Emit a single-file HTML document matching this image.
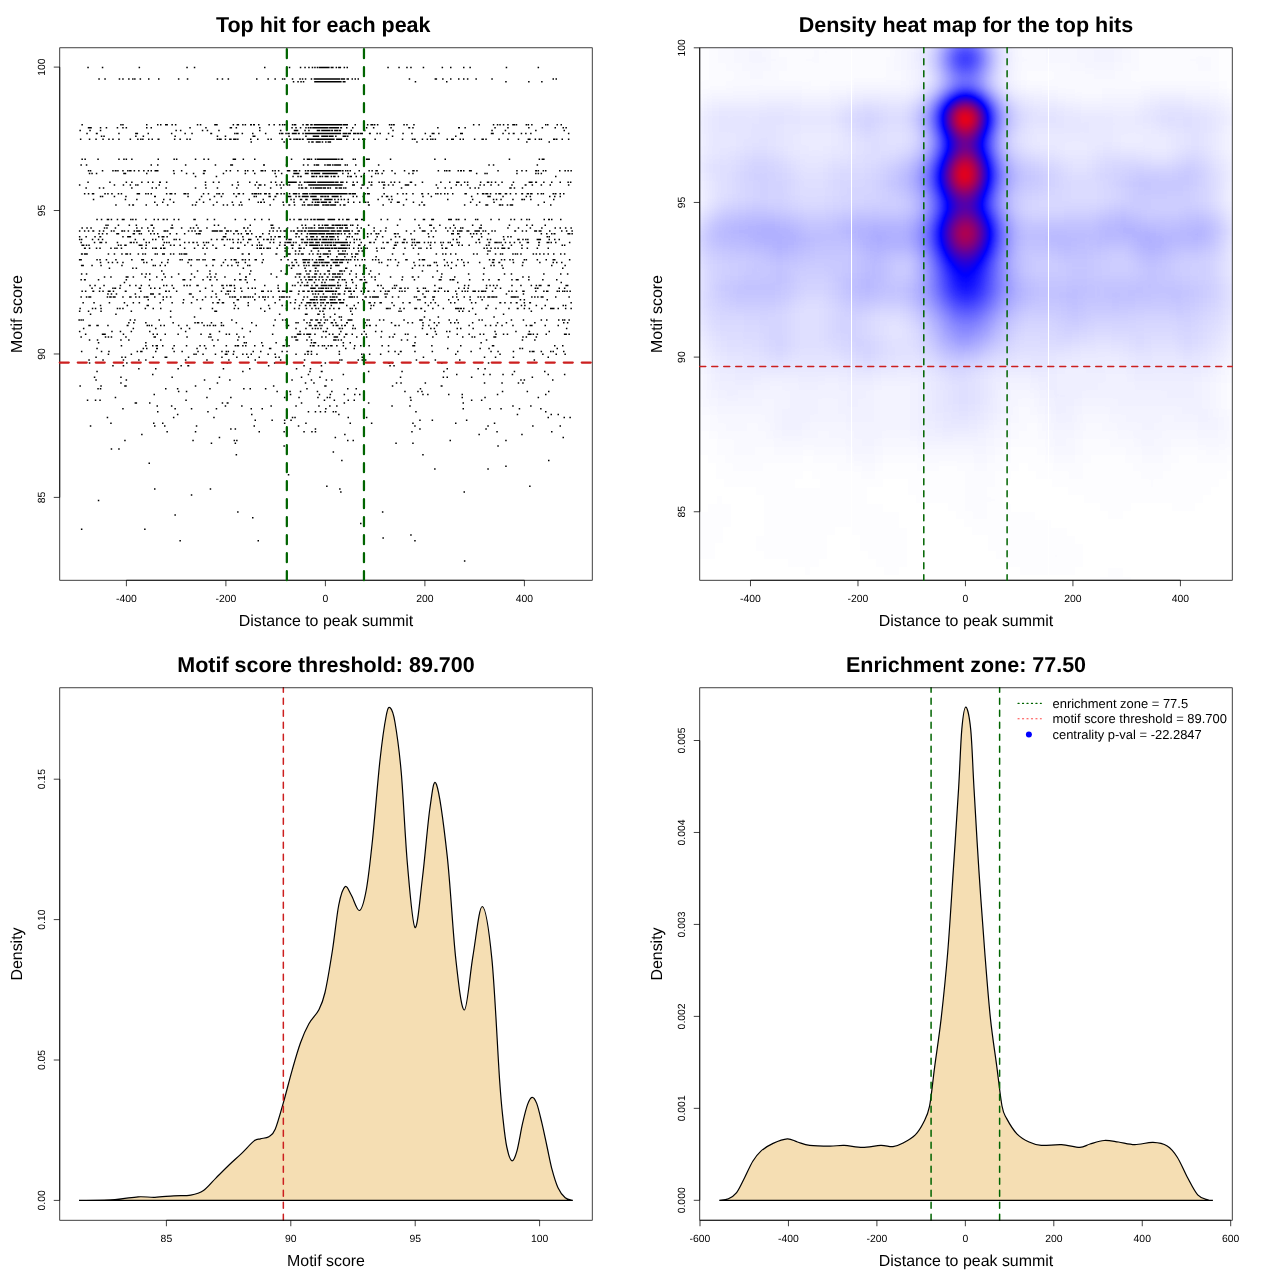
<!DOCTYPE html>
<html><head><meta charset="utf-8"><title>plot</title><style>html,body{margin:0;padding:0;background:#fff;}svg{display:block;will-change:transform;}text{font-family:"Liberation Sans",sans-serif;fill:#000;text-rendering:geometricPrecision;-webkit-font-smoothing:antialiased;}</style>
</head><body>
<svg width="1280" height="1280" viewBox="0 0 1280 1280">
<rect width="1280" height="1280" fill="#fff"/>
<rect x="59.76" y="47.8" width="532.48" height="532.44" fill="none" stroke="#000" stroke-width="0.75"/>
<path d="M126.4 580.24H524.4M126.4 580.24v6M225.9 580.24v6M325.4 580.24v6M424.9 580.24v6M524.4 580.24v6" stroke="#000" stroke-width="0.75" fill="none"/>
<text x="126.4" y="601.94" text-anchor="middle" font-size="10.4">-400</text>
<text x="225.9" y="601.94" text-anchor="middle" font-size="10.4">-200</text>
<text x="325.4" y="601.94" text-anchor="middle" font-size="10.4">0</text>
<text x="424.9" y="601.94" text-anchor="middle" font-size="10.4">200</text>
<text x="524.4" y="601.94" text-anchor="middle" font-size="10.4">400</text>
<path d="M59.76 497.4V67.1M59.76 497.4h-6M59.76 353.97h-6M59.76 210.53h-6M59.76 67.1h-6" stroke="#000" stroke-width="0.75" fill="none"/>
<text transform="translate(45.36 497.4) rotate(-90)" text-anchor="middle" font-size="10.4">85</text>
<text transform="translate(45.36 353.97) rotate(-90)" text-anchor="middle" font-size="10.4">90</text>
<text transform="translate(45.36 210.53) rotate(-90)" text-anchor="middle" font-size="10.4">95</text>
<text transform="translate(45.36 67.1) rotate(-90)" text-anchor="middle" font-size="10.4">100</text>
<text x="323.2" y="31.7" text-anchor="middle" font-size="21.5" font-weight="bold">Top hit for each peak</text>
<text x="326" y="625.9" text-anchor="middle" font-size="15.94">Distance to peak summit</text>
<text transform="translate(21.9 314.02) rotate(-90)" text-anchor="middle" font-size="15.94">Motif score</text>
<path d="M462.5 403.1h1.5M221.7 403.1h1.5M227.1 403.1h1.5M134.6 403.1h1.5M300.8 403.1h1.5M367.9 403.1h1.5M149.0 403.1h1.5M226.6 403.1h1.5M135.6 403.1h1.5M343.6 403.1h1.5M323.7 400.2h1.5M410.2 400.2h1.5M99.3 400.2h1.5M94.8 400.2h1.5M347.5 400.2h1.5M86.8 400.2h1.5M185.3 400.2h1.5M480.9 400.2h1.5M470.9 400.2h1.5M333.6 400.2h1.5M353.5 400.2h1.5M537.6 397.4h1.5M283.9 397.4h1.5M230.1 397.4h1.5M409.7 397.4h1.5M317.2 397.4h1.5M298.3 397.4h1.5M484.3 397.4h1.5M461.5 397.4h1.5M206.2 397.4h1.5M114.7 397.4h1.5M326.6 397.4h1.5M329.1 397.4h1.5M448.0 394.5h1.5M153.5 394.5h1.5M289.8 394.5h1.5M461.5 394.5h1.5M354.0 394.5h1.5M427.1 394.5h1.5M496.8 394.5h1.5M343.6 394.5h1.5M545.0 394.5h1.5M422.2 394.5h1.5M359.0 394.5h1.5M329.6 394.5h1.5M318.7 394.5h1.5M421.2 391.6h1.5M526.6 391.6h1.5M501.8 391.6h1.5M548.0 391.6h1.5M404.2 391.6h1.5M177.9 391.6h1.5M185.8 391.6h1.5M331.1 391.6h1.5M289.3 391.6h1.5M299.8 391.6h1.5M417.2 391.6h1.5M316.7 391.6h1.5M276.4 391.6h1.5M264.9 388.7h1.5M419.7 388.7h1.5M97.3 388.7h1.5M165.0 388.7h1.5M209.2 388.7h1.5M355.5 388.7h1.5M176.9 388.7h1.5M243.1 388.7h1.5M99.8 388.7h1.5M249.5 388.7h1.5M306.2 388.7h1.5M347.0 388.7h1.5M441.1 385.9h1.5M79.4 385.9h1.5M194.8 385.9h1.5M125.2 385.9h1.5M124.2 385.9h1.5M100.3 385.9h1.5M391.8 385.9h1.5M440.6 385.9h1.5M272.9 385.9h1.5M325.1 385.9h1.5M324.2 385.9h1.5M120.2 383.0h1.5M424.6 383.0h1.5M395.8 383.0h1.5M483.8 383.0h1.5M517.7 383.0h1.5M522.2 383.0h1.5M501.3 383.0h1.5M216.7 383.0h1.5M400.3 383.0h1.5M304.8 383.0h1.5M313.2 383.0h1.5M520.2 380.1h1.5M552.0 380.1h1.5M95.3 380.1h1.5M291.3 380.1h1.5M331.1 380.1h1.5M229.1 380.1h1.5M125.6 380.1h1.5M523.6 380.1h1.5M203.8 380.1h1.5M310.7 380.1h1.5M325.6 380.1h1.5M446.5 377.3h1.5M93.8 377.3h1.5M171.4 377.3h1.5M120.2 377.3h1.5M442.6 377.3h1.5M218.7 377.3h1.5M470.9 377.3h1.5M531.6 377.3h1.5M399.8 377.3h1.5M300.8 377.3h1.5M319.2 377.3h1.5M547.5 374.4h1.5M152.0 374.4h1.5M563.9 374.4h1.5M456.0 374.4h1.5M511.7 374.4h1.5M502.3 374.4h1.5M489.3 374.4h1.5M482.9 374.4h1.5M307.7 374.4h1.5M342.6 374.4h1.5M544.0 371.5h1.5M242.1 371.5h1.5M320.7 371.5h1.5M513.7 371.5h1.5M96.3 371.5h1.5M401.3 371.5h1.5M443.1 371.5h1.5M367.9 371.5h1.5M309.2 371.5h1.5M321.2 371.5h1.5M177.4 368.7h1.5M138.1 368.7h1.5M295.8 368.7h1.5M155.0 368.7h1.5M477.4 368.7h1.5M446.5 368.7h1.5M249.0 368.7h1.5M222.7 368.7h1.5M484.3 368.7h1.5M309.7 368.7h1.5M180.4 365.8h1.5M389.3 365.8h1.5M393.3 365.8h1.5M187.8 365.8h1.5M303.3 365.8h1.5M112.2 365.8h1.5M267.9 365.8h1.5M187.3 365.8h1.5M122.7 365.8h1.5M320.7 365.8h1.5M441.1 362.9h1.5M273.9 362.9h1.5M391.8 362.9h1.5M388.8 362.9h1.5M226.6 362.9h1.5M487.8 362.9h1.5M324.6 362.9h1.5M387.8 362.9h1.5M126.1 362.9h1.5M88.8 362.9h1.5M337.1 362.9h1.5M339.1 360.1h1.5M434.6 360.1h1.5M145.1 360.1h1.5M122.7 360.1h1.5M254.5 360.1h1.5M303.8 360.1h1.5M533.6 360.1h1.5M138.1 360.1h1.5M279.9 360.1h1.5M228.1 360.1h1.5M184.9 360.1h1.5M357.5 360.1h1.5M102.3 360.1h1.5M361.5 360.1h1.5M364.9 360.1h1.5M459.0 360.1h1.5M206.2 360.1h1.5M415.7 360.1h1.5M88.3 360.1h1.5M341.1 360.1h1.5M247.5 357.2h1.5M494.8 357.2h1.5M165.4 357.2h1.5M164.5 357.2h1.5M187.8 357.2h1.5M258.5 357.2h1.5M361.5 357.2h1.5M512.7 357.2h1.5M95.3 357.2h1.5M274.9 357.2h1.5M152.5 357.2h1.5M221.2 357.2h1.5M121.2 357.2h1.5M422.7 357.2h1.5M124.7 357.2h1.5M483.8 357.2h1.5M236.1 357.2h1.5M165.9 357.2h1.5M547.5 357.2h1.5M278.4 357.2h1.5M193.3 354.3h1.5M368.9 354.3h1.5M361.0 354.3h1.5M499.3 354.3h1.5M202.3 354.3h1.5M295.3 354.3h1.5M316.2 354.3h1.5M250.5 354.3h1.5M379.9 354.3h1.5M555.5 354.3h1.5M224.7 354.3h1.5M274.4 354.3h1.5M242.1 354.3h1.5M310.7 354.3h1.5M564.4 354.3h1.5M455.0 354.3h1.5M232.6 354.3h1.5M542.1 354.3h1.5M214.7 354.3h1.5M195.3 354.3h1.5M397.8 354.3h1.5M267.4 354.3h1.5M107.7 354.3h1.5M246.0 354.3h1.5M130.6 354.3h1.5M304.3 354.3h1.5M338.6 354.3h1.5M307.2 354.3h1.5M226.1 354.3h1.5M363.0 354.3h1.5M252.5 351.5h1.5M531.6 351.5h1.5M80.9 351.5h1.5M414.2 351.5h1.5M181.4 351.5h1.5M490.3 351.5h1.5M338.6 351.5h1.5M563.0 351.5h1.5M260.0 351.5h1.5M394.3 351.5h1.5M233.1 351.5h1.5M310.7 351.5h1.5M108.2 351.5h1.5M387.8 351.5h1.5M497.3 351.5h1.5M533.1 351.5h1.5M470.4 351.5h1.5M281.4 351.5h1.5M400.3 351.5h1.5M140.1 351.5h1.5M221.2 351.5h1.5M197.3 351.5h1.5M141.1 351.5h1.5M173.4 351.5h1.5M540.6 351.5h1.5M399.8 351.5h1.5M550.0 351.5h1.5M225.6 351.5h1.5M306.7 351.5h1.5M136.6 351.5h1.5M431.6 351.5h1.5M155.0 351.5h1.5M100.8 351.5h1.5M512.7 351.5h1.5M286.3 351.5h1.5M552.5 351.5h1.5M457.0 351.5h1.5M227.6 351.5h1.5M307.7 351.5h1.5M529.1 351.5h1.5M156.5 348.6h1.5M325.6 348.6h1.5M519.2 348.6h1.5M556.5 348.6h1.5M521.7 348.6h1.5M156.0 348.6h1.5M96.3 348.6h1.5M268.9 348.6h1.5M196.3 348.6h1.5M205.2 348.6h1.5M146.0 348.6h1.5M447.0 348.6h1.5M269.9 348.6h1.5M479.4 348.6h1.5M488.3 348.6h1.5M171.9 348.6h1.5M142.6 348.6h1.5M345.0 348.6h1.5M353.5 348.6h1.5M236.6 345.7h1.5M460.0 345.7h1.5M381.4 345.7h1.5M321.7 345.7h1.5M412.2 345.7h1.5M155.5 345.7h1.5M199.3 345.7h1.5M554.0 345.7h1.5M288.3 345.7h1.5M237.6 345.7h1.5M234.6 345.7h1.5M254.0 345.7h1.5M387.8 345.7h1.5M225.6 345.7h1.5M368.4 345.7h1.5M185.8 345.7h1.5M491.8 345.7h1.5M152.0 345.7h1.5M360.0 345.7h1.5M156.5 345.7h1.5M120.7 345.7h1.5M145.1 345.7h1.5M413.7 345.7h1.5M242.1 345.7h1.5M245.0 345.7h1.5M203.8 345.7h1.5M262.0 345.7h1.5M313.2 345.7h1.5M413.2 345.7h1.5M492.8 345.7h1.5M330.6 345.7h1.5M317.7 345.7h1.5M213.2 345.7h1.5M173.4 345.7h1.5M283.4 345.7h1.5M562.0 345.7h1.5M336.1 345.7h1.5M331.1 345.7h1.5M330.1 345.7h1.5M309.7 345.7h1.5M431.1 345.7h1.5M162.0 345.7h1.5M354.0 345.7h1.5M323.7 345.7h1.5M282.4 345.7h1.5M327.6 345.7h1.5M312.2 345.7h1.5M342.6 345.7h1.5M261.0 342.8h1.5M349.5 342.8h1.5M314.7 342.8h1.5M97.8 342.8h1.5M245.5 342.8h1.5M342.6 342.8h1.5M480.4 342.8h1.5M414.2 342.8h1.5M145.1 342.8h1.5M243.6 342.8h1.5M310.7 342.8h1.5M313.2 342.8h1.5M275.4 342.8h1.5M160.0 340.0h1.5M295.3 340.0h1.5M406.7 340.0h1.5M96.8 340.0h1.5M128.1 340.0h1.5M400.8 340.0h1.5M485.8 340.0h1.5M211.7 340.0h1.5M217.2 340.0h1.5M334.6 340.0h1.5M120.2 340.0h1.5M521.7 340.0h1.5M285.3 340.0h1.5M534.1 340.0h1.5M88.8 340.0h1.5M237.1 340.0h1.5M310.7 340.0h1.5M337.6 340.0h1.5M335.1 340.0h1.5M333.1 340.0h1.5M340.6 340.0h1.5M306.2 340.0h1.5M296.8 340.0h1.5M471.4 337.1h1.5M447.5 337.1h1.5M522.2 337.1h1.5M462.0 337.1h1.5M291.3 337.1h1.5M535.6 337.1h1.5M473.9 337.1h1.5M80.4 337.1h1.5M238.1 337.1h1.5M153.5 337.1h1.5M321.2 337.1h1.5M125.2 337.1h1.5M293.8 337.1h1.5M186.3 337.1h1.5M243.1 337.1h1.5M154.5 337.1h1.5M494.8 337.1h1.5M308.7 337.1h1.5M388.8 337.1h1.5M325.1 337.1h1.5M210.2 337.1h1.5M525.6 337.1h1.5M208.2 337.1h1.5M432.1 337.1h1.5M104.8 337.1h1.5M107.7 337.1h1.5M493.3 337.1h1.5M356.0 337.1h1.5M414.7 337.1h1.5M392.3 337.1h1.5M110.7 337.1h1.5M380.4 337.1h1.5M333.6 337.1h1.5M335.1 337.1h1.5M365.9 337.1h1.5M336.6 337.1h1.5M343.6 337.1h1.5M295.3 337.1h1.5M565.4 334.2h1.5M298.3 334.2h1.5M296.8 334.2h1.5M407.2 334.2h1.5M306.2 334.2h1.5M122.7 334.2h1.5M568.4 334.2h1.5M456.5 334.2h1.5M479.4 334.2h1.5M530.1 334.2h1.5M426.1 334.2h1.5M502.8 334.2h1.5M536.6 334.2h1.5M200.3 334.2h1.5M435.6 334.2h1.5M495.3 334.2h1.5M563.9 334.2h1.5M527.6 334.2h1.5M346.0 334.2h1.5M426.6 334.2h1.5M306.7 334.2h1.5M532.6 334.2h1.5M361.0 334.2h1.5M271.9 334.2h1.5M482.9 334.2h1.5M152.5 334.2h1.5M101.8 334.2h1.5M164.5 334.2h1.5M84.9 334.2h1.5M468.4 334.2h1.5M209.7 334.2h1.5M228.6 334.2h1.5M225.6 334.2h1.5M177.4 334.2h1.5M529.1 334.2h1.5M104.3 334.2h1.5M308.7 334.2h1.5M393.8 334.2h1.5M332.1 334.2h1.5M236.1 334.2h1.5M209.2 334.2h1.5M545.5 334.2h1.5M103.3 334.2h1.5M506.7 334.2h1.5M156.5 334.2h1.5M404.7 334.2h1.5M365.4 334.2h1.5M299.8 334.2h1.5M338.6 334.2h1.5M328.6 334.2h1.5M314.2 334.2h1.5M351.5 334.2h1.5M345.0 334.2h1.5M307.7 334.2h1.5M303.3 334.2h1.5M309.7 334.2h1.5M218.7 331.4h1.5M515.2 331.4h1.5M363.5 331.4h1.5M111.2 331.4h1.5M249.5 331.4h1.5M446.0 331.4h1.5M299.3 331.4h1.5M149.0 331.4h1.5M548.5 331.4h1.5M528.6 331.4h1.5M434.6 331.4h1.5M119.7 331.4h1.5M184.9 331.4h1.5M380.9 331.4h1.5M130.6 331.4h1.5M374.9 331.4h1.5M78.9 331.4h1.5M325.6 331.4h1.5M449.0 331.4h1.5M494.3 331.4h1.5M322.7 331.4h1.5M340.1 331.4h1.5M325.1 331.4h1.5M430.1 328.5h1.5M155.0 328.5h1.5M421.7 328.5h1.5M433.6 328.5h1.5M241.6 328.5h1.5M317.2 328.5h1.5M82.9 328.5h1.5M311.7 328.5h1.5M339.1 328.5h1.5M565.9 328.5h1.5M180.4 328.5h1.5M338.6 328.5h1.5M295.3 328.5h1.5M460.0 328.5h1.5M352.0 328.5h1.5M456.5 328.5h1.5M472.4 328.5h1.5M132.6 328.5h1.5M188.8 328.5h1.5M314.7 328.5h1.5M341.6 328.5h1.5M326.6 328.5h1.5M320.2 328.5h1.5M305.2 328.5h1.5M354.5 328.5h1.5M375.4 325.6h1.5M368.9 325.6h1.5M89.3 325.6h1.5M525.6 325.6h1.5M335.6 325.6h1.5M394.3 325.6h1.5M186.3 325.6h1.5M332.6 325.6h1.5M88.3 325.6h1.5M344.1 325.6h1.5M529.6 325.6h1.5M394.8 325.6h1.5M365.9 325.6h1.5M344.5 325.6h1.5M222.7 325.6h1.5M484.8 325.6h1.5M220.7 325.6h1.5M531.1 325.6h1.5M501.3 325.6h1.5M436.1 325.6h1.5M127.1 325.6h1.5M272.9 325.6h1.5M398.3 325.6h1.5M255.5 325.6h1.5M177.9 325.6h1.5M287.8 325.6h1.5M151.0 325.6h1.5M203.3 325.6h1.5M126.6 325.6h1.5M468.4 325.6h1.5M97.3 325.6h1.5M209.2 325.6h1.5M337.1 325.6h1.5M163.5 325.6h1.5M557.5 325.6h1.5M489.8 325.6h1.5M422.2 325.6h1.5M369.4 325.6h1.5M107.2 325.6h1.5M214.7 325.6h1.5M495.3 325.6h1.5M146.5 325.6h1.5M544.5 325.6h1.5M206.7 325.6h1.5M512.2 325.6h1.5M212.7 325.6h1.5M148.5 325.6h1.5M160.0 325.6h1.5M428.1 325.6h1.5M96.3 325.6h1.5M352.5 325.6h1.5M315.7 325.6h1.5M310.2 325.6h1.5M308.7 325.6h1.5M341.1 325.6h1.5M314.2 325.6h1.5M285.8 325.6h1.5M321.2 325.6h1.5M319.2 325.6h1.5M346.5 322.8h1.5M235.6 322.8h1.5M197.8 322.8h1.5M196.8 322.8h1.5M450.0 322.8h1.5M335.1 322.8h1.5M201.3 322.8h1.5M496.8 322.8h1.5M133.1 322.8h1.5M172.4 322.8h1.5M438.1 322.8h1.5M563.0 322.8h1.5M566.9 322.8h1.5M285.8 322.8h1.5M128.1 322.8h1.5M194.3 322.8h1.5M251.0 322.8h1.5M145.1 322.8h1.5M319.2 322.8h1.5M317.7 322.8h1.5M457.5 322.8h1.5M454.0 322.8h1.5M210.7 322.8h1.5M346.0 322.8h1.5M534.1 322.8h1.5M422.2 322.8h1.5M295.3 322.8h1.5M411.7 322.8h1.5M433.6 322.8h1.5M390.8 322.8h1.5M407.2 322.8h1.5M471.9 322.8h1.5M505.7 322.8h1.5M364.4 322.8h1.5M363.5 322.8h1.5M220.7 322.8h1.5M306.2 322.8h1.5M323.7 322.8h1.5M330.6 322.8h1.5M297.3 322.8h1.5M331.6 322.8h1.5M309.2 322.8h1.5M318.7 322.8h1.5M351.0 319.9h1.5M563.9 319.9h1.5M368.4 319.9h1.5M540.6 319.9h1.5M382.9 319.9h1.5M348.5 319.9h1.5M481.4 319.9h1.5M558.0 319.9h1.5M403.3 319.9h1.5M456.0 319.9h1.5M510.7 319.9h1.5M378.9 319.9h1.5M158.5 319.9h1.5M82.4 319.9h1.5M421.2 319.9h1.5M129.6 319.9h1.5M429.1 319.9h1.5M134.1 319.9h1.5M320.2 319.9h1.5M281.9 319.9h1.5M80.4 319.9h1.5M78.4 319.9h1.5M231.1 319.9h1.5M522.7 319.9h1.5M326.6 319.9h1.5M420.7 319.9h1.5M478.4 319.9h1.5M419.2 319.9h1.5M366.4 319.9h1.5M568.4 319.9h1.5M310.2 319.9h1.5M562.0 319.9h1.5M274.4 319.9h1.5M448.5 319.9h1.5M284.8 319.9h1.5M546.0 319.9h1.5M340.6 319.9h1.5M349.5 319.9h1.5M303.3 319.9h1.5M324.6 319.9h1.5M347.5 319.9h1.5M316.7 319.9h1.5M315.2 319.9h1.5M311.2 319.9h1.5M316.2 319.9h1.5M333.6 319.9h1.5M169.9 317.0h1.5M193.8 317.0h1.5M423.7 317.0h1.5M493.3 317.0h1.5M437.6 317.0h1.5M323.2 317.0h1.5M340.6 317.0h1.5M338.6 317.0h1.5M329.6 317.0h1.5M474.9 314.2h1.5M306.2 314.2h1.5M89.8 314.2h1.5M115.2 314.2h1.5M502.8 314.2h1.5M278.9 314.2h1.5M304.8 314.2h1.5M351.5 314.2h1.5M323.2 314.2h1.5M317.2 314.2h1.5M318.2 314.2h1.5M334.1 314.2h1.5M87.8 311.3h1.5M530.6 311.3h1.5M264.0 311.3h1.5M100.3 311.3h1.5M215.7 311.3h1.5M458.5 311.3h1.5M468.4 311.3h1.5M398.3 311.3h1.5M462.0 311.3h1.5M350.0 311.3h1.5M130.6 311.3h1.5M400.3 311.3h1.5M424.1 311.3h1.5M214.2 311.3h1.5M78.9 311.3h1.5M169.9 311.3h1.5M322.2 311.3h1.5M319.2 311.3h1.5M517.2 308.4h1.5M94.8 308.4h1.5M160.0 308.4h1.5M387.3 308.4h1.5M355.0 308.4h1.5M459.5 308.4h1.5M460.5 308.4h1.5M399.3 308.4h1.5M528.6 308.4h1.5M553.0 308.4h1.5M91.8 308.4h1.5M116.7 308.4h1.5M457.5 308.4h1.5M349.5 308.4h1.5M298.3 308.4h1.5M485.3 308.4h1.5M516.7 308.4h1.5M550.0 308.4h1.5M557.5 308.4h1.5M285.8 308.4h1.5M455.0 308.4h1.5M456.0 308.4h1.5M432.1 308.4h1.5M463.0 308.4h1.5M199.8 308.4h1.5M152.5 308.4h1.5M237.6 308.4h1.5M315.2 308.4h1.5M144.6 308.4h1.5M79.4 308.4h1.5M122.2 308.4h1.5M442.6 308.4h1.5M119.2 308.4h1.5M420.2 308.4h1.5M541.1 308.4h1.5M233.6 308.4h1.5M100.3 308.4h1.5M305.7 308.4h1.5M385.8 308.4h1.5M495.3 308.4h1.5M323.2 308.4h1.5M415.7 308.4h1.5M523.6 308.4h1.5M403.3 308.4h1.5M420.7 308.4h1.5M471.9 308.4h1.5M389.3 308.4h1.5M268.9 308.4h1.5M551.5 308.4h1.5M570.4 308.4h1.5M351.5 308.4h1.5M564.9 308.4h1.5M414.2 308.4h1.5M508.2 308.4h1.5M260.0 308.4h1.5M369.9 308.4h1.5M485.8 308.4h1.5M293.8 308.4h1.5M211.7 308.4h1.5M338.6 308.4h1.5M329.1 308.4h1.5M338.1 308.4h1.5M324.2 308.4h1.5M333.1 308.4h1.5M322.7 308.4h1.5M317.7 308.4h1.5M311.2 308.4h1.5M437.6 305.6h1.5M99.8 305.6h1.5M393.3 305.6h1.5M370.4 305.6h1.5M520.7 305.6h1.5M281.4 305.6h1.5M487.3 305.6h1.5M147.5 305.6h1.5M535.6 305.6h1.5M234.6 305.6h1.5M564.9 305.6h1.5M146.5 305.6h1.5M247.5 305.6h1.5M562.5 305.6h1.5M324.6 305.6h1.5M372.9 305.6h1.5M267.9 305.6h1.5M544.5 305.6h1.5M524.1 305.6h1.5M285.8 305.6h1.5M126.6 305.6h1.5M427.6 305.6h1.5M304.8 305.6h1.5M353.5 305.6h1.5M320.2 305.6h1.5M305.2 305.6h1.5M346.0 305.6h1.5M314.7 305.6h1.5M313.7 305.6h1.5M330.6 305.6h1.5M298.8 305.6h1.5M309.2 305.6h1.5M380.4 302.7h1.5M368.4 302.7h1.5M212.2 302.7h1.5M82.4 302.7h1.5M93.3 302.7h1.5M123.7 302.7h1.5M499.8 302.7h1.5M132.6 302.7h1.5M108.7 302.7h1.5M499.3 302.7h1.5M138.6 302.7h1.5M529.6 302.7h1.5M327.6 302.7h1.5M373.9 302.7h1.5M190.8 302.7h1.5M474.9 302.7h1.5M504.2 302.7h1.5M159.5 302.7h1.5M515.7 302.7h1.5M570.4 302.7h1.5M289.8 302.7h1.5M409.2 302.7h1.5M379.4 302.7h1.5M221.7 302.7h1.5M430.1 302.7h1.5M274.4 302.7h1.5M402.3 302.7h1.5M247.5 302.7h1.5M217.7 302.7h1.5M182.4 302.7h1.5M523.6 302.7h1.5M335.1 302.7h1.5M470.9 302.7h1.5M357.5 302.7h1.5M434.6 302.7h1.5M454.0 302.7h1.5M424.6 302.7h1.5M516.2 302.7h1.5M408.7 302.7h1.5M391.3 302.7h1.5M171.4 302.7h1.5M342.6 302.7h1.5M216.7 302.7h1.5M222.7 302.7h1.5M529.1 302.7h1.5M233.1 302.7h1.5M450.0 302.7h1.5M510.2 302.7h1.5M314.2 302.7h1.5M330.6 302.7h1.5M339.1 302.7h1.5M312.7 302.7h1.5M322.2 302.7h1.5M336.1 302.7h1.5M334.1 302.7h1.5M332.1 302.7h1.5M326.1 302.7h1.5M306.2 302.7h1.5M307.7 302.7h1.5M316.7 302.7h1.5M310.2 302.7h1.5M322.7 302.7h1.5M333.1 302.7h1.5M339.6 302.7h1.5M369.4 302.7h1.5M341.6 302.7h1.5M309.2 302.7h1.5M308.7 302.7h1.5M330.1 302.7h1.5M300.8 302.7h1.5M340.6 302.7h1.5M320.2 302.7h1.5M294.3 302.7h1.5M254.0 299.8h1.5M519.7 299.8h1.5M523.6 299.8h1.5M343.1 299.8h1.5M196.3 299.8h1.5M278.9 299.8h1.5M311.2 299.8h1.5M294.8 299.8h1.5M162.5 299.8h1.5M316.2 299.8h1.5M457.5 299.8h1.5M546.5 299.8h1.5M302.3 299.8h1.5M201.8 299.8h1.5M469.4 299.8h1.5M237.6 299.8h1.5M432.6 299.8h1.5M147.5 299.8h1.5M448.0 299.8h1.5M182.9 299.8h1.5M218.7 299.8h1.5M481.4 299.8h1.5M419.2 299.8h1.5M334.1 299.8h1.5M417.2 299.8h1.5M323.7 299.8h1.5M236.6 299.8h1.5M331.1 299.8h1.5M332.1 299.8h1.5M309.7 299.8h1.5M324.2 299.8h1.5M319.7 299.8h1.5M312.7 299.8h1.5M362.0 299.8h1.5M339.6 299.8h1.5M338.1 299.8h1.5M320.2 299.8h1.5M321.2 299.8h1.5M313.7 299.8h1.5M329.6 299.8h1.5M315.7 299.8h1.5M338.6 299.8h1.5M323.2 299.8h1.5M310.2 299.8h1.5M264.0 299.8h1.5M413.7 296.9h1.5M215.7 296.9h1.5M375.9 296.9h1.5M210.7 296.9h1.5M377.4 296.9h1.5M288.8 296.9h1.5M262.0 296.9h1.5M452.0 296.9h1.5M281.9 296.9h1.5M258.5 296.9h1.5M169.9 296.9h1.5M234.6 296.9h1.5M88.3 296.9h1.5M333.6 296.9h1.5M531.1 296.9h1.5M122.2 296.9h1.5M491.3 296.9h1.5M348.5 296.9h1.5M272.4 296.9h1.5M365.4 296.9h1.5M456.0 296.9h1.5M463.5 296.9h1.5M165.9 296.9h1.5M433.6 296.9h1.5M364.4 296.9h1.5M192.3 296.9h1.5M432.1 296.9h1.5M252.0 296.9h1.5M369.4 296.9h1.5M147.0 296.9h1.5M356.5 296.9h1.5M555.0 296.9h1.5M233.6 296.9h1.5M154.0 296.9h1.5M280.9 296.9h1.5M278.9 296.9h1.5M283.4 296.9h1.5M229.1 296.9h1.5M135.1 296.9h1.5M542.1 296.9h1.5M204.8 296.9h1.5M517.2 296.9h1.5M534.1 296.9h1.5M85.8 296.9h1.5M106.7 296.9h1.5M143.6 296.9h1.5M138.6 296.9h1.5M231.6 296.9h1.5M110.2 296.9h1.5M264.5 296.9h1.5M114.2 296.9h1.5M374.9 296.9h1.5M109.2 296.9h1.5M162.5 296.9h1.5M495.3 296.9h1.5M479.9 296.9h1.5M80.4 296.9h1.5M423.7 296.9h1.5M89.8 296.9h1.5M376.9 296.9h1.5M349.0 296.9h1.5M397.8 296.9h1.5M487.3 296.9h1.5M243.1 296.9h1.5M249.5 296.9h1.5M244.6 296.9h1.5M129.1 296.9h1.5M510.7 296.9h1.5M349.5 296.9h1.5M391.8 296.9h1.5M371.9 296.9h1.5M495.8 296.9h1.5M493.3 296.9h1.5M415.7 296.9h1.5M512.2 296.9h1.5M351.5 296.9h1.5M568.4 296.9h1.5M385.3 296.9h1.5M286.3 296.9h1.5M469.4 296.9h1.5M145.5 296.9h1.5M515.2 296.9h1.5M488.8 296.9h1.5M262.5 296.9h1.5M424.6 296.9h1.5M483.4 296.9h1.5M247.5 296.9h1.5M513.7 296.9h1.5M303.3 296.9h1.5M540.6 296.9h1.5M477.4 296.9h1.5M130.1 296.9h1.5M245.0 296.9h1.5M240.1 296.9h1.5M537.1 296.9h1.5M384.8 296.9h1.5M112.7 296.9h1.5M491.8 296.9h1.5M350.5 296.9h1.5M267.4 296.9h1.5M316.2 296.9h1.5M325.6 296.9h1.5M321.7 296.9h1.5M373.4 296.9h1.5M325.1 296.9h1.5M326.1 296.9h1.5M315.7 296.9h1.5M335.6 296.9h1.5M319.7 296.9h1.5M332.1 296.9h1.5M306.7 296.9h1.5M285.8 296.9h1.5M323.7 296.9h1.5M313.7 296.9h1.5M364.9 296.9h1.5M336.1 296.9h1.5M331.6 296.9h1.5M329.6 296.9h1.5M353.5 296.9h1.5M343.6 294.1h1.5M386.3 294.1h1.5M362.5 294.1h1.5M151.0 294.1h1.5M297.8 294.1h1.5M158.5 294.1h1.5M456.0 294.1h1.5M115.7 294.1h1.5M422.2 294.1h1.5M152.5 294.1h1.5M150.0 294.1h1.5M254.5 294.1h1.5M110.7 294.1h1.5M215.2 294.1h1.5M107.2 294.1h1.5M312.2 294.1h1.5M505.7 294.1h1.5M159.0 294.1h1.5M384.3 294.1h1.5M350.5 294.1h1.5M225.1 294.1h1.5M188.8 294.1h1.5M134.6 294.1h1.5M190.3 294.1h1.5M227.6 294.1h1.5M522.7 294.1h1.5M339.1 294.1h1.5M337.6 294.1h1.5M314.7 294.1h1.5M334.6 294.1h1.5M322.7 294.1h1.5M332.1 294.1h1.5M317.7 294.1h1.5M311.7 291.2h1.5M109.2 291.2h1.5M270.4 291.2h1.5M353.5 291.2h1.5M546.0 291.2h1.5M556.5 291.2h1.5M434.6 291.2h1.5M298.3 291.2h1.5M425.6 291.2h1.5M124.7 291.2h1.5M387.3 291.2h1.5M102.3 291.2h1.5M199.3 291.2h1.5M241.1 291.2h1.5M569.4 291.2h1.5M543.1 291.2h1.5M175.9 291.2h1.5M484.8 291.2h1.5M562.0 291.2h1.5M229.6 291.2h1.5M84.9 291.2h1.5M98.8 291.2h1.5M311.2 291.2h1.5M477.9 291.2h1.5M535.1 291.2h1.5M401.3 291.2h1.5M491.8 291.2h1.5M472.4 291.2h1.5M417.2 291.2h1.5M350.0 291.2h1.5M285.3 291.2h1.5M302.3 291.2h1.5M165.4 291.2h1.5M388.3 291.2h1.5M466.9 291.2h1.5M508.2 291.2h1.5M360.5 291.2h1.5M327.6 291.2h1.5M523.2 291.2h1.5M444.0 291.2h1.5M344.1 291.2h1.5M455.0 291.2h1.5M515.7 291.2h1.5M353.0 291.2h1.5M211.7 291.2h1.5M165.0 291.2h1.5M261.0 291.2h1.5M92.3 291.2h1.5M373.4 291.2h1.5M417.7 291.2h1.5M107.7 291.2h1.5M480.9 291.2h1.5M484.3 291.2h1.5M461.5 291.2h1.5M398.8 291.2h1.5M437.6 291.2h1.5M281.9 291.2h1.5M320.2 291.2h1.5M283.4 291.2h1.5M321.2 291.2h1.5M289.8 291.2h1.5M112.7 291.2h1.5M379.9 291.2h1.5M447.5 291.2h1.5M277.9 291.2h1.5M81.4 291.2h1.5M168.4 291.2h1.5M278.4 291.2h1.5M125.2 291.2h1.5M473.9 291.2h1.5M92.8 291.2h1.5M367.9 291.2h1.5M547.0 291.2h1.5M447.0 291.2h1.5M522.2 291.2h1.5M316.2 291.2h1.5M289.3 291.2h1.5M332.1 291.2h1.5M563.9 291.2h1.5M433.6 291.2h1.5M308.2 291.2h1.5M566.4 291.2h1.5M267.4 291.2h1.5M349.0 291.2h1.5M233.6 291.2h1.5M227.6 291.2h1.5M404.2 291.2h1.5M226.6 291.2h1.5M290.8 291.2h1.5M348.0 291.2h1.5M262.0 291.2h1.5M464.4 291.2h1.5M140.1 291.2h1.5M482.4 291.2h1.5M474.4 291.2h1.5M558.5 291.2h1.5M262.5 291.2h1.5M427.6 291.2h1.5M418.2 291.2h1.5M220.7 291.2h1.5M511.2 291.2h1.5M384.8 291.2h1.5M321.7 291.2h1.5M303.3 291.2h1.5M314.7 291.2h1.5M335.6 291.2h1.5M328.6 291.2h1.5M319.7 291.2h1.5M325.1 291.2h1.5M318.2 291.2h1.5M330.1 291.2h1.5M331.1 291.2h1.5M367.4 291.2h1.5M334.6 291.2h1.5M307.2 291.2h1.5M326.1 291.2h1.5M329.1 291.2h1.5M332.6 291.2h1.5M328.1 291.2h1.5M154.0 288.3h1.5M534.6 288.3h1.5M277.4 288.3h1.5M438.6 288.3h1.5M240.1 288.3h1.5M119.2 288.3h1.5M400.3 288.3h1.5M391.8 288.3h1.5M485.8 288.3h1.5M114.7 288.3h1.5M536.6 288.3h1.5M558.5 288.3h1.5M325.1 288.3h1.5M159.0 288.3h1.5M254.5 288.3h1.5M416.7 288.3h1.5M463.5 288.3h1.5M204.8 288.3h1.5M382.4 288.3h1.5M440.6 288.3h1.5M138.6 288.3h1.5M499.8 288.3h1.5M407.2 288.3h1.5M150.0 288.3h1.5M247.5 288.3h1.5M139.6 288.3h1.5M494.8 288.3h1.5M251.5 288.3h1.5M467.4 288.3h1.5M99.3 288.3h1.5M399.3 288.3h1.5M424.6 288.3h1.5M114.2 288.3h1.5M234.1 288.3h1.5M345.0 288.3h1.5M563.9 288.3h1.5M112.2 288.3h1.5M458.0 288.3h1.5M91.3 288.3h1.5M394.3 288.3h1.5M422.7 288.3h1.5M537.1 288.3h1.5M222.7 288.3h1.5M346.0 288.3h1.5M404.2 288.3h1.5M172.9 288.3h1.5M355.5 288.3h1.5M321.2 288.3h1.5M322.7 288.3h1.5M310.2 288.3h1.5M362.5 288.3h1.5M349.5 288.3h1.5M338.1 288.3h1.5M347.0 288.3h1.5M364.4 288.3h1.5M320.2 288.3h1.5M327.6 288.3h1.5M314.2 288.3h1.5M330.6 288.3h1.5M318.2 288.3h1.5M312.7 288.3h1.5M335.6 288.3h1.5M321.7 288.3h1.5M336.1 288.3h1.5M311.7 288.3h1.5M325.6 288.3h1.5M119.7 285.5h1.5M189.3 285.5h1.5M264.0 285.5h1.5M303.8 285.5h1.5M226.1 285.5h1.5M323.2 285.5h1.5M380.4 285.5h1.5M222.2 285.5h1.5M315.2 285.5h1.5M315.7 285.5h1.5M339.6 285.5h1.5M103.3 285.5h1.5M277.4 285.5h1.5M171.4 285.5h1.5M229.1 285.5h1.5M186.3 285.5h1.5M434.1 285.5h1.5M291.8 285.5h1.5M530.6 285.5h1.5M535.6 285.5h1.5M294.3 285.5h1.5M197.3 285.5h1.5M566.9 285.5h1.5M467.9 285.5h1.5M511.2 285.5h1.5M211.2 285.5h1.5M463.9 285.5h1.5M395.8 285.5h1.5M221.2 285.5h1.5M230.6 285.5h1.5M492.8 285.5h1.5M183.4 285.5h1.5M393.8 285.5h1.5M548.5 285.5h1.5M538.6 285.5h1.5M547.5 285.5h1.5M165.9 285.5h1.5M489.3 285.5h1.5M148.5 285.5h1.5M163.0 285.5h1.5M94.3 285.5h1.5M496.3 285.5h1.5M485.8 285.5h1.5M196.3 285.5h1.5M135.1 285.5h1.5M520.2 285.5h1.5M89.3 285.5h1.5M565.4 285.5h1.5M355.5 285.5h1.5M377.4 285.5h1.5M233.6 285.5h1.5M540.1 285.5h1.5M140.6 285.5h1.5M548.0 285.5h1.5M129.1 285.5h1.5M322.7 285.5h1.5M322.2 285.5h1.5M320.7 285.5h1.5M337.6 285.5h1.5M337.1 285.5h1.5M299.8 285.5h1.5M334.1 285.5h1.5M376.9 285.5h1.5M324.6 285.5h1.5M345.5 285.5h1.5M331.1 285.5h1.5M316.7 285.5h1.5M329.6 285.5h1.5M307.2 285.5h1.5M333.1 285.5h1.5M311.2 285.5h1.5M326.1 285.5h1.5M305.7 285.5h1.5M332.1 285.5h1.5M323.7 285.5h1.5M328.1 285.5h1.5M337.1 282.6h1.5M365.9 282.6h1.5M123.7 282.6h1.5M345.5 282.6h1.5M560.5 282.6h1.5M457.0 282.6h1.5M297.3 282.6h1.5M246.5 282.6h1.5M306.7 282.6h1.5M364.4 282.6h1.5M301.3 282.6h1.5M324.2 282.6h1.5M321.2 282.6h1.5M352.0 282.6h1.5M313.7 282.6h1.5M239.1 279.7h1.5M498.3 279.7h1.5M516.2 279.7h1.5M453.0 279.7h1.5M556.0 279.7h1.5M202.3 279.7h1.5M189.8 279.7h1.5M83.9 279.7h1.5M244.6 279.7h1.5M80.4 279.7h1.5M84.4 279.7h1.5M438.6 279.7h1.5M449.5 279.7h1.5M331.1 279.7h1.5M361.0 279.7h1.5M149.0 279.7h1.5M234.1 279.7h1.5M374.4 279.7h1.5M440.1 279.7h1.5M401.3 279.7h1.5M482.4 279.7h1.5M254.0 279.7h1.5M216.2 279.7h1.5M97.8 279.7h1.5M183.9 279.7h1.5M209.2 279.7h1.5M322.2 279.7h1.5M341.6 279.7h1.5M413.7 279.7h1.5M161.5 279.7h1.5M497.8 279.7h1.5M542.1 279.7h1.5M488.3 279.7h1.5M517.2 279.7h1.5M351.0 279.7h1.5M511.2 279.7h1.5M468.9 279.7h1.5M209.7 279.7h1.5M245.0 279.7h1.5M451.5 279.7h1.5M182.4 279.7h1.5M300.3 279.7h1.5M528.1 279.7h1.5M515.7 279.7h1.5M125.6 279.7h1.5M240.1 279.7h1.5M309.2 279.7h1.5M351.5 279.7h1.5M364.0 279.7h1.5M333.1 279.7h1.5M318.2 279.7h1.5M359.5 279.7h1.5M338.1 279.7h1.5M311.2 279.7h1.5M325.6 279.7h1.5M331.6 279.7h1.5M310.2 279.7h1.5M343.6 279.7h1.5M305.2 279.7h1.5M308.2 279.7h1.5M332.6 279.7h1.5M329.1 279.7h1.5M344.1 279.7h1.5M315.2 279.7h1.5M245.0 276.9h1.5M214.2 276.9h1.5M412.2 276.9h1.5M374.4 276.9h1.5M193.8 276.9h1.5M454.0 276.9h1.5M224.2 276.9h1.5M156.0 276.9h1.5M363.5 276.9h1.5M164.5 276.9h1.5M432.1 276.9h1.5M210.2 276.9h1.5M125.6 276.9h1.5M370.9 276.9h1.5M440.6 276.9h1.5M522.2 276.9h1.5M206.7 276.9h1.5M528.1 276.9h1.5M170.9 276.9h1.5M132.6 276.9h1.5M411.7 276.9h1.5M144.6 276.9h1.5M389.8 276.9h1.5M127.1 276.9h1.5M245.5 276.9h1.5M401.8 276.9h1.5M303.8 276.9h1.5M103.8 276.9h1.5M417.7 276.9h1.5M275.9 276.9h1.5M110.2 276.9h1.5M321.7 276.9h1.5M294.8 276.9h1.5M326.6 276.9h1.5M336.6 276.9h1.5M332.1 276.9h1.5M307.7 276.9h1.5M336.1 276.9h1.5M327.1 276.9h1.5M314.2 276.9h1.5M314.7 276.9h1.5M318.7 276.9h1.5M311.7 276.9h1.5M298.8 276.9h1.5M313.7 276.9h1.5M338.6 276.9h1.5M339.6 276.9h1.5M308.7 276.9h1.5M355.5 276.9h1.5M321.2 276.9h1.5M334.6 276.9h1.5M441.1 274.0h1.5M249.0 274.0h1.5M355.5 274.0h1.5M149.0 274.0h1.5M337.6 274.0h1.5M299.8 274.0h1.5M503.8 274.0h1.5M543.1 274.0h1.5M85.8 274.0h1.5M332.1 274.0h1.5M141.1 274.0h1.5M368.4 274.0h1.5M190.8 274.0h1.5M209.2 274.0h1.5M362.0 274.0h1.5M80.9 274.0h1.5M560.0 274.0h1.5M566.9 274.0h1.5M215.2 274.0h1.5M270.4 274.0h1.5M319.7 274.0h1.5M163.0 274.0h1.5M378.4 274.0h1.5M177.9 274.0h1.5M482.9 274.0h1.5M510.7 274.0h1.5M239.1 274.0h1.5M145.5 274.0h1.5M467.9 274.0h1.5M334.6 274.0h1.5M314.2 274.0h1.5M339.1 274.0h1.5M284.8 274.0h1.5M306.2 274.0h1.5M298.3 274.0h1.5M333.1 274.0h1.5M298.8 274.0h1.5M328.6 274.0h1.5M308.2 274.0h1.5M337.1 274.0h1.5M296.3 274.0h1.5M349.0 274.0h1.5M341.6 274.0h1.5M323.7 274.0h1.5M315.7 274.0h1.5M324.2 274.0h1.5M209.2 271.1h1.5M421.7 271.1h1.5M196.8 271.1h1.5M161.0 271.1h1.5M250.0 271.1h1.5M369.9 271.1h1.5M280.4 271.1h1.5M436.6 271.1h1.5M309.2 271.1h1.5M314.7 271.1h1.5M339.1 271.1h1.5M305.2 271.1h1.5M350.5 271.1h1.5M327.1 271.1h1.5M317.2 271.1h1.5M328.6 271.1h1.5M309.7 271.1h1.5M341.1 271.1h1.5M340.6 271.1h1.5M343.6 271.1h1.5M132.1 268.3h1.5M411.7 268.3h1.5M562.0 268.3h1.5M450.5 268.3h1.5M483.4 268.3h1.5M242.6 268.3h1.5M135.6 268.3h1.5M108.7 268.3h1.5M502.3 268.3h1.5M314.7 268.3h1.5M345.0 268.3h1.5M290.8 268.3h1.5M365.4 268.3h1.5M304.3 268.3h1.5M346.0 268.3h1.5M315.2 268.3h1.5M330.1 268.3h1.5M205.7 265.4h1.5M249.0 265.4h1.5M564.4 265.4h1.5M490.3 265.4h1.5M414.2 265.4h1.5M190.3 265.4h1.5M100.3 265.4h1.5M154.5 265.4h1.5M493.3 265.4h1.5M308.2 265.4h1.5M291.8 265.4h1.5M323.2 265.4h1.5M220.7 265.4h1.5M121.2 265.4h1.5M418.7 265.4h1.5M396.8 265.4h1.5M247.0 265.4h1.5M288.3 265.4h1.5M455.5 265.4h1.5M386.8 265.4h1.5M227.1 265.4h1.5M429.1 265.4h1.5M501.3 265.4h1.5M80.9 265.4h1.5M444.0 265.4h1.5M82.4 265.4h1.5M297.8 265.4h1.5M314.2 265.4h1.5M359.0 265.4h1.5M91.3 265.4h1.5M447.5 265.4h1.5M427.1 265.4h1.5M364.0 265.4h1.5M335.1 265.4h1.5M237.1 265.4h1.5M551.0 265.4h1.5M317.7 265.4h1.5M436.6 265.4h1.5M429.6 265.4h1.5M463.5 265.4h1.5M422.7 265.4h1.5M231.1 265.4h1.5M212.2 265.4h1.5M521.7 265.4h1.5M159.5 265.4h1.5M152.5 265.4h1.5M164.5 265.4h1.5M355.0 265.4h1.5M330.6 265.4h1.5M318.2 265.4h1.5M322.2 265.4h1.5M336.6 265.4h1.5M312.2 265.4h1.5M303.3 265.4h1.5M321.7 265.4h1.5M337.6 265.4h1.5M338.1 265.4h1.5M316.2 265.4h1.5M326.1 265.4h1.5M330.1 265.4h1.5M293.3 265.4h1.5M326.6 265.4h1.5M313.7 265.4h1.5M305.7 265.4h1.5M313.2 265.4h1.5M378.4 262.5h1.5M380.9 262.5h1.5M261.5 262.5h1.5M413.2 262.5h1.5M314.7 262.5h1.5M498.8 262.5h1.5M446.5 262.5h1.5M341.6 262.5h1.5M235.6 262.5h1.5M492.3 262.5h1.5M492.8 262.5h1.5M435.6 262.5h1.5M498.3 262.5h1.5M451.0 262.5h1.5M187.3 262.5h1.5M556.0 262.5h1.5M122.2 262.5h1.5M467.4 262.5h1.5M326.6 262.5h1.5M561.0 262.5h1.5M146.0 262.5h1.5M99.8 262.5h1.5M116.7 262.5h1.5M166.9 262.5h1.5M244.6 262.5h1.5M143.1 262.5h1.5M397.8 262.5h1.5M512.7 262.5h1.5M161.0 262.5h1.5M222.7 262.5h1.5M433.6 262.5h1.5M522.2 262.5h1.5M237.6 262.5h1.5M539.1 262.5h1.5M111.7 262.5h1.5M491.8 262.5h1.5M552.5 262.5h1.5M478.9 262.5h1.5M107.7 262.5h1.5M463.0 262.5h1.5M308.2 262.5h1.5M302.8 262.5h1.5M315.7 262.5h1.5M325.1 262.5h1.5M334.1 262.5h1.5M295.8 262.5h1.5M336.6 262.5h1.5M324.2 262.5h1.5M304.3 262.5h1.5M339.1 262.5h1.5M341.1 262.5h1.5M335.6 262.5h1.5M313.7 262.5h1.5M307.2 262.5h1.5M340.1 262.5h1.5M318.7 262.5h1.5M347.0 262.5h1.5M320.7 262.5h1.5M332.6 262.5h1.5M328.1 262.5h1.5M316.2 262.5h1.5M326.1 262.5h1.5M322.2 262.5h1.5M291.3 262.5h1.5M327.6 262.5h1.5M280.4 259.7h1.5M364.0 259.7h1.5M461.0 259.7h1.5M188.3 259.7h1.5M190.8 259.7h1.5M198.3 259.7h1.5M377.9 259.7h1.5M348.0 259.7h1.5M142.6 259.7h1.5M418.7 259.7h1.5M318.2 259.7h1.5M167.4 259.7h1.5M105.7 259.7h1.5M525.6 259.7h1.5M422.2 259.7h1.5M248.5 259.7h1.5M255.5 259.7h1.5M306.2 259.7h1.5M224.7 259.7h1.5M545.5 259.7h1.5M406.2 259.7h1.5M488.8 259.7h1.5M568.9 259.7h1.5M115.2 259.7h1.5M196.3 259.7h1.5M443.6 259.7h1.5M233.6 259.7h1.5M213.7 259.7h1.5M131.1 259.7h1.5M503.8 259.7h1.5M181.4 259.7h1.5M179.4 259.7h1.5M357.0 259.7h1.5M394.8 259.7h1.5M244.6 259.7h1.5M493.3 259.7h1.5M423.7 259.7h1.5M188.8 259.7h1.5M78.9 259.7h1.5M99.3 259.7h1.5M345.5 259.7h1.5M500.8 259.7h1.5M361.5 259.7h1.5M536.6 259.7h1.5M457.0 259.7h1.5M303.8 259.7h1.5M230.6 259.7h1.5M212.2 259.7h1.5M262.5 259.7h1.5M509.2 259.7h1.5M241.6 259.7h1.5M512.2 259.7h1.5M523.6 259.7h1.5M354.0 259.7h1.5M405.2 259.7h1.5M204.3 259.7h1.5M492.3 259.7h1.5M80.4 259.7h1.5M389.8 259.7h1.5M202.3 259.7h1.5M96.3 259.7h1.5M151.0 259.7h1.5M242.1 259.7h1.5M552.5 259.7h1.5M554.0 259.7h1.5M141.1 259.7h1.5M340.1 259.7h1.5M387.3 259.7h1.5M254.5 259.7h1.5M235.1 259.7h1.5M311.7 259.7h1.5M287.3 259.7h1.5M334.6 259.7h1.5M305.2 259.7h1.5M338.1 259.7h1.5M421.7 259.7h1.5M302.3 259.7h1.5M374.9 259.7h1.5M319.7 259.7h1.5M332.1 259.7h1.5M336.1 259.7h1.5M336.6 259.7h1.5M304.8 259.7h1.5M318.7 259.7h1.5M322.7 259.7h1.5M295.3 259.7h1.5M341.6 259.7h1.5M330.6 259.7h1.5M331.6 259.7h1.5M347.5 259.7h1.5M315.7 259.7h1.5M371.9 259.7h1.5M350.0 259.7h1.5M321.2 259.7h1.5M343.1 259.7h1.5M320.7 259.7h1.5M294.3 259.7h1.5M302.8 259.7h1.5M308.2 259.7h1.5M308.7 259.7h1.5M319.2 259.7h1.5M354.5 256.8h1.5M375.4 256.8h1.5M283.9 256.8h1.5M351.5 256.8h1.5M327.1 256.8h1.5M318.7 256.8h1.5M319.7 256.8h1.5M336.1 256.8h1.5M319.2 256.8h1.5M344.1 256.8h1.5M327.6 256.8h1.5M476.4 253.9h1.5M261.0 253.9h1.5M163.5 253.9h1.5M417.7 253.9h1.5M472.9 253.9h1.5M80.9 253.9h1.5M275.9 253.9h1.5M520.2 253.9h1.5M241.6 253.9h1.5M172.9 253.9h1.5M81.4 253.9h1.5M501.8 253.9h1.5M85.4 253.9h1.5M319.7 253.9h1.5M156.5 253.9h1.5M178.9 253.9h1.5M137.6 253.9h1.5M516.7 253.9h1.5M512.2 253.9h1.5M248.0 253.9h1.5M242.1 253.9h1.5M560.0 253.9h1.5M121.2 253.9h1.5M514.7 253.9h1.5M539.1 253.9h1.5M86.3 253.9h1.5M204.3 253.9h1.5M183.4 253.9h1.5M435.6 253.9h1.5M442.1 253.9h1.5M154.5 253.9h1.5M180.9 253.9h1.5M142.1 253.9h1.5M126.6 253.9h1.5M107.7 253.9h1.5M553.0 253.9h1.5M300.8 253.9h1.5M129.6 253.9h1.5M391.8 253.9h1.5M455.0 253.9h1.5M532.6 253.9h1.5M287.8 253.9h1.5M162.0 253.9h1.5M185.8 253.9h1.5M547.5 253.9h1.5M83.9 253.9h1.5M248.5 253.9h1.5M535.6 253.9h1.5M543.1 253.9h1.5M144.6 253.9h1.5M402.8 253.9h1.5M445.0 253.9h1.5M289.3 253.9h1.5M113.7 253.9h1.5M125.2 253.9h1.5M275.4 253.9h1.5M326.1 253.9h1.5M85.8 253.9h1.5M450.0 253.9h1.5M288.3 253.9h1.5M169.9 253.9h1.5M494.8 253.9h1.5M316.7 253.9h1.5M184.4 253.9h1.5M499.8 253.9h1.5M563.9 253.9h1.5M486.8 253.9h1.5M329.6 253.9h1.5M346.5 253.9h1.5M338.1 253.9h1.5M324.6 253.9h1.5M339.6 253.9h1.5M341.6 253.9h1.5M322.7 253.9h1.5M355.0 253.9h1.5M327.1 253.9h1.5M317.2 253.9h1.5M312.2 253.9h1.5M351.0 253.9h1.5M297.8 253.9h1.5M343.6 253.9h1.5M344.1 253.9h1.5M324.2 253.9h1.5M356.0 253.9h1.5M342.6 253.9h1.5M302.3 253.9h1.5M294.8 253.9h1.5M308.7 253.9h1.5M340.1 253.9h1.5M357.0 253.9h1.5M284.4 251.0h1.5M487.3 251.0h1.5M489.3 251.0h1.5M344.5 251.0h1.5M310.7 251.0h1.5M376.4 251.0h1.5M328.1 251.0h1.5M358.0 251.0h1.5M329.1 251.0h1.5M298.8 251.0h1.5M361.5 251.0h1.5M337.6 251.0h1.5M342.1 251.0h1.5M317.7 251.0h1.5M294.8 251.0h1.5M383.4 248.2h1.5M99.3 248.2h1.5M269.4 248.2h1.5M286.8 248.2h1.5M206.2 248.2h1.5M215.2 248.2h1.5M116.2 248.2h1.5M486.3 248.2h1.5M363.0 248.2h1.5M202.3 248.2h1.5M276.4 248.2h1.5M141.1 248.2h1.5M536.6 248.2h1.5M193.8 248.2h1.5M145.1 248.2h1.5M232.1 248.2h1.5M238.1 248.2h1.5M412.7 248.2h1.5M95.8 248.2h1.5M160.5 248.2h1.5M230.1 248.2h1.5M547.5 248.2h1.5M160.0 248.2h1.5M83.9 248.2h1.5M490.3 248.2h1.5M237.1 248.2h1.5M441.6 248.2h1.5M507.7 248.2h1.5M508.2 248.2h1.5M299.3 248.2h1.5M263.0 248.2h1.5M326.6 248.2h1.5M312.7 248.2h1.5M256.5 248.2h1.5M120.7 248.2h1.5M483.4 248.2h1.5M321.7 248.2h1.5M155.0 248.2h1.5M267.4 248.2h1.5M266.4 248.2h1.5M420.2 248.2h1.5M426.1 248.2h1.5M344.5 248.2h1.5M154.5 248.2h1.5M155.5 248.2h1.5M404.2 248.2h1.5M521.2 248.2h1.5M346.0 248.2h1.5M260.5 248.2h1.5M215.7 248.2h1.5M313.2 248.2h1.5M445.0 248.2h1.5M375.9 248.2h1.5M392.8 248.2h1.5M502.8 248.2h1.5M324.6 248.2h1.5M526.6 248.2h1.5M316.7 248.2h1.5M110.2 248.2h1.5M380.9 248.2h1.5M163.0 248.2h1.5M418.2 248.2h1.5M393.3 248.2h1.5M366.4 248.2h1.5M446.0 248.2h1.5M152.0 248.2h1.5M259.0 248.2h1.5M284.4 248.2h1.5M183.9 248.2h1.5M501.3 248.2h1.5M497.3 248.2h1.5M330.6 248.2h1.5M114.2 248.2h1.5M84.4 248.2h1.5M164.0 248.2h1.5M430.1 248.2h1.5M503.8 248.2h1.5M494.3 248.2h1.5M291.8 248.2h1.5M88.8 248.2h1.5M319.7 248.2h1.5M331.6 248.2h1.5M357.5 248.2h1.5M300.3 248.2h1.5M317.2 248.2h1.5M337.6 248.2h1.5M339.6 248.2h1.5M342.6 248.2h1.5M340.6 248.2h1.5M341.1 248.2h1.5M338.6 248.2h1.5M333.6 248.2h1.5M322.7 248.2h1.5M340.1 248.2h1.5M327.6 248.2h1.5M315.7 248.2h1.5M364.4 248.2h1.5M343.1 248.2h1.5M328.6 248.2h1.5M348.5 248.2h1.5M321.2 248.2h1.5M325.1 248.2h1.5M314.2 248.2h1.5M303.3 248.2h1.5M335.6 248.2h1.5M360.5 248.2h1.5M325.6 248.2h1.5M353.0 248.2h1.5M334.1 248.2h1.5M320.7 248.2h1.5M298.3 248.2h1.5M338.1 248.2h1.5M145.5 245.3h1.5M411.2 245.3h1.5M321.2 245.3h1.5M441.1 245.3h1.5M138.6 245.3h1.5M395.3 245.3h1.5M538.1 245.3h1.5M393.8 245.3h1.5M244.1 245.3h1.5M451.5 245.3h1.5M313.2 245.3h1.5M429.6 245.3h1.5M501.8 245.3h1.5M458.0 245.3h1.5M125.2 245.3h1.5M256.5 245.3h1.5M290.8 245.3h1.5M364.0 245.3h1.5M85.8 245.3h1.5M561.5 245.3h1.5M88.3 245.3h1.5M223.7 245.3h1.5M169.9 245.3h1.5M212.2 245.3h1.5M563.9 245.3h1.5M120.2 245.3h1.5M179.4 245.3h1.5M346.5 245.3h1.5M173.4 245.3h1.5M521.2 245.3h1.5M461.5 245.3h1.5M259.0 245.3h1.5M485.8 245.3h1.5M197.3 245.3h1.5M82.9 245.3h1.5M324.6 245.3h1.5M162.5 245.3h1.5M298.8 245.3h1.5M414.7 245.3h1.5M139.6 245.3h1.5M348.5 245.3h1.5M451.0 245.3h1.5M203.8 245.3h1.5M333.6 245.3h1.5M468.4 245.3h1.5M510.7 245.3h1.5M251.5 245.3h1.5M81.4 245.3h1.5M117.7 245.3h1.5M488.3 245.3h1.5M284.4 245.3h1.5M141.1 245.3h1.5M359.0 245.3h1.5M124.2 245.3h1.5M261.0 245.3h1.5M314.7 245.3h1.5M330.6 245.3h1.5M334.6 245.3h1.5M344.1 245.3h1.5M309.2 245.3h1.5M292.3 245.3h1.5M334.1 245.3h1.5M340.6 245.3h1.5M315.2 245.3h1.5M326.6 245.3h1.5M310.7 245.3h1.5M343.6 245.3h1.5M327.1 245.3h1.5M333.1 245.3h1.5M318.7 245.3h1.5M278.9 245.3h1.5M312.2 245.3h1.5M329.6 245.3h1.5M341.1 245.3h1.5M342.1 245.3h1.5M283.9 245.3h1.5M358.0 245.3h1.5M305.7 245.3h1.5M316.7 245.3h1.5M416.2 242.4h1.5M498.3 242.4h1.5M401.8 242.4h1.5M430.1 242.4h1.5M488.3 242.4h1.5M247.0 242.4h1.5M196.3 242.4h1.5M456.5 242.4h1.5M403.3 242.4h1.5M382.4 242.4h1.5M550.5 242.4h1.5M332.6 242.4h1.5M495.3 242.4h1.5M423.7 242.4h1.5M411.7 242.4h1.5M386.3 242.4h1.5M526.6 242.4h1.5M434.1 242.4h1.5M418.7 242.4h1.5M232.6 242.4h1.5M494.3 242.4h1.5M337.1 242.4h1.5M272.9 242.4h1.5M148.5 242.4h1.5M339.1 242.4h1.5M321.7 242.4h1.5M304.8 242.4h1.5M538.1 242.4h1.5M546.5 242.4h1.5M145.5 242.4h1.5M336.1 242.4h1.5M440.1 242.4h1.5M323.2 242.4h1.5M129.6 242.4h1.5M447.5 242.4h1.5M286.3 242.4h1.5M555.0 242.4h1.5M130.6 242.4h1.5M458.5 242.4h1.5M105.3 242.4h1.5M133.1 242.4h1.5M163.5 242.4h1.5M269.4 242.4h1.5M413.7 242.4h1.5M345.0 242.4h1.5M192.8 242.4h1.5M328.1 242.4h1.5M353.5 242.4h1.5M369.9 242.4h1.5M548.0 242.4h1.5M478.9 242.4h1.5M449.5 242.4h1.5M202.8 242.4h1.5M527.1 242.4h1.5M402.3 242.4h1.5M326.1 242.4h1.5M339.6 242.4h1.5M427.6 242.4h1.5M519.2 242.4h1.5M136.1 242.4h1.5M183.9 242.4h1.5M324.6 242.4h1.5M488.8 242.4h1.5M475.4 242.4h1.5M368.9 242.4h1.5M116.7 242.4h1.5M192.3 242.4h1.5M538.6 242.4h1.5M295.3 242.4h1.5M93.8 242.4h1.5M340.1 242.4h1.5M289.8 242.4h1.5M568.9 242.4h1.5M99.3 242.4h1.5M240.1 242.4h1.5M500.3 242.4h1.5M513.7 242.4h1.5M394.8 242.4h1.5M547.0 242.4h1.5M80.4 242.4h1.5M284.4 242.4h1.5M237.1 242.4h1.5M258.5 242.4h1.5M406.2 242.4h1.5M100.8 242.4h1.5M165.9 242.4h1.5M205.7 242.4h1.5M504.7 242.4h1.5M330.6 242.4h1.5M396.8 242.4h1.5M306.7 242.4h1.5M417.7 242.4h1.5M509.2 242.4h1.5M207.7 242.4h1.5M387.3 242.4h1.5M188.3 242.4h1.5M442.6 242.4h1.5M496.3 242.4h1.5M168.4 242.4h1.5M310.7 242.4h1.5M527.6 242.4h1.5M287.8 242.4h1.5M346.5 242.4h1.5M311.7 242.4h1.5M360.5 242.4h1.5M310.2 242.4h1.5M342.6 242.4h1.5M336.6 242.4h1.5M306.2 242.4h1.5M304.3 242.4h1.5M334.6 242.4h1.5M317.2 242.4h1.5M329.1 242.4h1.5M341.1 242.4h1.5M327.6 242.4h1.5M279.4 242.4h1.5M344.5 242.4h1.5M327.1 242.4h1.5M303.8 242.4h1.5M289.3 242.4h1.5M317.7 242.4h1.5M346.0 242.4h1.5M316.2 242.4h1.5M318.2 242.4h1.5M292.8 242.4h1.5M325.1 242.4h1.5M330.1 242.4h1.5M321.2 242.4h1.5M373.4 242.4h1.5M338.6 242.4h1.5M322.2 242.4h1.5M322.7 242.4h1.5M323.7 242.4h1.5M349.5 242.4h1.5M315.2 242.4h1.5M338.1 242.4h1.5M312.2 242.4h1.5M343.6 242.4h1.5M326.6 242.4h1.5M309.2 242.4h1.5M309.7 242.4h1.5M301.3 242.4h1.5M548.5 239.6h1.5M456.0 239.6h1.5M237.6 239.6h1.5M143.1 239.6h1.5M538.1 239.6h1.5M486.8 239.6h1.5M285.8 239.6h1.5M272.9 239.6h1.5M178.9 239.6h1.5M152.0 239.6h1.5M101.8 239.6h1.5M91.8 239.6h1.5M288.3 239.6h1.5M390.3 239.6h1.5M539.6 239.6h1.5M210.7 239.6h1.5M78.9 239.6h1.5M242.6 239.6h1.5M536.6 239.6h1.5M229.1 239.6h1.5M97.8 239.6h1.5M404.2 239.6h1.5M518.2 239.6h1.5M173.4 239.6h1.5M477.9 239.6h1.5M503.3 239.6h1.5M525.1 239.6h1.5M517.2 239.6h1.5M558.5 239.6h1.5M522.2 239.6h1.5M478.4 239.6h1.5M403.3 239.6h1.5M288.8 239.6h1.5M250.0 239.6h1.5M263.0 239.6h1.5M452.5 239.6h1.5M221.2 239.6h1.5M411.2 239.6h1.5M232.1 239.6h1.5M527.1 239.6h1.5M325.6 239.6h1.5M155.0 239.6h1.5M80.9 239.6h1.5M226.6 239.6h1.5M257.0 239.6h1.5M554.0 239.6h1.5M489.8 239.6h1.5M537.6 239.6h1.5M249.5 239.6h1.5M266.4 239.6h1.5M248.0 239.6h1.5M175.4 239.6h1.5M403.8 239.6h1.5M222.2 239.6h1.5M216.2 239.6h1.5M162.0 239.6h1.5M413.7 239.6h1.5M134.6 239.6h1.5M267.4 239.6h1.5M322.2 239.6h1.5M315.2 239.6h1.5M318.7 239.6h1.5M302.3 239.6h1.5M311.7 239.6h1.5M322.7 239.6h1.5M325.1 239.6h1.5M374.9 239.6h1.5M323.7 239.6h1.5M331.1 239.6h1.5M324.2 239.6h1.5M290.3 239.6h1.5M319.7 239.6h1.5M334.6 239.6h1.5M327.6 239.6h1.5M306.7 239.6h1.5M337.6 239.6h1.5M270.4 239.6h1.5M313.7 239.6h1.5M314.2 239.6h1.5M316.2 239.6h1.5M329.6 239.6h1.5M300.8 239.6h1.5M345.5 239.6h1.5M332.1 239.6h1.5M359.0 239.6h1.5M308.7 239.6h1.5M356.0 239.6h1.5M353.5 239.6h1.5M310.7 239.6h1.5M222.7 236.7h1.5M242.1 236.7h1.5M260.0 236.7h1.5M471.4 236.7h1.5M161.5 236.7h1.5M398.8 236.7h1.5M381.9 236.7h1.5M85.4 236.7h1.5M548.5 236.7h1.5M255.5 236.7h1.5M321.7 236.7h1.5M507.2 236.7h1.5M99.3 236.7h1.5M223.2 236.7h1.5M224.7 236.7h1.5M78.9 236.7h1.5M259.0 236.7h1.5M128.6 236.7h1.5M428.1 236.7h1.5M166.4 236.7h1.5M502.8 236.7h1.5M330.1 236.7h1.5M366.9 236.7h1.5M163.0 236.7h1.5M546.5 236.7h1.5M129.6 236.7h1.5M376.4 236.7h1.5M329.1 236.7h1.5M127.1 236.7h1.5M277.9 236.7h1.5M322.7 236.7h1.5M480.9 236.7h1.5M279.4 236.7h1.5M510.2 236.7h1.5M459.0 236.7h1.5M158.0 236.7h1.5M432.6 236.7h1.5M99.8 236.7h1.5M394.8 236.7h1.5M332.1 236.7h1.5M94.3 236.7h1.5M348.5 236.7h1.5M122.2 236.7h1.5M270.4 236.7h1.5M311.7 236.7h1.5M329.6 236.7h1.5M321.2 236.7h1.5M310.7 236.7h1.5M333.1 236.7h1.5M351.5 236.7h1.5M298.3 236.7h1.5M326.1 236.7h1.5M312.7 236.7h1.5M326.6 236.7h1.5M295.3 236.7h1.5M274.4 236.7h1.5M306.2 236.7h1.5M305.7 236.7h1.5M337.1 236.7h1.5M310.2 236.7h1.5M286.3 236.7h1.5M325.6 236.7h1.5M316.2 236.7h1.5M346.5 236.7h1.5M322.2 236.7h1.5M330.6 236.7h1.5M283.9 236.7h1.5M268.4 233.8h1.5M323.2 233.8h1.5M195.8 233.8h1.5M554.0 233.8h1.5M475.9 233.8h1.5M375.9 233.8h1.5M237.6 233.8h1.5M551.0 233.8h1.5M472.9 233.8h1.5M553.5 233.8h1.5M377.9 233.8h1.5M116.2 233.8h1.5M370.4 233.8h1.5M333.1 233.8h1.5M344.1 233.8h1.5M487.8 233.8h1.5M540.6 233.8h1.5M132.6 233.8h1.5M568.9 233.8h1.5M247.5 233.8h1.5M571.4 233.8h1.5M225.1 233.8h1.5M567.4 233.8h1.5M98.3 233.8h1.5M393.8 233.8h1.5M546.0 233.8h1.5M240.6 233.8h1.5M117.7 233.8h1.5M480.4 233.8h1.5M469.9 233.8h1.5M106.2 233.8h1.5M169.4 233.8h1.5M457.0 233.8h1.5M183.9 233.8h1.5M262.0 233.8h1.5M150.0 233.8h1.5M101.8 233.8h1.5M312.2 233.8h1.5M157.0 233.8h1.5M246.0 233.8h1.5M394.8 233.8h1.5M251.0 233.8h1.5M452.5 233.8h1.5M427.6 233.8h1.5M458.0 233.8h1.5M140.6 233.8h1.5M197.8 233.8h1.5M312.7 233.8h1.5M375.4 233.8h1.5M410.2 233.8h1.5M199.3 233.8h1.5M138.6 233.8h1.5M133.6 233.8h1.5M355.0 233.8h1.5M354.5 233.8h1.5M153.5 233.8h1.5M300.8 233.8h1.5M175.9 233.8h1.5M451.0 233.8h1.5M397.3 233.8h1.5M233.1 233.8h1.5M340.6 233.8h1.5M331.6 233.8h1.5M315.7 233.8h1.5M327.1 233.8h1.5M310.7 233.8h1.5M323.7 233.8h1.5M338.1 233.8h1.5M322.2 233.8h1.5M328.1 233.8h1.5M330.6 233.8h1.5M349.0 233.8h1.5M318.7 233.8h1.5M309.2 233.8h1.5M337.1 233.8h1.5M337.6 233.8h1.5M309.7 233.8h1.5M316.2 233.8h1.5M320.2 233.8h1.5M313.7 233.8h1.5M322.7 233.8h1.5M335.1 233.8h1.5M319.2 233.8h1.5M332.1 233.8h1.5M366.9 233.8h1.5M295.3 233.8h1.5M348.5 233.8h1.5M315.2 233.8h1.5M314.7 233.8h1.5M296.3 233.8h1.5M313.2 233.8h1.5M306.7 233.8h1.5M326.1 233.8h1.5M329.1 233.8h1.5M357.0 233.8h1.5M318.2 233.8h1.5M320.7 233.8h1.5M474.9 231.0h1.5M474.4 231.0h1.5M163.5 231.0h1.5M477.4 231.0h1.5M200.3 231.0h1.5M166.9 231.0h1.5M87.8 231.0h1.5M534.1 231.0h1.5M460.5 231.0h1.5M379.9 231.0h1.5M78.9 231.0h1.5M538.6 231.0h1.5M227.6 231.0h1.5M514.7 231.0h1.5M133.6 231.0h1.5M565.9 231.0h1.5M230.1 231.0h1.5M384.8 231.0h1.5M213.7 231.0h1.5M358.5 231.0h1.5M235.6 231.0h1.5M121.2 231.0h1.5M447.0 231.0h1.5M346.5 231.0h1.5M461.0 231.0h1.5M102.8 231.0h1.5M307.7 231.0h1.5M482.4 231.0h1.5M214.2 231.0h1.5M357.5 231.0h1.5M491.3 231.0h1.5M324.2 231.0h1.5M249.5 231.0h1.5M466.9 231.0h1.5M525.6 231.0h1.5M92.8 231.0h1.5M220.2 231.0h1.5M476.4 231.0h1.5M494.3 231.0h1.5M333.6 231.0h1.5M293.3 231.0h1.5M478.4 231.0h1.5M268.9 231.0h1.5M138.1 231.0h1.5M561.0 231.0h1.5M344.5 231.0h1.5M303.8 231.0h1.5M413.7 231.0h1.5M194.3 231.0h1.5M211.7 231.0h1.5M213.2 231.0h1.5M539.6 231.0h1.5M405.7 231.0h1.5M98.8 231.0h1.5M452.5 231.0h1.5M191.3 231.0h1.5M127.6 231.0h1.5M466.4 231.0h1.5M276.4 231.0h1.5M152.0 231.0h1.5M424.1 231.0h1.5M457.0 231.0h1.5M92.3 231.0h1.5M198.8 231.0h1.5M467.9 231.0h1.5M535.6 231.0h1.5M423.2 231.0h1.5M123.7 231.0h1.5M139.1 231.0h1.5M421.7 231.0h1.5M219.2 231.0h1.5M136.1 231.0h1.5M215.7 231.0h1.5M137.6 231.0h1.5M187.8 231.0h1.5M279.9 231.0h1.5M540.1 231.0h1.5M272.4 231.0h1.5M549.0 231.0h1.5M290.3 231.0h1.5M308.2 231.0h1.5M121.7 231.0h1.5M514.2 231.0h1.5M430.6 231.0h1.5M221.2 231.0h1.5M484.8 231.0h1.5M435.1 231.0h1.5M245.0 231.0h1.5M321.2 231.0h1.5M148.0 231.0h1.5M236.6 231.0h1.5M571.4 231.0h1.5M284.8 231.0h1.5M235.1 231.0h1.5M521.7 231.0h1.5M110.7 231.0h1.5M83.9 231.0h1.5M165.0 231.0h1.5M459.0 231.0h1.5M283.4 231.0h1.5M226.1 231.0h1.5M113.2 231.0h1.5M216.7 231.0h1.5M348.5 231.0h1.5M344.1 231.0h1.5M326.6 231.0h1.5M318.7 231.0h1.5M319.2 231.0h1.5M319.7 231.0h1.5M339.6 231.0h1.5M340.1 231.0h1.5M315.7 231.0h1.5M345.5 231.0h1.5M327.6 231.0h1.5M331.1 231.0h1.5M325.1 231.0h1.5M351.5 231.0h1.5M312.7 231.0h1.5M330.6 231.0h1.5M322.2 231.0h1.5M373.4 231.0h1.5M320.7 231.0h1.5M347.0 231.0h1.5M292.8 231.0h1.5M348.0 231.0h1.5M337.1 231.0h1.5M300.3 231.0h1.5M298.3 231.0h1.5M285.8 231.0h1.5M336.6 231.0h1.5M312.2 231.0h1.5M314.2 231.0h1.5M311.2 231.0h1.5M309.7 231.0h1.5M323.7 231.0h1.5M324.6 231.0h1.5M304.8 231.0h1.5M337.6 231.0h1.5M334.1 231.0h1.5M318.2 231.0h1.5M343.1 231.0h1.5M338.1 231.0h1.5M328.1 231.0h1.5M301.3 231.0h1.5M297.3 231.0h1.5M338.6 231.0h1.5M317.2 231.0h1.5M332.1 231.0h1.5M270.9 228.1h1.5M360.5 228.1h1.5M243.6 228.1h1.5M106.2 228.1h1.5M373.4 228.1h1.5M341.6 228.1h1.5M86.3 228.1h1.5M296.8 228.1h1.5M90.3 228.1h1.5M170.4 228.1h1.5M141.1 228.1h1.5M433.1 228.1h1.5M180.9 228.1h1.5M197.3 228.1h1.5M529.6 228.1h1.5M454.5 228.1h1.5M445.0 228.1h1.5M272.9 228.1h1.5M356.5 228.1h1.5M507.2 228.1h1.5M311.2 228.1h1.5M243.1 228.1h1.5M479.4 228.1h1.5M419.2 228.1h1.5M564.9 228.1h1.5M462.0 228.1h1.5M541.1 228.1h1.5M570.4 228.1h1.5M385.3 228.1h1.5M449.5 228.1h1.5M206.2 228.1h1.5M305.7 228.1h1.5M517.7 228.1h1.5M278.4 228.1h1.5M147.0 228.1h1.5M192.8 228.1h1.5M554.5 228.1h1.5M345.5 228.1h1.5M247.0 228.1h1.5M103.8 228.1h1.5M153.0 228.1h1.5M559.5 228.1h1.5M224.2 228.1h1.5M81.4 228.1h1.5M460.0 228.1h1.5M318.7 228.1h1.5M478.9 228.1h1.5M305.2 228.1h1.5M114.7 228.1h1.5M189.8 228.1h1.5M480.4 228.1h1.5M136.1 228.1h1.5M171.9 228.1h1.5M325.1 228.1h1.5M322.7 228.1h1.5M329.6 228.1h1.5M302.3 228.1h1.5M345.0 228.1h1.5M320.2 228.1h1.5M310.2 228.1h1.5M322.2 228.1h1.5M321.2 228.1h1.5M318.2 228.1h1.5M332.6 228.1h1.5M328.1 228.1h1.5M336.6 228.1h1.5M286.8 228.1h1.5M308.2 228.1h1.5M333.1 228.1h1.5M328.6 228.1h1.5M339.1 228.1h1.5M346.5 228.1h1.5M331.1 228.1h1.5M327.1 228.1h1.5M313.7 228.1h1.5M340.1 228.1h1.5M430.6 225.2h1.5M526.1 225.2h1.5M135.6 225.2h1.5M117.7 225.2h1.5M128.6 225.2h1.5M418.2 225.2h1.5M301.3 225.2h1.5M107.2 225.2h1.5M429.1 225.2h1.5M367.9 225.2h1.5M151.5 225.2h1.5M439.1 225.2h1.5M213.7 225.2h1.5M337.1 225.2h1.5M105.3 225.2h1.5M471.9 225.2h1.5M217.7 225.2h1.5M171.4 225.2h1.5M453.0 225.2h1.5M335.1 225.2h1.5M150.5 225.2h1.5M480.4 225.2h1.5M271.9 225.2h1.5M531.6 225.2h1.5M508.7 225.2h1.5M195.8 225.2h1.5M544.5 225.2h1.5M396.8 225.2h1.5M249.5 225.2h1.5M270.4 225.2h1.5M341.6 225.2h1.5M333.1 225.2h1.5M350.0 225.2h1.5M325.6 225.2h1.5M321.7 225.2h1.5M345.0 225.2h1.5M346.0 225.2h1.5M338.6 225.2h1.5M343.6 225.2h1.5M352.0 225.2h1.5M339.6 225.2h1.5M327.1 225.2h1.5M326.1 225.2h1.5M357.0 225.2h1.5M324.6 225.2h1.5M335.6 225.2h1.5M331.6 225.2h1.5M324.2 225.2h1.5M318.2 225.2h1.5M304.8 225.2h1.5M313.7 225.2h1.5M153.5 219.5h1.5M361.0 219.5h1.5M157.5 219.5h1.5M323.2 219.5h1.5M121.7 219.5h1.5M449.0 219.5h1.5M431.1 219.5h1.5M107.7 219.5h1.5M548.0 219.5h1.5M543.5 219.5h1.5M206.7 219.5h1.5M331.6 219.5h1.5M423.7 219.5h1.5M100.8 219.5h1.5M450.5 219.5h1.5M456.0 219.5h1.5M346.5 219.5h1.5M455.5 219.5h1.5M510.2 219.5h1.5M498.3 219.5h1.5M116.7 219.5h1.5M464.4 219.5h1.5M520.7 219.5h1.5M448.0 219.5h1.5M327.6 219.5h1.5M414.2 219.5h1.5M132.1 219.5h1.5M399.3 219.5h1.5M526.1 219.5h1.5M310.7 219.5h1.5M123.2 219.5h1.5M298.3 219.5h1.5M474.9 219.5h1.5M162.5 219.5h1.5M234.6 219.5h1.5M380.4 219.5h1.5M254.0 219.5h1.5M193.3 219.5h1.5M106.7 219.5h1.5M476.9 219.5h1.5M193.8 219.5h1.5M96.3 219.5h1.5M145.1 219.5h1.5M130.1 219.5h1.5M310.2 219.5h1.5M213.7 219.5h1.5M194.3 219.5h1.5M560.0 219.5h1.5M166.4 219.5h1.5M432.6 219.5h1.5M289.3 219.5h1.5M135.1 219.5h1.5M110.7 219.5h1.5M173.4 219.5h1.5M386.8 219.5h1.5M355.0 219.5h1.5M322.2 219.5h1.5M513.7 219.5h1.5M244.6 219.5h1.5M163.0 219.5h1.5M458.0 219.5h1.5M551.0 219.5h1.5M261.0 219.5h1.5M122.7 219.5h1.5M422.7 219.5h1.5M548.5 219.5h1.5M490.3 219.5h1.5M528.6 219.5h1.5M293.3 219.5h1.5M177.9 219.5h1.5M348.0 219.5h1.5M314.2 219.5h1.5M320.2 219.5h1.5M299.3 219.5h1.5M330.1 219.5h1.5M300.3 219.5h1.5M332.1 219.5h1.5M362.0 219.5h1.5M338.1 219.5h1.5M356.0 219.5h1.5M321.7 219.5h1.5M316.7 219.5h1.5M319.2 219.5h1.5M346.0 219.5h1.5M356.5 219.5h1.5M342.1 219.5h1.5M338.6 219.5h1.5M317.7 219.5h1.5M304.3 219.5h1.5M268.4 219.5h1.5M306.7 219.5h1.5M328.6 219.5h1.5M333.6 219.5h1.5M313.2 219.5h1.5M330.6 219.5h1.5M238.6 205.1h1.5M339.6 205.1h1.5M463.9 205.1h1.5M241.1 205.1h1.5M475.9 205.1h1.5M288.8 205.1h1.5M486.8 205.1h1.5M550.0 205.1h1.5M511.7 205.1h1.5M537.6 205.1h1.5M212.7 205.1h1.5M402.8 205.1h1.5M501.8 205.1h1.5M132.6 205.1h1.5M382.4 205.1h1.5M423.2 205.1h1.5M288.3 205.1h1.5M313.7 205.1h1.5M194.8 205.1h1.5M485.3 205.1h1.5M418.7 205.1h1.5M226.6 205.1h1.5M282.9 205.1h1.5M506.7 205.1h1.5M498.8 205.1h1.5M423.7 205.1h1.5M115.2 205.1h1.5M132.1 205.1h1.5M156.5 205.1h1.5M222.7 205.1h1.5M368.4 205.1h1.5M191.8 205.1h1.5M128.6 205.1h1.5M332.1 205.1h1.5M510.2 205.1h1.5M166.9 205.1h1.5M509.7 205.1h1.5M499.8 205.1h1.5M145.5 205.1h1.5M232.6 205.1h1.5M322.2 205.1h1.5M328.1 205.1h1.5M325.1 205.1h1.5M333.1 205.1h1.5M307.2 205.1h1.5M333.6 205.1h1.5M293.8 205.1h1.5M343.1 205.1h1.5M316.7 205.1h1.5M315.2 205.1h1.5M315.7 205.1h1.5M322.7 205.1h1.5M308.2 205.1h1.5M269.4 205.1h1.5M311.2 205.1h1.5M308.7 205.1h1.5M344.1 205.1h1.5M317.7 205.1h1.5M367.9 205.1h1.5M326.6 205.1h1.5M334.6 205.1h1.5M301.8 205.1h1.5M303.8 205.1h1.5M309.2 205.1h1.5M330.1 205.1h1.5M323.2 205.1h1.5M331.6 205.1h1.5M330.6 205.1h1.5M316.2 205.1h1.5M202.8 202.3h1.5M172.9 202.3h1.5M412.7 202.3h1.5M263.5 202.3h1.5M216.2 202.3h1.5M154.0 202.3h1.5M260.5 202.3h1.5M231.6 202.3h1.5M195.8 202.3h1.5M543.5 202.3h1.5M359.0 202.3h1.5M282.4 202.3h1.5M257.5 202.3h1.5M398.3 202.3h1.5M421.2 202.3h1.5M390.3 202.3h1.5M240.1 202.3h1.5M367.4 202.3h1.5M162.0 202.3h1.5M260.0 202.3h1.5M303.3 202.3h1.5M469.9 202.3h1.5M493.3 202.3h1.5M396.8 202.3h1.5M478.9 202.3h1.5M364.9 202.3h1.5M329.6 202.3h1.5M337.1 202.3h1.5M328.6 202.3h1.5M320.7 202.3h1.5M318.2 202.3h1.5M347.5 202.3h1.5M334.6 202.3h1.5M335.1 202.3h1.5M314.7 202.3h1.5M321.7 202.3h1.5M311.7 202.3h1.5M322.2 202.3h1.5M353.0 202.3h1.5M325.6 202.3h1.5M324.6 202.3h1.5M316.7 202.3h1.5M293.3 202.3h1.5M323.2 202.3h1.5M553.0 199.4h1.5M209.2 199.4h1.5M447.0 199.4h1.5M163.0 199.4h1.5M124.7 199.4h1.5M530.1 199.4h1.5M290.3 199.4h1.5M512.2 199.4h1.5M492.8 199.4h1.5M391.3 199.4h1.5M500.3 199.4h1.5M248.5 199.4h1.5M198.8 199.4h1.5M262.5 199.4h1.5M92.8 199.4h1.5M523.6 199.4h1.5M405.7 199.4h1.5M136.1 199.4h1.5M377.4 199.4h1.5M299.8 199.4h1.5M471.9 199.4h1.5M521.2 199.4h1.5M495.8 199.4h1.5M334.1 199.4h1.5M521.7 199.4h1.5M169.4 199.4h1.5M388.3 199.4h1.5M272.9 199.4h1.5M347.5 199.4h1.5M317.2 199.4h1.5M324.2 199.4h1.5M317.7 199.4h1.5M331.1 199.4h1.5M337.6 199.4h1.5M328.6 199.4h1.5M324.6 199.4h1.5M306.2 199.4h1.5M316.2 199.4h1.5M316.7 199.4h1.5M313.7 199.4h1.5M326.1 199.4h1.5M343.6 199.4h1.5M330.1 199.4h1.5M293.3 199.4h1.5M327.1 199.4h1.5M312.2 199.4h1.5M305.2 199.4h1.5M315.2 199.4h1.5M340.6 199.4h1.5M300.8 199.4h1.5M320.2 199.4h1.5M213.7 196.5h1.5M312.2 196.5h1.5M113.7 196.5h1.5M298.3 196.5h1.5M125.2 196.5h1.5M362.5 196.5h1.5M154.5 196.5h1.5M502.3 196.5h1.5M386.8 196.5h1.5M381.4 196.5h1.5M390.8 196.5h1.5M200.8 196.5h1.5M274.4 196.5h1.5M311.7 196.5h1.5M274.9 196.5h1.5M220.7 196.5h1.5M298.8 196.5h1.5M303.8 196.5h1.5M422.2 196.5h1.5M549.0 196.5h1.5M253.5 196.5h1.5M255.5 196.5h1.5M385.8 196.5h1.5M235.6 196.5h1.5M289.8 196.5h1.5M470.9 196.5h1.5M305.7 196.5h1.5M327.6 196.5h1.5M187.3 196.5h1.5M304.3 196.5h1.5M487.3 196.5h1.5M99.8 196.5h1.5M430.6 196.5h1.5M269.4 196.5h1.5M301.8 196.5h1.5M101.8 196.5h1.5M288.8 196.5h1.5M529.6 196.5h1.5M487.8 196.5h1.5M268.4 196.5h1.5M559.5 196.5h1.5M525.6 196.5h1.5M303.3 196.5h1.5M554.0 196.5h1.5M287.8 196.5h1.5M154.0 196.5h1.5M489.3 196.5h1.5M337.1 196.5h1.5M321.2 196.5h1.5M313.7 196.5h1.5M320.2 196.5h1.5M315.2 196.5h1.5M324.2 196.5h1.5M307.2 196.5h1.5M356.0 196.5h1.5M336.1 196.5h1.5M352.5 196.5h1.5M324.6 196.5h1.5M336.6 196.5h1.5M340.1 196.5h1.5M327.1 196.5h1.5M334.6 196.5h1.5M295.3 196.5h1.5M321.7 196.5h1.5M335.6 196.5h1.5M333.1 196.5h1.5M322.2 196.5h1.5M325.1 196.5h1.5M331.6 196.5h1.5M310.2 196.5h1.5M311.2 196.5h1.5M314.2 196.5h1.5M147.5 193.7h1.5M276.9 193.7h1.5M187.3 193.7h1.5M402.3 193.7h1.5M542.6 193.7h1.5M526.6 193.7h1.5M559.5 193.7h1.5M396.8 193.7h1.5M92.8 193.7h1.5M499.8 193.7h1.5M465.4 193.7h1.5M485.8 193.7h1.5M202.8 193.7h1.5M527.6 193.7h1.5M104.3 193.7h1.5M314.7 193.7h1.5M440.1 193.7h1.5M183.4 193.7h1.5M435.1 193.7h1.5M184.9 193.7h1.5M489.8 193.7h1.5M216.2 193.7h1.5M521.2 193.7h1.5M352.0 193.7h1.5M136.6 193.7h1.5M218.7 193.7h1.5M481.9 193.7h1.5M222.2 193.7h1.5M555.0 193.7h1.5M253.5 193.7h1.5M183.9 193.7h1.5M280.4 193.7h1.5M348.5 193.7h1.5M405.7 193.7h1.5M368.4 193.7h1.5M383.4 193.7h1.5M265.4 193.7h1.5M421.2 193.7h1.5M268.4 193.7h1.5M255.0 193.7h1.5M87.8 193.7h1.5M120.7 193.7h1.5M233.1 193.7h1.5M530.1 193.7h1.5M165.9 193.7h1.5M476.9 193.7h1.5M169.4 193.7h1.5M283.4 193.7h1.5M238.6 193.7h1.5M412.2 193.7h1.5M145.1 193.7h1.5M332.1 193.7h1.5M251.5 193.7h1.5M111.2 193.7h1.5M341.6 193.7h1.5M170.9 193.7h1.5M509.7 193.7h1.5M366.9 193.7h1.5M498.3 193.7h1.5M452.0 193.7h1.5M421.7 193.7h1.5M437.1 193.7h1.5M207.7 193.7h1.5M174.4 193.7h1.5M275.9 193.7h1.5M553.0 193.7h1.5M256.0 193.7h1.5M482.9 193.7h1.5M537.1 193.7h1.5M552.5 193.7h1.5M83.9 193.7h1.5M515.2 193.7h1.5M364.4 193.7h1.5M91.8 193.7h1.5M540.6 193.7h1.5M464.4 193.7h1.5M117.7 193.7h1.5M258.0 193.7h1.5M317.7 193.7h1.5M138.1 193.7h1.5M531.1 193.7h1.5M495.3 193.7h1.5M242.6 193.7h1.5M504.7 193.7h1.5M521.7 193.7h1.5M305.2 193.7h1.5M292.8 193.7h1.5M427.6 193.7h1.5M485.3 193.7h1.5M563.0 193.7h1.5M322.7 193.7h1.5M218.2 193.7h1.5M447.0 193.7h1.5M138.6 193.7h1.5M288.8 193.7h1.5M107.2 193.7h1.5M302.3 193.7h1.5M237.6 193.7h1.5M505.7 193.7h1.5M264.0 193.7h1.5M294.3 193.7h1.5M486.8 193.7h1.5M268.9 193.7h1.5M444.0 193.7h1.5M312.2 193.7h1.5M150.5 193.7h1.5M342.6 193.7h1.5M336.1 193.7h1.5M337.1 193.7h1.5M322.2 193.7h1.5M336.6 193.7h1.5M318.7 193.7h1.5M338.1 193.7h1.5M320.2 193.7h1.5M330.6 193.7h1.5M324.2 193.7h1.5M350.0 193.7h1.5M320.7 193.7h1.5M324.6 193.7h1.5M346.0 193.7h1.5M331.6 193.7h1.5M343.6 193.7h1.5M329.1 193.7h1.5M344.1 193.7h1.5M353.0 193.7h1.5M295.8 193.7h1.5M327.1 193.7h1.5M316.2 193.7h1.5M325.1 193.7h1.5M311.2 193.7h1.5M315.7 193.7h1.5M338.6 193.7h1.5M340.1 193.7h1.5M313.7 193.7h1.5M334.1 193.7h1.5M319.7 193.7h1.5M311.7 193.7h1.5M327.6 193.7h1.5M345.5 193.7h1.5M321.2 193.7h1.5M329.6 193.7h1.5M306.7 193.7h1.5M337.6 193.7h1.5M309.2 193.7h1.5M335.1 193.7h1.5M333.6 193.7h1.5M328.6 193.7h1.5M312.7 193.7h1.5M330.1 193.7h1.5M332.6 193.7h1.5M298.3 193.7h1.5M326.1 193.7h1.5M260.0 193.7h1.5M318.2 193.7h1.5M306.2 193.7h1.5M341.1 193.7h1.5M303.8 193.7h1.5M294.8 193.7h1.5M321.7 193.7h1.5M354.5 193.7h1.5M334.6 193.7h1.5M165.4 187.9h1.5M510.2 187.9h1.5M155.5 187.9h1.5M450.5 187.9h1.5M205.2 187.9h1.5M300.8 187.9h1.5M437.1 187.9h1.5M343.1 187.9h1.5M131.1 187.9h1.5M236.1 187.9h1.5M98.8 187.9h1.5M194.8 187.9h1.5M366.9 187.9h1.5M360.5 187.9h1.5M513.7 187.9h1.5M382.9 187.9h1.5M305.7 187.9h1.5M474.4 187.9h1.5M102.8 187.9h1.5M477.9 187.9h1.5M216.7 187.9h1.5M85.4 187.9h1.5M298.3 187.9h1.5M444.5 187.9h1.5M521.7 187.9h1.5M400.8 187.9h1.5M469.4 187.9h1.5M509.2 187.9h1.5M151.5 187.9h1.5M324.6 187.9h1.5M315.2 187.9h1.5M320.2 187.9h1.5M336.1 187.9h1.5M345.0 187.9h1.5M327.6 187.9h1.5M339.6 187.9h1.5M324.2 187.9h1.5M315.7 187.9h1.5M312.7 187.9h1.5M310.2 187.9h1.5M322.7 187.9h1.5M329.6 187.9h1.5M269.9 187.9h1.5M319.2 187.9h1.5M318.2 187.9h1.5M340.6 187.9h1.5M327.1 187.9h1.5M314.7 187.9h1.5M335.1 187.9h1.5M304.8 187.9h1.5M320.7 187.9h1.5M301.8 187.9h1.5M257.5 187.9h1.5M317.2 187.9h1.5M338.6 187.9h1.5M280.4 187.9h1.5M316.2 187.9h1.5M318.7 187.9h1.5M460.5 185.1h1.5M78.9 185.1h1.5M407.2 185.1h1.5M497.8 185.1h1.5M279.4 185.1h1.5M286.8 185.1h1.5M466.9 185.1h1.5M325.1 185.1h1.5M525.1 185.1h1.5M511.2 185.1h1.5M122.7 185.1h1.5M490.3 185.1h1.5M137.1 185.1h1.5M352.0 185.1h1.5M254.5 185.1h1.5M531.6 185.1h1.5M407.7 185.1h1.5M353.5 185.1h1.5M129.6 185.1h1.5M158.5 185.1h1.5M383.9 185.1h1.5M370.4 185.1h1.5M231.6 185.1h1.5M135.1 185.1h1.5M258.5 185.1h1.5M321.2 185.1h1.5M282.9 185.1h1.5M308.2 185.1h1.5M540.6 185.1h1.5M524.6 185.1h1.5M113.7 185.1h1.5M370.9 185.1h1.5M298.3 185.1h1.5M382.9 185.1h1.5M312.7 185.1h1.5M387.8 185.1h1.5M406.2 185.1h1.5M275.9 185.1h1.5M479.4 185.1h1.5M455.5 185.1h1.5M264.0 185.1h1.5M414.7 185.1h1.5M549.5 185.1h1.5M260.0 185.1h1.5M336.6 185.1h1.5M361.5 185.1h1.5M404.7 185.1h1.5M483.4 185.1h1.5M567.9 185.1h1.5M204.8 185.1h1.5M288.8 185.1h1.5M319.7 185.1h1.5M435.6 185.1h1.5M237.6 185.1h1.5M392.3 185.1h1.5M328.6 185.1h1.5M313.7 185.1h1.5M333.6 185.1h1.5M322.2 185.1h1.5M363.0 185.1h1.5M330.6 185.1h1.5M316.2 185.1h1.5M325.6 185.1h1.5M320.2 185.1h1.5M335.6 185.1h1.5M338.6 185.1h1.5M334.1 185.1h1.5M315.7 185.1h1.5M323.7 185.1h1.5M331.1 185.1h1.5M323.2 185.1h1.5M327.6 185.1h1.5M310.7 185.1h1.5M329.1 185.1h1.5M331.6 185.1h1.5M336.1 185.1h1.5M337.1 185.1h1.5M321.7 185.1h1.5M316.7 185.1h1.5M308.7 185.1h1.5M327.1 185.1h1.5M318.7 185.1h1.5M324.6 185.1h1.5M330.1 185.1h1.5M309.7 185.1h1.5M332.1 185.1h1.5M300.8 185.1h1.5M324.2 185.1h1.5M312.2 185.1h1.5M335.1 185.1h1.5M332.6 185.1h1.5M315.2 185.1h1.5M317.7 185.1h1.5M353.0 185.1h1.5M341.1 185.1h1.5M319.2 185.1h1.5M320.7 185.1h1.5M339.6 185.1h1.5M249.0 182.2h1.5M288.8 182.2h1.5M356.5 182.2h1.5M204.8 182.2h1.5M352.5 182.2h1.5M318.2 182.2h1.5M165.9 182.2h1.5M494.8 182.2h1.5M543.1 182.2h1.5M535.1 182.2h1.5M490.8 182.2h1.5M159.5 182.2h1.5M479.9 182.2h1.5M289.8 182.2h1.5M256.0 182.2h1.5M398.8 182.2h1.5M294.3 182.2h1.5M383.4 182.2h1.5M131.1 182.2h1.5M440.1 182.2h1.5M569.9 182.2h1.5M328.6 182.2h1.5M559.5 182.2h1.5M567.4 182.2h1.5M512.7 182.2h1.5M390.3 182.2h1.5M393.8 182.2h1.5M530.1 182.2h1.5M486.8 182.2h1.5M346.0 182.2h1.5M457.5 182.2h1.5M141.1 182.2h1.5M159.0 182.2h1.5M463.9 182.2h1.5M147.5 182.2h1.5M274.9 182.2h1.5M321.7 182.2h1.5M487.8 182.2h1.5M299.3 182.2h1.5M87.3 182.2h1.5M458.0 182.2h1.5M528.6 182.2h1.5M535.6 182.2h1.5M456.0 182.2h1.5M280.9 182.2h1.5M531.1 182.2h1.5M152.0 182.2h1.5M409.7 182.2h1.5M292.3 182.2h1.5M125.6 182.2h1.5M292.8 182.2h1.5M237.1 182.2h1.5M421.7 182.2h1.5M381.4 182.2h1.5M378.4 182.2h1.5M270.4 182.2h1.5M212.7 182.2h1.5M449.0 182.2h1.5M218.2 182.2h1.5M109.2 182.2h1.5M410.7 182.2h1.5M501.3 182.2h1.5M551.0 182.2h1.5M466.9 182.2h1.5M368.4 182.2h1.5M317.7 182.2h1.5M327.1 182.2h1.5M327.6 182.2h1.5M336.1 182.2h1.5M341.6 182.2h1.5M314.2 182.2h1.5M307.7 182.2h1.5M326.6 182.2h1.5M329.1 182.2h1.5M330.1 182.2h1.5M326.1 182.2h1.5M319.7 182.2h1.5M306.2 182.2h1.5M304.3 182.2h1.5M310.2 182.2h1.5M331.6 182.2h1.5M322.7 182.2h1.5M314.7 182.2h1.5M330.6 182.2h1.5M335.1 182.2h1.5M308.7 182.2h1.5M336.6 182.2h1.5M323.2 182.2h1.5M312.7 182.2h1.5M329.6 182.2h1.5M328.1 182.2h1.5M303.8 182.2h1.5M320.2 182.2h1.5M332.6 182.2h1.5M337.1 182.2h1.5M291.3 182.2h1.5M317.2 182.2h1.5M325.1 182.2h1.5M295.3 182.2h1.5M340.1 182.2h1.5M342.1 182.2h1.5M306.7 182.2h1.5M287.8 182.2h1.5M370.9 182.2h1.5M313.2 182.2h1.5M318.7 182.2h1.5M333.1 182.2h1.5M332.1 182.2h1.5M335.6 182.2h1.5M324.2 182.2h1.5M310.7 182.2h1.5M312.2 182.2h1.5M324.6 182.2h1.5M370.9 176.5h1.5M349.5 176.5h1.5M275.4 176.5h1.5M350.5 176.5h1.5M555.0 176.5h1.5M215.7 176.5h1.5M194.8 176.5h1.5M330.6 176.5h1.5M297.3 176.5h1.5M321.7 176.5h1.5M315.7 176.5h1.5M327.1 176.5h1.5M333.1 176.5h1.5M337.6 176.5h1.5M313.2 176.5h1.5M334.1 176.5h1.5M324.6 176.5h1.5M311.2 176.5h1.5M347.0 176.5h1.5M355.5 176.5h1.5M312.2 176.5h1.5M319.7 176.5h1.5M319.2 176.5h1.5M300.3 176.5h1.5M360.5 176.5h1.5M292.3 176.5h1.5M325.6 176.5h1.5M299.8 176.5h1.5M326.6 176.5h1.5M173.4 173.6h1.5M202.8 173.6h1.5M274.4 173.6h1.5M192.8 173.6h1.5M412.2 173.6h1.5M363.5 173.6h1.5M222.7 173.6h1.5M381.4 173.6h1.5M88.8 173.6h1.5M185.8 173.6h1.5M540.6 173.6h1.5M124.7 173.6h1.5M146.0 173.6h1.5M537.6 173.6h1.5M244.6 173.6h1.5M91.3 173.6h1.5M203.3 173.6h1.5M394.3 173.6h1.5M535.1 173.6h1.5M475.9 173.6h1.5M280.9 173.6h1.5M334.1 173.6h1.5M295.8 173.6h1.5M95.8 173.6h1.5M294.8 173.6h1.5M307.2 173.6h1.5M516.2 173.6h1.5M123.2 173.6h1.5M484.3 173.6h1.5M408.2 173.6h1.5M254.0 173.6h1.5M486.3 173.6h1.5M330.6 173.6h1.5M304.8 173.6h1.5M296.8 173.6h1.5M318.2 173.6h1.5M305.7 173.6h1.5M354.0 173.6h1.5M322.7 173.6h1.5M331.6 173.6h1.5M332.1 173.6h1.5M311.7 173.6h1.5M342.1 173.6h1.5M318.7 173.6h1.5M332.6 173.6h1.5M311.2 173.6h1.5M336.1 173.6h1.5M325.6 173.6h1.5M335.6 173.6h1.5M315.7 173.6h1.5M317.2 173.6h1.5M293.3 173.6h1.5M374.9 173.6h1.5M314.2 173.6h1.5M347.5 173.6h1.5M317.7 173.6h1.5M324.2 173.6h1.5M323.2 173.6h1.5M330.1 173.6h1.5M326.6 173.6h1.5M297.8 173.6h1.5M313.7 173.6h1.5M377.4 173.6h1.5M306.2 173.6h1.5M327.1 173.6h1.5M322.2 173.6h1.5M328.6 173.6h1.5M325.1 173.6h1.5M297.3 173.6h1.5M316.7 173.6h1.5M460.0 170.7h1.5M157.0 170.7h1.5M288.8 170.7h1.5M559.0 170.7h1.5M338.6 170.7h1.5M264.5 170.7h1.5M271.9 170.7h1.5M155.5 170.7h1.5M449.0 170.7h1.5M376.4 170.7h1.5M203.3 170.7h1.5M237.1 170.7h1.5M247.0 170.7h1.5M342.1 170.7h1.5M129.1 170.7h1.5M252.5 170.7h1.5M115.2 170.7h1.5M521.2 170.7h1.5M87.8 170.7h1.5M101.8 170.7h1.5M382.9 170.7h1.5M497.3 170.7h1.5M545.0 170.7h1.5M147.5 170.7h1.5M225.6 170.7h1.5M277.9 170.7h1.5M150.5 170.7h1.5M412.2 170.7h1.5M516.2 170.7h1.5M326.1 170.7h1.5M89.8 170.7h1.5M323.2 170.7h1.5M437.6 170.7h1.5M172.9 170.7h1.5M448.5 170.7h1.5M463.0 170.7h1.5M112.2 170.7h1.5M413.2 170.7h1.5M117.2 170.7h1.5M180.9 170.7h1.5M457.5 170.7h1.5M204.3 170.7h1.5M368.4 170.7h1.5M130.1 170.7h1.5M403.8 170.7h1.5M391.3 170.7h1.5M567.4 170.7h1.5M525.6 170.7h1.5M274.4 170.7h1.5M339.6 170.7h1.5M154.5 170.7h1.5M470.4 170.7h1.5M542.6 170.7h1.5M444.0 170.7h1.5M460.5 170.7h1.5M294.3 170.7h1.5M138.1 170.7h1.5M416.2 170.7h1.5M446.0 170.7h1.5M375.4 170.7h1.5M260.5 170.7h1.5M143.1 170.7h1.5M564.4 170.7h1.5M535.6 170.7h1.5M127.1 170.7h1.5M122.2 170.7h1.5M324.2 170.7h1.5M468.9 170.7h1.5M328.6 170.7h1.5M114.7 170.7h1.5M358.5 170.7h1.5M133.6 170.7h1.5M244.6 170.7h1.5M298.8 170.7h1.5M537.6 170.7h1.5M287.3 170.7h1.5M262.0 170.7h1.5M535.1 170.7h1.5M570.4 170.7h1.5M323.7 170.7h1.5M229.6 170.7h1.5M325.1 170.7h1.5M313.2 170.7h1.5M295.8 170.7h1.5M129.6 170.7h1.5M317.7 170.7h1.5M293.3 170.7h1.5M334.6 170.7h1.5M335.1 170.7h1.5M331.6 170.7h1.5M314.2 170.7h1.5M304.8 170.7h1.5M310.2 170.7h1.5M327.1 170.7h1.5M330.1 170.7h1.5M337.6 170.7h1.5M316.2 170.7h1.5M345.0 170.7h1.5M320.7 170.7h1.5M307.2 170.7h1.5M331.1 170.7h1.5M286.8 170.7h1.5M324.6 170.7h1.5M325.6 170.7h1.5M326.6 170.7h1.5M318.7 170.7h1.5M332.1 170.7h1.5M321.2 170.7h1.5M371.4 170.7h1.5M320.2 170.7h1.5M327.6 170.7h1.5M322.2 170.7h1.5M337.1 170.7h1.5M349.5 170.7h1.5M347.0 170.7h1.5M317.2 170.7h1.5M311.2 170.7h1.5M314.7 170.7h1.5M307.7 170.7h1.5M333.6 170.7h1.5M319.2 170.7h1.5M312.7 170.7h1.5M328.1 170.7h1.5M335.6 170.7h1.5M341.6 170.7h1.5M329.6 165.0h1.5M230.1 165.0h1.5M263.5 165.0h1.5M214.7 165.0h1.5M536.6 165.0h1.5M344.5 165.0h1.5M231.6 165.0h1.5M157.0 165.0h1.5M492.8 165.0h1.5M184.9 165.0h1.5M377.9 165.0h1.5M150.5 165.0h1.5M263.0 165.0h1.5M80.4 165.0h1.5M85.8 165.0h1.5M339.1 165.0h1.5M317.7 165.0h1.5M488.3 165.0h1.5M336.1 165.0h1.5M285.8 165.0h1.5M307.2 165.0h1.5M326.6 165.0h1.5M329.1 165.0h1.5M339.6 165.0h1.5M328.6 165.0h1.5M302.8 165.0h1.5M315.7 165.0h1.5M313.7 165.0h1.5M316.2 165.0h1.5M324.2 165.0h1.5M346.5 165.0h1.5M316.7 165.0h1.5M337.1 165.0h1.5M334.1 165.0h1.5M337.6 165.0h1.5M328.1 165.0h1.5M335.6 165.0h1.5M332.1 165.0h1.5M355.0 165.0h1.5M157.5 159.2h1.5M81.4 159.2h1.5M444.5 159.2h1.5M365.9 159.2h1.5M207.7 159.2h1.5M232.6 159.2h1.5M84.4 159.2h1.5M123.2 159.2h1.5M97.3 159.2h1.5M194.8 159.2h1.5M173.4 159.2h1.5M434.1 159.2h1.5M234.1 159.2h1.5M254.0 159.2h1.5M203.3 159.2h1.5M538.6 159.2h1.5M508.7 159.2h1.5M131.1 159.2h1.5M234.6 159.2h1.5M543.1 159.2h1.5M242.6 159.2h1.5M118.2 159.2h1.5M290.8 159.2h1.5M541.6 159.2h1.5M332.6 159.2h1.5M389.8 159.2h1.5M175.9 159.2h1.5M307.7 159.2h1.5M125.6 159.2h1.5M321.7 159.2h1.5M335.1 159.2h1.5M341.6 159.2h1.5M336.1 159.2h1.5M322.7 159.2h1.5M326.1 159.2h1.5M319.7 159.2h1.5M324.2 159.2h1.5M317.7 159.2h1.5M330.6 159.2h1.5M331.6 159.2h1.5M333.6 159.2h1.5M308.7 159.2h1.5M325.6 159.2h1.5M327.1 159.2h1.5M314.7 159.2h1.5M331.1 159.2h1.5M352.5 159.2h1.5M340.6 159.2h1.5M310.7 159.2h1.5M328.6 159.2h1.5M321.2 159.2h1.5M319.2 159.2h1.5M306.7 159.2h1.5M303.3 159.2h1.5M366.9 159.2h1.5M354.5 159.2h1.5M330.1 159.2h1.5M317.2 159.2h1.5M322.2 159.2h1.5M338.1 159.2h1.5M325.1 159.2h1.5M316.7 159.2h1.5M368.4 159.2h1.5M250.5 142.0h1.5M416.2 142.0h1.5M283.4 142.0h1.5M526.1 142.0h1.5M548.5 142.0h1.5M319.2 142.0h1.5M329.6 142.0h1.5M315.7 142.0h1.5M317.2 142.0h1.5M316.2 142.0h1.5M311.2 142.0h1.5M328.1 142.0h1.5M318.7 142.0h1.5M321.7 142.0h1.5M312.2 142.0h1.5M327.6 142.0h1.5M329.1 142.0h1.5M325.1 142.0h1.5M308.2 142.0h1.5M473.9 139.2h1.5M186.3 139.2h1.5M151.5 139.2h1.5M189.3 139.2h1.5M220.2 139.2h1.5M553.0 139.2h1.5M140.1 139.2h1.5M527.6 139.2h1.5M235.1 139.2h1.5M401.8 139.2h1.5M234.1 139.2h1.5M296.8 139.2h1.5M430.1 139.2h1.5M446.5 139.2h1.5M230.1 139.2h1.5M322.7 139.2h1.5M498.3 139.2h1.5M385.8 139.2h1.5M250.0 139.2h1.5M421.7 139.2h1.5M362.0 139.2h1.5M233.6 139.2h1.5M528.1 139.2h1.5M173.9 139.2h1.5M534.6 139.2h1.5M561.5 139.2h1.5M216.7 139.2h1.5M108.2 139.2h1.5M157.5 139.2h1.5M540.6 139.2h1.5M459.5 139.2h1.5M414.2 139.2h1.5M118.2 139.2h1.5M517.7 139.2h1.5M481.4 139.2h1.5M102.3 139.2h1.5M112.2 139.2h1.5M364.0 139.2h1.5M281.4 139.2h1.5M538.6 139.2h1.5M554.0 139.2h1.5M179.4 139.2h1.5M413.7 139.2h1.5M567.9 139.2h1.5M257.0 139.2h1.5M451.0 139.2h1.5M529.1 139.2h1.5M95.3 139.2h1.5M485.3 139.2h1.5M218.7 139.2h1.5M148.0 139.2h1.5M142.1 139.2h1.5M229.1 139.2h1.5M452.5 139.2h1.5M462.5 139.2h1.5M556.0 139.2h1.5M482.4 139.2h1.5M88.8 139.2h1.5M137.1 139.2h1.5M267.4 139.2h1.5M411.7 139.2h1.5M129.6 139.2h1.5M336.6 139.2h1.5M426.6 139.2h1.5M79.9 139.2h1.5M329.6 139.2h1.5M432.1 139.2h1.5M340.6 139.2h1.5M158.0 139.2h1.5M308.2 139.2h1.5M233.1 139.2h1.5M224.7 139.2h1.5M434.6 139.2h1.5M296.3 139.2h1.5M301.8 139.2h1.5M237.1 139.2h1.5M507.2 139.2h1.5M330.6 139.2h1.5M324.6 139.2h1.5M327.1 139.2h1.5M321.2 139.2h1.5M295.3 139.2h1.5M338.1 139.2h1.5M328.6 139.2h1.5M325.1 139.2h1.5M317.7 139.2h1.5M316.7 139.2h1.5M320.7 139.2h1.5M316.2 139.2h1.5M315.7 139.2h1.5M323.7 139.2h1.5M289.8 139.2h1.5M340.1 139.2h1.5M358.0 139.2h1.5M321.7 139.2h1.5M339.6 139.2h1.5M326.1 139.2h1.5M331.1 139.2h1.5M346.0 139.2h1.5M331.6 139.2h1.5M319.2 139.2h1.5M374.4 139.2h1.5M318.2 139.2h1.5M299.3 139.2h1.5M310.2 139.2h1.5M324.2 139.2h1.5M317.2 139.2h1.5M329.1 139.2h1.5M289.3 139.2h1.5M322.2 139.2h1.5M333.1 139.2h1.5M328.1 139.2h1.5M336.1 139.2h1.5M325.6 139.2h1.5M315.2 139.2h1.5M319.7 139.2h1.5M327.6 139.2h1.5M302.3 139.2h1.5M298.8 139.2h1.5M332.1 139.2h1.5M312.7 139.2h1.5M330.1 139.2h1.5M306.7 139.2h1.5M309.2 139.2h1.5M339.1 139.2h1.5M270.4 139.2h1.5M318.7 139.2h1.5M332.6 139.2h1.5M311.2 139.2h1.5M314.2 139.2h1.5M293.3 139.2h1.5M313.7 139.2h1.5M353.0 139.2h1.5M252.5 136.3h1.5M254.0 136.3h1.5M100.8 136.3h1.5M103.3 136.3h1.5M455.0 136.3h1.5M135.1 136.3h1.5M174.4 136.3h1.5M224.7 136.3h1.5M216.7 136.3h1.5M429.6 136.3h1.5M343.6 136.3h1.5M391.8 136.3h1.5M142.6 136.3h1.5M315.2 136.3h1.5M305.2 136.3h1.5M332.1 136.3h1.5M253.5 136.3h1.5M317.7 136.3h1.5M343.1 136.3h1.5M325.6 136.3h1.5M288.3 136.3h1.5M330.6 136.3h1.5M331.1 136.3h1.5M316.7 136.3h1.5M312.7 136.3h1.5M328.6 136.3h1.5M325.1 136.3h1.5M330.1 136.3h1.5M321.2 136.3h1.5M324.2 136.3h1.5M345.0 136.3h1.5M322.7 136.3h1.5M314.2 136.3h1.5M326.6 136.3h1.5M315.7 136.3h1.5M335.1 136.3h1.5M313.2 136.3h1.5M342.6 136.3h1.5M347.0 136.3h1.5M280.9 133.4h1.5M387.8 133.4h1.5M356.5 133.4h1.5M237.1 133.4h1.5M424.6 133.4h1.5M490.8 133.4h1.5M241.6 133.4h1.5M210.2 133.4h1.5M170.9 133.4h1.5M210.7 133.4h1.5M147.5 133.4h1.5M236.1 133.4h1.5M136.6 133.4h1.5M402.3 133.4h1.5M288.3 133.4h1.5M338.6 133.4h1.5M285.3 133.4h1.5M433.1 133.4h1.5M252.0 133.4h1.5M349.5 133.4h1.5M345.5 133.4h1.5M461.0 133.4h1.5M287.3 133.4h1.5M291.8 133.4h1.5M530.1 133.4h1.5M353.0 133.4h1.5M567.9 133.4h1.5M95.8 133.4h1.5M379.4 133.4h1.5M376.4 133.4h1.5M492.3 133.4h1.5M512.7 133.4h1.5M118.2 133.4h1.5M438.1 133.4h1.5M502.3 133.4h1.5M354.5 133.4h1.5M461.5 133.4h1.5M281.9 133.4h1.5M184.4 133.4h1.5M292.8 133.4h1.5M520.7 133.4h1.5M86.3 133.4h1.5M264.9 133.4h1.5M135.1 133.4h1.5M234.1 133.4h1.5M513.2 133.4h1.5M96.3 133.4h1.5M525.1 133.4h1.5M460.0 133.4h1.5M431.6 133.4h1.5M369.4 133.4h1.5M411.2 133.4h1.5M191.3 133.4h1.5M304.8 133.4h1.5M321.7 133.4h1.5M331.1 133.4h1.5M508.2 133.4h1.5M319.7 133.4h1.5M302.3 133.4h1.5M332.6 133.4h1.5M329.1 133.4h1.5M313.2 133.4h1.5M322.7 133.4h1.5M306.7 133.4h1.5M330.6 133.4h1.5M336.1 133.4h1.5M317.7 133.4h1.5M307.7 133.4h1.5M334.1 133.4h1.5M319.2 133.4h1.5M339.6 133.4h1.5M315.7 133.4h1.5M343.1 133.4h1.5M360.0 133.4h1.5M320.2 133.4h1.5M316.7 133.4h1.5M327.6 133.4h1.5M323.7 133.4h1.5M347.5 133.4h1.5M325.1 133.4h1.5M325.6 133.4h1.5M326.1 133.4h1.5M315.2 133.4h1.5M358.0 133.4h1.5M305.7 133.4h1.5M344.5 133.4h1.5M328.6 133.4h1.5M333.1 133.4h1.5M342.6 133.4h1.5M278.9 133.4h1.5M324.6 133.4h1.5M327.1 133.4h1.5M316.2 133.4h1.5M317.2 133.4h1.5M287.8 133.4h1.5M322.2 133.4h1.5M295.3 133.4h1.5M311.7 133.4h1.5M310.2 133.4h1.5M328.1 133.4h1.5M309.7 133.4h1.5M313.7 133.4h1.5M324.2 133.4h1.5M335.6 133.4h1.5M338.1 133.4h1.5M294.3 133.4h1.5M326.6 133.4h1.5M337.1 133.4h1.5M368.9 133.4h1.5M320.7 133.4h1.5M308.7 133.4h1.5M344.1 133.4h1.5M298.3 133.4h1.5M361.5 133.4h1.5M332.1 133.4h1.5M314.7 133.4h1.5M310.7 133.4h1.5M348.5 133.4h1.5M297.8 133.4h1.5M321.2 133.4h1.5M361.0 133.4h1.5M206.7 130.6h1.5M325.1 130.6h1.5M293.8 130.6h1.5M535.1 130.6h1.5M491.3 130.6h1.5M504.7 130.6h1.5M218.2 130.6h1.5M259.0 130.6h1.5M201.8 130.6h1.5M364.0 130.6h1.5M175.4 130.6h1.5M179.9 130.6h1.5M99.8 130.6h1.5M296.8 130.6h1.5M89.3 130.6h1.5M563.5 130.6h1.5M79.4 130.6h1.5M392.3 130.6h1.5M328.6 130.6h1.5M322.7 130.6h1.5M323.2 130.6h1.5M326.1 130.6h1.5M308.2 130.6h1.5M331.6 130.6h1.5M316.7 130.6h1.5M336.6 130.6h1.5M329.1 130.6h1.5M318.2 130.6h1.5M331.1 130.6h1.5M334.1 130.6h1.5M339.6 130.6h1.5M338.6 130.6h1.5M295.3 130.6h1.5M350.5 130.6h1.5M279.9 130.6h1.5M304.3 130.6h1.5M318.7 130.6h1.5M323.7 130.6h1.5M335.1 130.6h1.5M328.1 130.6h1.5M327.1 130.6h1.5M321.2 130.6h1.5M321.7 130.6h1.5M322.2 130.6h1.5M324.6 130.6h1.5M334.6 130.6h1.5M125.6 127.7h1.5M305.2 127.7h1.5M235.6 127.7h1.5M390.3 127.7h1.5M412.2 127.7h1.5M189.3 127.7h1.5M528.1 127.7h1.5M565.4 127.7h1.5M259.0 127.7h1.5M365.9 127.7h1.5M318.2 127.7h1.5M89.3 127.7h1.5M105.7 127.7h1.5M87.8 127.7h1.5M458.0 127.7h1.5M326.6 127.7h1.5M116.7 127.7h1.5M230.6 127.7h1.5M562.5 127.7h1.5M329.6 127.7h1.5M464.4 127.7h1.5M372.9 127.7h1.5M295.3 127.7h1.5M90.3 127.7h1.5M554.5 127.7h1.5M310.2 127.7h1.5M408.2 127.7h1.5M150.5 127.7h1.5M437.1 127.7h1.5M324.2 127.7h1.5M458.5 127.7h1.5M494.3 127.7h1.5M408.7 127.7h1.5M146.0 127.7h1.5M122.2 127.7h1.5M507.2 127.7h1.5M541.6 127.7h1.5M99.8 127.7h1.5M334.6 127.7h1.5M205.2 127.7h1.5M229.6 127.7h1.5M307.7 127.7h1.5M314.7 127.7h1.5M291.3 127.7h1.5M319.2 127.7h1.5M327.1 127.7h1.5M330.1 127.7h1.5M333.6 127.7h1.5M340.1 127.7h1.5M335.1 127.7h1.5M322.7 127.7h1.5M321.2 127.7h1.5M329.1 127.7h1.5M320.2 127.7h1.5M336.1 127.7h1.5M323.7 127.7h1.5M320.7 127.7h1.5M316.7 127.7h1.5M299.8 127.7h1.5M337.6 127.7h1.5M319.7 127.7h1.5M352.0 127.7h1.5M331.6 127.7h1.5M312.2 127.7h1.5M309.7 127.7h1.5M330.6 127.7h1.5M346.0 127.7h1.5M313.7 127.7h1.5M317.7 127.7h1.5M332.1 127.7h1.5M325.6 127.7h1.5M315.2 127.7h1.5M322.2 127.7h1.5M314.2 127.7h1.5M317.2 127.7h1.5M340.6 127.7h1.5M556.5 124.8h1.5M214.2 124.8h1.5M273.4 124.8h1.5M513.7 124.8h1.5M515.7 124.8h1.5M244.6 124.8h1.5M268.4 124.8h1.5M258.0 124.8h1.5M165.0 124.8h1.5M392.8 124.8h1.5M236.6 124.8h1.5M531.1 124.8h1.5M492.8 124.8h1.5M216.2 124.8h1.5M403.3 124.8h1.5M512.2 124.8h1.5M171.4 124.8h1.5M120.2 124.8h1.5M160.0 124.8h1.5M545.0 124.8h1.5M340.1 124.8h1.5M376.9 124.8h1.5M413.2 124.8h1.5M502.8 124.8h1.5M496.8 124.8h1.5M499.3 124.8h1.5M373.9 124.8h1.5M525.6 124.8h1.5M81.4 124.8h1.5M371.9 124.8h1.5M393.3 124.8h1.5M122.2 124.8h1.5M250.0 124.8h1.5M406.2 124.8h1.5M507.2 124.8h1.5M215.2 124.8h1.5M196.8 124.8h1.5M278.9 124.8h1.5M343.1 124.8h1.5M242.1 124.8h1.5M253.5 124.8h1.5M285.8 124.8h1.5M174.9 124.8h1.5M388.8 124.8h1.5M199.8 124.8h1.5M366.9 124.8h1.5M527.6 124.8h1.5M318.2 124.8h1.5M146.0 124.8h1.5M157.0 124.8h1.5M293.8 124.8h1.5M472.9 124.8h1.5M237.6 124.8h1.5M560.5 124.8h1.5M215.7 124.8h1.5M250.5 124.8h1.5M329.1 124.8h1.5M232.6 124.8h1.5M166.4 124.8h1.5M547.0 124.8h1.5M281.9 124.8h1.5M478.4 124.8h1.5M331.1 124.8h1.5M321.7 124.8h1.5M344.5 124.8h1.5M327.6 124.8h1.5M334.1 124.8h1.5M319.2 124.8h1.5M330.1 124.8h1.5M316.2 124.8h1.5M335.6 124.8h1.5M327.1 124.8h1.5M334.6 124.8h1.5M328.6 124.8h1.5M315.2 124.8h1.5M319.7 124.8h1.5M306.2 124.8h1.5M323.2 124.8h1.5M323.7 124.8h1.5M345.0 124.8h1.5M314.2 124.8h1.5M310.7 124.8h1.5M318.7 124.8h1.5M322.7 124.8h1.5M320.7 124.8h1.5M306.7 124.8h1.5M317.7 124.8h1.5M342.6 124.8h1.5M332.1 124.8h1.5M328.1 124.8h1.5M326.6 124.8h1.5M335.1 124.8h1.5M316.7 124.8h1.5M315.7 124.8h1.5M307.2 124.8h1.5M331.6 124.8h1.5M310.2 124.8h1.5M345.5 124.8h1.5M354.5 124.8h1.5M370.4 124.8h1.5M390.8 124.8h1.5M322.2 124.8h1.5M313.7 124.8h1.5M311.2 124.8h1.5M324.6 124.8h1.5M326.1 124.8h1.5M253.0 124.8h1.5M325.6 124.8h1.5M333.1 124.8h1.5M337.1 124.8h1.5M302.3 124.8h1.5M291.8 124.8h1.5M305.7 124.8h1.5M332.6 124.8h1.5M317.2 124.8h1.5M340.6 124.8h1.5M336.1 124.8h1.5M294.8 124.8h1.5M338.6 124.8h1.5M324.2 124.8h1.5M325.1 124.8h1.5M283.9 124.8h1.5M330.6 124.8h1.5M339.6 124.8h1.5M346.5 124.8h1.5M156.5 406.0h1.5M170.9 406.0h1.5M224.7 406.0h1.5M241.1 406.0h1.5M270.4 406.0h1.5M295.3 406.0h1.5M318.2 406.0h1.5M122.2 408.8h1.5M174.4 408.8h1.5M190.8 408.8h1.5M215.7 408.8h1.5M250.5 408.8h1.5M261.5 408.8h1.5M157.0 411.7h1.5M207.2 411.7h1.5M307.7 411.7h1.5M314.7 411.7h1.5M319.7 411.7h1.5M324.6 411.7h1.5M176.9 414.6h1.5M251.0 414.6h1.5M106.7 417.4h1.5M172.9 417.4h1.5M213.2 417.4h1.5M291.8 417.4h1.5M294.3 417.4h1.5M254.5 420.3h1.5M271.4 420.3h1.5M283.9 420.3h1.5M290.3 420.3h1.5M110.2 423.2h1.5M153.0 423.2h1.5M162.0 423.2h1.5M283.9 423.2h1.5M305.2 423.2h1.5M89.8 426.0h1.5M154.0 426.0h1.5M164.0 426.0h1.5M195.8 426.0h1.5M253.5 426.0h1.5M297.8 426.0h1.5M230.1 428.9h1.5M234.6 428.9h1.5M314.7 428.9h1.5M166.4 431.8h1.5M194.8 431.8h1.5M258.5 431.8h1.5M283.4 431.8h1.5M303.3 431.8h1.5M311.2 431.8h1.5M314.7 431.8h1.5M141.1 434.6h1.5M218.7 437.5h1.5M124.2 440.4h1.5M192.3 440.4h1.5M233.6 440.4h1.5M236.1 440.4h1.5M210.7 443.2h1.5M234.6 443.2h1.5M283.4 446.1h1.5M110.7 449.0h1.5M118.2 449.0h1.5M235.6 454.7h1.5M148.5 463.3h1.5M287.8 474.8h1.5M154.0 489.1h1.5M209.7 489.1h1.5M190.8 494.9h1.5M97.8 500.6h1.5M237.1 512.1h1.5M174.4 515.0h1.5M252.0 517.8h1.5M80.9 529.3h1.5M144.1 529.3h1.5M179.4 540.8h1.5M257.5 540.8h1.5M329.1 406.0h1.5M336.1 406.0h1.5M391.3 406.0h1.5M409.2 406.0h1.5M512.2 406.0h1.5M530.1 406.0h1.5M325.1 408.8h1.5M462.5 408.8h1.5M489.3 408.8h1.5M500.3 408.8h1.5M518.7 408.8h1.5M540.1 408.8h1.5M332.6 411.7h1.5M335.1 411.7h1.5M415.2 411.7h1.5M545.0 411.7h1.5M338.1 414.6h1.5M516.7 414.6h1.5M550.5 414.6h1.5M557.5 414.6h1.5M347.5 417.4h1.5M365.9 417.4h1.5M547.5 417.4h1.5M563.5 417.4h1.5M569.4 417.4h1.5M419.2 420.3h1.5M431.6 420.3h1.5M465.9 420.3h1.5M349.5 423.2h1.5M370.9 423.2h1.5M412.2 423.2h1.5M455.0 423.2h1.5M493.8 423.2h1.5M414.2 426.0h1.5M487.3 426.0h1.5M532.1 426.0h1.5M559.5 426.0h1.5M419.2 428.9h1.5M485.3 428.9h1.5M411.2 431.8h1.5M496.3 431.8h1.5M551.0 431.8h1.5M344.1 434.6h1.5M478.4 434.6h1.5M521.2 434.6h1.5M334.6 437.5h1.5M562.5 437.5h1.5M347.0 440.4h1.5M352.5 440.4h1.5M449.5 440.4h1.5M505.2 440.4h1.5M395.3 443.2h1.5M412.2 443.2h1.5M497.3 446.1h1.5M332.6 451.9h1.5M422.2 454.7h1.5M341.1 460.5h1.5M548.0 460.5h1.5M434.1 469.1h1.5M487.3 469.1h1.5M505.2 466.2h1.5M326.1 486.3h1.5M339.1 489.1h1.5M340.1 492.0h1.5M529.1 486.3h1.5M463.5 492.0h1.5M381.9 512.1h1.5M360.0 523.6h1.5M382.4 537.9h1.5M410.2 535.0h1.5M414.2 540.8h1.5M463.9 560.9h1.5M87.3 67.4h1.5M101.8 67.4h1.5M138.6 67.4h1.5M186.3 67.4h1.5M193.8 67.4h1.5M264.0 67.4h1.5M288.8 67.4h1.5M299.8 67.4h1.5M304.3 67.4h1.5M308.2 67.4h1.5M311.7 67.4h1.5M314.2 67.4h1.5M316.7 67.4h1.5M318.7 67.4h1.5M319.2 67.4h1.5M320.2 67.4h1.5M320.7 67.4h1.5M321.2 67.4h1.5M322.2 67.4h1.5M322.7 67.4h1.5M323.7 67.4h1.5M324.2 67.4h1.5M324.6 67.4h1.5M325.6 67.4h1.5M326.1 67.4h1.5M327.1 67.4h1.5M327.6 67.4h1.5M328.1 67.4h1.5M330.6 67.4h1.5M332.1 67.4h1.5M335.6 67.4h1.5M338.1 67.4h1.5M339.6 67.4h1.5M343.6 67.4h1.5M346.5 67.4h1.5M387.3 67.4h1.5M398.3 67.4h1.5M406.2 67.4h1.5M410.2 67.4h1.5M422.7 67.4h1.5M441.6 67.4h1.5M450.0 67.4h1.5M463.0 67.4h1.5M469.4 67.4h1.5M505.7 67.4h1.5M537.6 67.4h1.5M98.3 78.9h1.5M104.3 78.9h1.5M118.7 78.9h1.5M122.2 78.9h1.5M128.1 78.9h1.5M132.1 78.9h1.5M134.1 78.9h1.5M139.6 78.9h1.5M148.0 78.9h1.5M158.0 78.9h1.5M177.9 78.9h1.5M186.8 78.9h1.5M216.7 78.9h1.5M221.7 78.9h1.5M227.6 78.9h1.5M256.0 78.9h1.5M267.4 78.9h1.5M274.4 78.9h1.5M281.9 78.9h1.5M283.9 78.9h1.5M291.8 78.9h1.5M299.3 78.9h1.5M301.8 78.9h1.5M304.8 78.9h1.5M310.7 78.9h1.5M313.7 78.9h1.5M314.2 78.9h1.5M315.2 78.9h1.5M316.2 78.9h1.5M316.7 78.9h1.5M317.7 78.9h1.5M318.7 78.9h1.5M319.2 78.9h1.5M320.2 78.9h1.5M320.7 78.9h1.5M321.7 78.9h1.5M322.7 78.9h1.5M323.2 78.9h1.5M324.2 78.9h1.5M324.6 78.9h1.5M325.6 78.9h1.5M326.6 78.9h1.5M327.1 78.9h1.5M328.1 78.9h1.5M328.6 78.9h1.5M329.6 78.9h1.5M330.6 78.9h1.5M331.1 78.9h1.5M332.1 78.9h1.5M332.6 78.9h1.5M333.6 78.9h1.5M334.6 78.9h1.5M335.1 78.9h1.5M336.1 78.9h1.5M337.1 78.9h1.5M337.6 78.9h1.5M338.6 78.9h1.5M340.6 78.9h1.5M342.1 78.9h1.5M343.6 78.9h1.5M346.5 78.9h1.5M347.5 78.9h1.5M351.5 78.9h1.5M354.5 78.9h1.5M357.5 78.9h1.5M408.7 78.9h1.5M434.6 78.9h1.5M435.6 78.9h1.5M442.1 78.9h1.5M450.0 78.9h1.5M458.0 78.9h1.5M463.0 78.9h1.5M466.9 78.9h1.5M475.4 78.9h1.5M491.3 78.9h1.5M552.5 78.9h1.5M555.5 78.9h1.5M292.8 81.8h1.5M297.3 81.8h1.5M300.3 81.8h1.5M302.8 81.8h1.5M314.2 81.8h1.5M315.2 81.8h1.5M316.2 81.8h1.5M316.7 81.8h1.5M317.7 81.8h1.5M318.7 81.8h1.5M319.7 81.8h1.5M320.7 81.8h1.5M321.2 81.8h1.5M322.2 81.8h1.5M323.2 81.8h1.5M324.2 81.8h1.5M325.1 81.8h1.5M325.6 81.8h1.5M326.6 81.8h1.5M327.6 81.8h1.5M328.6 81.8h1.5M329.6 81.8h1.5M330.1 81.8h1.5M331.1 81.8h1.5M332.1 81.8h1.5M333.1 81.8h1.5M334.1 81.8h1.5M335.1 81.8h1.5M335.6 81.8h1.5M336.6 81.8h1.5M337.6 81.8h1.5M338.6 81.8h1.5M339.6 81.8h1.5M340.1 81.8h1.5M342.6 81.8h1.5M344.1 81.8h1.5M414.7 81.8h1.5M446.0 81.8h1.5M505.2 81.8h1.5M528.1 81.8h1.5M541.1 81.8h1.5" stroke="#000" stroke-width="1.5" fill="none"/>
<path d="M286.84 47.8V580.24" stroke="#006400" stroke-width="2.25" stroke-dasharray="9 9" stroke-dashoffset="16.6" stroke-linecap="round"/>
<path d="M363.96 47.8V580.24" stroke="#006400" stroke-width="2.25" stroke-dasharray="9 9" stroke-dashoffset="16.6" stroke-linecap="round"/>
<path d="M59.76 362.58H592.24" stroke="#CC1F1F" stroke-width="2.25" stroke-dasharray="9 9" stroke-linecap="round"/>
<defs><clipPath id="hc"><rect x="699.76" y="47.8" width="532.48" height="532.44"/></clipPath><filter id="hf" x="659.76" y="7.8" width="612.48" height="612.44" filterUnits="userSpaceOnUse" color-interpolation-filters="sRGB"><feGaussianBlur stdDeviation="4.0"/><feComponentTransfer><feFuncR type="table" tableValues="1 0 1"/><feFuncG type="table" tableValues="1 0 0"/><feFuncB type="table" tableValues="1 1 0"/><feFuncA type="discrete" tableValues="1"/></feComponentTransfer></filter></defs>
<g clip-path="url(#hc)"><g filter="url(#hf)">
<rect x="675.76" y="23.8" width="580.48" height="580.44" fill="#000"/>
<path fill="rgb(1,1,1)" d="M699.76 23.8h88v8h-88zM795.76 23.8h48v8h-48zM883.76 23.8h24v8h-24zM1011.76 23.8h40v8h-40zM1059.76 23.8h32v8h-32zM1115.76 23.8h56v8h-56zM1179.76 23.8h32v8h-32zM691.76 31.8h24v8h-24zM771.76 31.8h40v8h-40zM827.76 31.8h64v8h-64zM1131.76 31.8h96v8h-96zM691.76 39.8h16v8h-16zM843.76 39.8h40v8h-40zM1163.76 39.8h16v8h-16zM1211.76 39.8h16v8h-16zM691.76 47.8h16v8h-16zM1219.76 47.8h16v8h-16zM691.76 55.8h16v8h-16zM1219.76 55.8h16v8h-16zM691.76 63.8h16v8h-16zM1219.76 63.8h16v8h-16zM691.76 71.8h16v8h-16zM1219.76 71.8h16v8h-16zM683.76 79.8h16v8h-16zM1227.76 79.8h16v8h-16zM683.76 87.8h8v8h-8zM1235.76 87.8h16v8h-16zM675.76 95.8h8v8h-8zM1243.76 95.8h8v8h-8zM675.76 103.8h8v8h-8zM1243.76 103.8h8v8h-8zM675.76 111.8h8v8h-8zM1251.76 111.8h8v8h-8zM675.76 119.8h8v8h-8zM1251.76 119.8h8v8h-8zM675.76 127.8h8v8h-8zM1251.76 127.8h8v8h-8zM675.76 135.8h8v8h-8zM1243.76 135.8h16v8h-16zM1251.76 143.8h8v8h-8zM1251.76 151.8h8v8h-8zM1251.76 159.8h8v8h-8zM1251.76 167.8h8v8h-8zM1251.76 175.8h8v8h-8zM675.76 183.8h8v8h-8zM1251.76 183.8h8v8h-8zM675.76 191.8h8v8h-8zM1251.76 191.8h8v8h-8zM675.76 199.8h8v8h-8zM1251.76 199.8h8v8h-8zM1251.76 207.8h8v8h-8zM1251.76 215.8h8v8h-8zM1251.76 223.8h8v8h-8zM1251.76 231.8h8v8h-8zM1251.76 239.8h8v8h-8zM1251.76 247.8h8v8h-8zM1251.76 255.8h8v8h-8zM1251.76 263.8h8v8h-8zM1251.76 271.8h8v8h-8zM1251.76 279.8h8v8h-8zM1251.76 287.8h8v8h-8zM1251.76 295.8h8v8h-8zM1251.76 303.8h8v8h-8zM1251.76 311.8h8v8h-8zM1251.76 319.8h8v8h-8zM1251.76 327.8h8v8h-8zM1251.76 335.8h8v8h-8zM675.76 343.8h8v8h-8zM1251.76 343.8h8v8h-8zM675.76 351.8h8v8h-8zM1243.76 351.8h8v8h-8zM675.76 359.8h8v8h-8zM1243.76 359.8h8v8h-8zM675.76 367.8h8v8h-8zM1243.76 367.8h8v8h-8zM675.76 375.8h16v8h-16zM1235.76 375.8h8v8h-8zM675.76 383.8h16v8h-16zM1235.76 383.8h8v8h-8zM683.76 391.8h8v8h-8zM1235.76 391.8h8v8h-8zM683.76 399.8h8v8h-8zM1235.76 399.8h8v8h-8zM683.76 407.8h8v8h-8zM1235.76 407.8h16v8h-16zM683.76 415.8h16v8h-16zM1243.76 415.8h8v8h-8zM691.76 423.8h8v8h-8zM1243.76 423.8h8v8h-8zM691.76 431.8h16v8h-16zM1243.76 431.8h8v8h-8zM699.76 439.8h16v8h-16zM1235.76 439.8h16v8h-16zM699.76 447.8h16v8h-16zM1011.76 447.8h24v8h-24zM1235.76 447.8h8v8h-8zM707.76 455.8h16v8h-16zM803.76 455.8h8v8h-8zM1011.76 455.8h32v8h-32zM1091.76 455.8h32v8h-32zM1179.76 455.8h16v8h-16zM1227.76 455.8h16v8h-16zM715.76 463.8h16v8h-16zM763.76 463.8h72v8h-72zM883.76 463.8h32v8h-32zM939.76 463.8h16v8h-16zM1003.76 463.8h16v8h-16zM1027.76 463.8h24v8h-24zM1083.76 463.8h48v8h-48zM1171.76 463.8h64v8h-64zM715.76 471.8h88v8h-88zM811.76 471.8h48v8h-48zM875.76 471.8h88v8h-88zM995.76 471.8h16v8h-16zM1035.76 471.8h32v8h-32zM1083.76 471.8h56v8h-56zM1163.76 471.8h64v8h-64zM723.76 479.8h72v8h-72zM819.76 479.8h64v8h-64zM907.76 479.8h56v8h-56zM995.76 479.8h8v8h-8zM1051.76 479.8h96v8h-96zM1155.76 479.8h64v8h-64zM755.76 487.8h112v8h-112zM907.76 487.8h56v8h-56zM987.76 487.8h16v8h-16zM1067.76 487.8h144v8h-144zM715.76 495.8h8v8h-8zM763.76 495.8h104v8h-104zM915.76 495.8h48v8h-48zM995.76 495.8h8v8h-8zM1083.76 495.8h120v8h-120zM707.76 503.8h24v8h-24zM763.76 503.8h120v8h-120zM947.76 503.8h16v8h-16zM987.76 503.8h24v8h-24zM1099.76 503.8h32v8h-32zM1171.76 503.8h24v8h-24zM699.76 511.8h32v8h-32zM763.76 511.8h136v8h-136zM955.76 511.8h16v8h-16zM987.76 511.8h48v8h-48zM1107.76 511.8h16v8h-16zM699.76 519.8h32v8h-32zM763.76 519.8h136v8h-136zM963.76 519.8h88v8h-88zM691.76 527.8h32v8h-32zM763.76 527.8h72v8h-72zM851.76 527.8h56v8h-56zM971.76 527.8h96v8h-96zM691.76 535.8h32v8h-32zM755.76 535.8h72v8h-72zM859.76 535.8h48v8h-48zM987.76 535.8h88v8h-88zM691.76 543.8h24v8h-24zM755.76 543.8h72v8h-72zM859.76 543.8h48v8h-48zM987.76 543.8h96v8h-96zM691.76 551.8h24v8h-24zM763.76 551.8h64v8h-64zM867.76 551.8h40v8h-40zM995.76 551.8h56v8h-56zM1059.76 551.8h24v8h-24zM787.76 559.8h32v8h-32zM875.76 559.8h32v8h-32zM1003.76 559.8h80v8h-80zM803.76 567.8h8v8h-8zM883.76 567.8h16v8h-16zM1019.76 567.8h56v8h-56zM1107.76 567.8h16v8h-16zM1099.76 575.8h32v8h-32zM1107.76 583.8h16v8h-16z"/>
<path fill="rgb(2,2,2)" d="M907.76 23.8h16v8h-16zM1003.76 23.8h8v8h-8zM1051.76 23.8h8v8h-8zM1091.76 23.8h24v8h-24zM715.76 31.8h56v8h-56zM811.76 31.8h16v8h-16zM891.76 31.8h16v8h-16zM1019.76 31.8h24v8h-24zM1067.76 31.8h16v8h-16zM1123.76 31.8h8v8h-8zM707.76 39.8h16v8h-16zM771.76 39.8h72v8h-72zM883.76 39.8h8v8h-8zM1131.76 39.8h32v8h-32zM1179.76 39.8h32v8h-32zM707.76 47.8h8v8h-8zM779.76 47.8h32v8h-32zM827.76 47.8h64v8h-64zM1139.76 47.8h56v8h-56zM1203.76 47.8h16v8h-16zM707.76 55.8h8v8h-8zM787.76 55.8h16v8h-16zM819.76 55.8h64v8h-64zM1139.76 55.8h48v8h-48zM1211.76 55.8h8v8h-8zM707.76 63.8h16v8h-16zM787.76 63.8h96v8h-96zM1139.76 63.8h56v8h-56zM1211.76 63.8h8v8h-8zM707.76 71.8h24v8h-24zM779.76 71.8h104v8h-104zM1027.76 71.8h24v8h-24zM1131.76 71.8h88v8h-88zM699.76 79.8h24v8h-24zM811.76 79.8h16v8h-16zM1219.76 79.8h8v8h-8zM691.76 87.8h8v8h-8zM1227.76 87.8h8v8h-8zM683.76 95.8h8v8h-8zM1235.76 95.8h8v8h-8zM1243.76 111.8h8v8h-8zM1243.76 119.8h8v8h-8zM1243.76 127.8h8v8h-8zM675.76 143.8h8v8h-8zM1243.76 143.8h8v8h-8zM675.76 151.8h8v8h-8zM1243.76 151.8h8v8h-8zM675.76 159.8h8v8h-8zM1243.76 159.8h8v8h-8zM675.76 167.8h8v8h-8zM1243.76 167.8h8v8h-8zM675.76 175.8h8v8h-8zM1243.76 175.8h8v8h-8zM1243.76 183.8h8v8h-8zM1243.76 191.8h8v8h-8zM1243.76 199.8h8v8h-8zM675.76 207.8h8v8h-8zM675.76 319.8h8v8h-8zM675.76 327.8h8v8h-8zM675.76 335.8h8v8h-8zM1243.76 335.8h8v8h-8zM1243.76 343.8h8v8h-8zM683.76 351.8h8v8h-8zM683.76 359.8h8v8h-8zM1235.76 359.8h8v8h-8zM683.76 367.8h8v8h-8zM1235.76 367.8h8v8h-8zM1227.76 383.8h8v8h-8zM1227.76 391.8h8v8h-8zM691.76 399.8h8v8h-8zM1227.76 399.8h8v8h-8zM691.76 407.8h8v8h-8zM699.76 415.8h8v8h-8zM1235.76 415.8h8v8h-8zM699.76 423.8h8v8h-8zM1027.76 423.8h8v8h-8zM1235.76 423.8h8v8h-8zM707.76 431.8h8v8h-8zM1019.76 431.8h16v8h-16zM1235.76 431.8h8v8h-8zM715.76 439.8h16v8h-16zM1011.76 439.8h32v8h-32zM1083.76 439.8h24v8h-24zM1227.76 439.8h8v8h-8zM715.76 447.8h16v8h-16zM755.76 447.8h16v8h-16zM803.76 447.8h8v8h-8zM1003.76 447.8h8v8h-8zM1035.76 447.8h8v8h-8zM1083.76 447.8h40v8h-40zM1171.76 447.8h32v8h-32zM1219.76 447.8h16v8h-16zM723.76 455.8h80v8h-80zM811.76 455.8h32v8h-32zM883.76 455.8h40v8h-40zM995.76 455.8h16v8h-16zM1043.76 455.8h8v8h-8zM1075.76 455.8h16v8h-16zM1123.76 455.8h16v8h-16zM1163.76 455.8h16v8h-16zM1195.76 455.8h32v8h-32zM731.76 463.8h32v8h-32zM835.76 463.8h24v8h-24zM875.76 463.8h8v8h-8zM915.76 463.8h24v8h-24zM955.76 463.8h16v8h-16zM987.76 463.8h16v8h-16zM1051.76 463.8h32v8h-32zM1131.76 463.8h40v8h-40zM859.76 471.8h16v8h-16zM963.76 471.8h32v8h-32zM1067.76 471.8h16v8h-16zM1139.76 471.8h24v8h-24zM963.76 479.8h32v8h-32zM1147.76 479.8h8v8h-8zM963.76 487.8h24v8h-24zM963.76 495.8h32v8h-32zM963.76 503.8h24v8h-24zM971.76 511.8h16v8h-16zM1051.76 551.8h8v8h-8z"/>
<path fill="rgb(3,3,3)" d="M907.76 31.8h8v8h-8zM1011.76 31.8h8v8h-8zM1043.76 31.8h24v8h-24zM1083.76 31.8h40v8h-40zM723.76 39.8h48v8h-48zM891.76 39.8h8v8h-8zM1019.76 39.8h24v8h-24zM1123.76 39.8h8v8h-8zM715.76 47.8h16v8h-16zM771.76 47.8h8v8h-8zM811.76 47.8h16v8h-16zM1019.76 47.8h24v8h-24zM1131.76 47.8h8v8h-8zM1195.76 47.8h8v8h-8zM715.76 55.8h16v8h-16zM779.76 55.8h8v8h-8zM803.76 55.8h16v8h-16zM883.76 55.8h8v8h-8zM1027.76 55.8h16v8h-16zM1131.76 55.8h8v8h-8zM1187.76 55.8h24v8h-24zM723.76 63.8h16v8h-16zM771.76 63.8h16v8h-16zM883.76 63.8h8v8h-8zM1019.76 63.8h48v8h-48zM1123.76 63.8h16v8h-16zM1195.76 63.8h16v8h-16zM731.76 71.8h16v8h-16zM763.76 71.8h16v8h-16zM883.76 71.8h16v8h-16zM1019.76 71.8h8v8h-8zM1051.76 71.8h40v8h-40zM1115.76 71.8h16v8h-16zM723.76 79.8h88v8h-88zM827.76 79.8h24v8h-24zM1027.76 79.8h192v8h-192zM699.76 87.8h8v8h-8zM1075.76 87.8h24v8h-24zM1219.76 87.8h8v8h-8zM691.76 95.8h8v8h-8zM683.76 103.8h8v8h-8zM1235.76 103.8h8v8h-8zM683.76 111.8h8v8h-8zM683.76 119.8h8v8h-8zM683.76 127.8h8v8h-8zM1235.76 127.8h8v8h-8zM683.76 135.8h8v8h-8zM1235.76 135.8h8v8h-8zM1235.76 143.8h8v8h-8zM683.76 183.8h8v8h-8zM683.76 191.8h8v8h-8zM683.76 199.8h8v8h-8zM1243.76 207.8h8v8h-8zM675.76 215.8h8v8h-8zM1243.76 239.8h8v8h-8zM1243.76 247.8h8v8h-8zM675.76 255.8h8v8h-8zM1243.76 255.8h8v8h-8zM675.76 263.8h8v8h-8zM1243.76 263.8h8v8h-8zM675.76 271.8h8v8h-8zM1243.76 271.8h8v8h-8zM675.76 279.8h8v8h-8zM675.76 287.8h8v8h-8zM675.76 295.8h8v8h-8zM675.76 303.8h8v8h-8zM675.76 311.8h8v8h-8zM1243.76 319.8h8v8h-8zM1243.76 327.8h8v8h-8zM683.76 343.8h8v8h-8zM1235.76 351.8h8v8h-8zM691.76 367.8h8v8h-8zM1227.76 367.8h8v8h-8zM691.76 375.8h8v8h-8zM1227.76 375.8h8v8h-8zM691.76 383.8h8v8h-8zM1219.76 383.8h8v8h-8zM691.76 391.8h8v8h-8zM1219.76 391.8h8v8h-8zM1219.76 399.8h8v8h-8zM699.76 407.8h8v8h-8zM1019.76 407.8h8v8h-8zM1227.76 407.8h8v8h-8zM707.76 415.8h8v8h-8zM1019.76 415.8h16v8h-16zM1227.76 415.8h8v8h-8zM707.76 423.8h16v8h-16zM747.76 423.8h8v8h-8zM1011.76 423.8h16v8h-16zM1035.76 423.8h8v8h-8zM1083.76 423.8h16v8h-16zM1227.76 423.8h8v8h-8zM715.76 431.8h48v8h-48zM1011.76 431.8h8v8h-8zM1035.76 431.8h8v8h-8zM1083.76 431.8h32v8h-32zM1227.76 431.8h8v8h-8zM731.76 439.8h40v8h-40zM1003.76 439.8h8v8h-8zM1043.76 439.8h8v8h-8zM1075.76 439.8h8v8h-8zM1107.76 439.8h24v8h-24zM1171.76 439.8h24v8h-24zM731.76 447.8h24v8h-24zM771.76 447.8h32v8h-32zM811.76 447.8h32v8h-32zM883.76 447.8h32v8h-32zM995.76 447.8h8v8h-8zM1043.76 447.8h8v8h-8zM1075.76 447.8h8v8h-8zM1123.76 447.8h16v8h-16zM1163.76 447.8h8v8h-8zM1203.76 447.8h16v8h-16zM843.76 455.8h8v8h-8zM875.76 455.8h8v8h-8zM923.76 455.8h48v8h-48zM987.76 455.8h8v8h-8zM1051.76 455.8h24v8h-24zM1139.76 455.8h24v8h-24zM859.76 463.8h16v8h-16zM971.76 463.8h16v8h-16z"/>
<path fill="rgb(4,4,4)" d="M923.76 23.8h8v8h-8zM915.76 31.8h8v8h-8zM899.76 39.8h8v8h-8zM1011.76 39.8h8v8h-8zM1043.76 39.8h48v8h-48zM1115.76 39.8h8v8h-8zM731.76 47.8h16v8h-16zM763.76 47.8h8v8h-8zM891.76 47.8h8v8h-8zM1043.76 47.8h32v8h-32zM1123.76 47.8h8v8h-8zM731.76 55.8h16v8h-16zM771.76 55.8h8v8h-8zM891.76 55.8h8v8h-8zM1019.76 55.8h8v8h-8zM1043.76 55.8h32v8h-32zM1123.76 55.8h8v8h-8zM739.76 63.8h16v8h-16zM763.76 63.8h8v8h-8zM891.76 63.8h8v8h-8zM1067.76 63.8h16v8h-16zM1115.76 63.8h8v8h-8zM747.76 71.8h16v8h-16zM899.76 71.8h8v8h-8zM1091.76 71.8h24v8h-24zM851.76 79.8h48v8h-48zM1019.76 79.8h8v8h-8zM707.76 87.8h24v8h-24zM803.76 87.8h24v8h-24zM1059.76 87.8h16v8h-16zM1099.76 87.8h40v8h-40zM1211.76 87.8h8v8h-8zM1227.76 95.8h8v8h-8zM1235.76 111.8h8v8h-8zM1235.76 119.8h8v8h-8zM683.76 143.8h8v8h-8zM683.76 151.8h8v8h-8zM1235.76 151.8h8v8h-8zM683.76 159.8h8v8h-8zM683.76 167.8h8v8h-8zM683.76 175.8h8v8h-8zM1235.76 183.8h8v8h-8zM1235.76 191.8h8v8h-8zM1243.76 215.8h8v8h-8zM675.76 223.8h8v8h-8zM1243.76 223.8h8v8h-8zM675.76 231.8h8v8h-8zM1243.76 231.8h8v8h-8zM675.76 239.8h8v8h-8zM675.76 247.8h8v8h-8zM1243.76 279.8h8v8h-8zM1243.76 287.8h8v8h-8zM1243.76 295.8h8v8h-8zM1243.76 303.8h8v8h-8zM1243.76 311.8h8v8h-8zM683.76 335.8h8v8h-8zM1235.76 343.8h8v8h-8zM691.76 359.8h8v8h-8zM1219.76 375.8h8v8h-8zM699.76 391.8h8v8h-8zM699.76 399.8h8v8h-8zM1019.76 399.8h16v8h-16zM707.76 407.8h8v8h-8zM1011.76 407.8h8v8h-8zM1027.76 407.8h8v8h-8zM1219.76 407.8h8v8h-8zM715.76 415.8h48v8h-48zM1011.76 415.8h8v8h-8zM1035.76 415.8h8v8h-8zM1083.76 415.8h24v8h-24zM723.76 423.8h24v8h-24zM755.76 423.8h16v8h-16zM1003.76 423.8h8v8h-8zM1099.76 423.8h16v8h-16zM763.76 431.8h8v8h-8zM819.76 431.8h8v8h-8zM1003.76 431.8h8v8h-8zM1043.76 431.8h8v8h-8zM1075.76 431.8h8v8h-8zM1115.76 431.8h16v8h-16zM1163.76 431.8h32v8h-32zM1219.76 431.8h8v8h-8zM771.76 439.8h72v8h-72zM883.76 439.8h32v8h-32zM995.76 439.8h8v8h-8zM1067.76 439.8h8v8h-8zM1131.76 439.8h8v8h-8zM1155.76 439.8h16v8h-16zM1195.76 439.8h32v8h-32zM843.76 447.8h8v8h-8zM875.76 447.8h8v8h-8zM915.76 447.8h56v8h-56zM987.76 447.8h8v8h-8zM1051.76 447.8h24v8h-24zM1139.76 447.8h24v8h-24zM851.76 455.8h24v8h-24zM971.76 455.8h16v8h-16z"/>
<path fill="rgb(5,5,5)" d="M995.76 23.8h8v8h-8zM1003.76 31.8h8v8h-8zM907.76 39.8h8v8h-8zM1091.76 39.8h24v8h-24zM747.76 47.8h16v8h-16zM899.76 47.8h8v8h-8zM1011.76 47.8h8v8h-8zM1075.76 47.8h16v8h-16zM1115.76 47.8h8v8h-8zM747.76 55.8h24v8h-24zM899.76 55.8h8v8h-8zM1011.76 55.8h8v8h-8zM1075.76 55.8h16v8h-16zM1115.76 55.8h8v8h-8zM755.76 63.8h8v8h-8zM899.76 63.8h8v8h-8zM1011.76 63.8h8v8h-8zM1083.76 63.8h32v8h-32zM1011.76 71.8h8v8h-8zM899.76 79.8h8v8h-8zM731.76 87.8h72v8h-72zM827.76 87.8h16v8h-16zM1043.76 87.8h16v8h-16zM1139.76 87.8h8v8h-8zM1187.76 87.8h24v8h-24zM699.76 95.8h8v8h-8zM1083.76 95.8h16v8h-16zM691.76 103.8h8v8h-8zM1235.76 159.8h8v8h-8zM1235.76 167.8h8v8h-8zM1235.76 175.8h8v8h-8zM1235.76 199.8h8v8h-8zM683.76 207.8h8v8h-8zM683.76 327.8h8v8h-8zM1235.76 335.8h8v8h-8zM691.76 351.8h8v8h-8zM1227.76 359.8h8v8h-8zM1219.76 367.8h8v8h-8zM699.76 375.8h8v8h-8zM699.76 383.8h8v8h-8zM1211.76 383.8h8v8h-8zM1011.76 391.8h24v8h-24zM1211.76 391.8h8v8h-8zM707.76 399.8h8v8h-8zM763.76 399.8h8v8h-8zM1011.76 399.8h8v8h-8zM1211.76 399.8h8v8h-8zM715.76 407.8h56v8h-56zM1035.76 407.8h8v8h-8zM1083.76 407.8h24v8h-24zM1211.76 407.8h8v8h-8zM763.76 415.8h8v8h-8zM1003.76 415.8h8v8h-8zM1043.76 415.8h8v8h-8zM1075.76 415.8h8v8h-8zM1107.76 415.8h16v8h-16zM1163.76 415.8h8v8h-8zM1219.76 415.8h8v8h-8zM811.76 423.8h32v8h-32zM1043.76 423.8h8v8h-8zM1075.76 423.8h8v8h-8zM1115.76 423.8h24v8h-24zM1155.76 423.8h40v8h-40zM1219.76 423.8h8v8h-8zM771.76 431.8h8v8h-8zM803.76 431.8h16v8h-16zM827.76 431.8h24v8h-24zM883.76 431.8h24v8h-24zM995.76 431.8h8v8h-8zM1051.76 431.8h8v8h-8zM1067.76 431.8h8v8h-8zM1131.76 431.8h32v8h-32zM1195.76 431.8h24v8h-24zM843.76 439.8h16v8h-16zM875.76 439.8h8v8h-8zM915.76 439.8h8v8h-8zM987.76 439.8h8v8h-8zM1051.76 439.8h16v8h-16zM1139.76 439.8h16v8h-16zM851.76 447.8h24v8h-24zM971.76 447.8h16v8h-16z"/>
<path fill="rgb(6,6,6)" d="M1091.76 47.8h24v8h-24zM1091.76 55.8h24v8h-24zM907.76 71.8h8v8h-8zM907.76 79.8h8v8h-8zM1011.76 79.8h8v8h-8zM843.76 87.8h8v8h-8zM1027.76 87.8h16v8h-16zM1147.76 87.8h40v8h-40zM1067.76 95.8h16v8h-16zM1099.76 95.8h40v8h-40zM1219.76 95.8h8v8h-8zM1227.76 103.8h8v8h-8zM691.76 111.8h8v8h-8zM691.76 119.8h8v8h-8zM691.76 127.8h8v8h-8zM1227.76 127.8h8v8h-8zM691.76 135.8h8v8h-8zM1227.76 135.8h8v8h-8zM1227.76 143.8h8v8h-8zM691.76 183.8h8v8h-8zM691.76 191.8h8v8h-8zM691.76 199.8h8v8h-8zM1235.76 207.8h8v8h-8zM683.76 215.8h8v8h-8zM683.76 271.8h8v8h-8zM683.76 279.8h8v8h-8zM683.76 287.8h8v8h-8zM683.76 295.8h8v8h-8zM683.76 303.8h8v8h-8zM683.76 311.8h8v8h-8zM683.76 319.8h8v8h-8zM1235.76 327.8h8v8h-8zM691.76 343.8h8v8h-8zM1227.76 351.8h8v8h-8zM699.76 367.8h8v8h-8zM1211.76 375.8h8v8h-8zM771.76 383.8h8v8h-8zM883.76 383.8h24v8h-24zM1011.76 383.8h16v8h-16zM1203.76 383.8h8v8h-8zM707.76 391.8h8v8h-8zM755.76 391.8h32v8h-32zM875.76 391.8h32v8h-32zM1003.76 391.8h8v8h-8zM1203.76 391.8h8v8h-8zM715.76 399.8h8v8h-8zM731.76 399.8h32v8h-32zM771.76 399.8h16v8h-16zM819.76 399.8h16v8h-16zM875.76 399.8h32v8h-32zM1003.76 399.8h8v8h-8zM1035.76 399.8h8v8h-8zM1083.76 399.8h32v8h-32zM1203.76 399.8h8v8h-8zM771.76 407.8h8v8h-8zM819.76 407.8h16v8h-16zM875.76 407.8h32v8h-32zM1003.76 407.8h8v8h-8zM1043.76 407.8h8v8h-8zM1075.76 407.8h8v8h-8zM1107.76 407.8h72v8h-72zM771.76 415.8h8v8h-8zM811.76 415.8h32v8h-32zM875.76 415.8h32v8h-32zM1123.76 415.8h40v8h-40zM1171.76 415.8h24v8h-24zM1211.76 415.8h8v8h-8zM771.76 423.8h8v8h-8zM803.76 423.8h8v8h-8zM843.76 423.8h64v8h-64zM995.76 423.8h8v8h-8zM1051.76 423.8h8v8h-8zM1067.76 423.8h8v8h-8zM1139.76 423.8h16v8h-16zM1195.76 423.8h24v8h-24zM779.76 431.8h24v8h-24zM851.76 431.8h32v8h-32zM907.76 431.8h8v8h-8zM987.76 431.8h8v8h-8zM1059.76 431.8h8v8h-8zM859.76 439.8h16v8h-16zM923.76 439.8h64v8h-64z"/>
<path fill="rgb(7,7,7)" d="M931.76 23.8h8v8h-8zM923.76 31.8h8v8h-8zM915.76 39.8h8v8h-8zM1003.76 39.8h8v8h-8zM907.76 47.8h8v8h-8zM907.76 55.8h8v8h-8zM907.76 63.8h8v8h-8zM851.76 87.8h56v8h-56zM1019.76 87.8h8v8h-8zM707.76 95.8h48v8h-48zM803.76 95.8h24v8h-24zM1059.76 95.8h8v8h-8zM1211.76 95.8h8v8h-8zM1227.76 111.8h8v8h-8zM1227.76 119.8h8v8h-8zM691.76 143.8h8v8h-8zM1227.76 151.8h8v8h-8zM691.76 175.8h8v8h-8zM1235.76 247.8h8v8h-8zM1235.76 255.8h8v8h-8zM683.76 263.8h8v8h-8zM1235.76 263.8h8v8h-8zM1235.76 271.8h8v8h-8zM1235.76 319.8h8v8h-8zM691.76 335.8h8v8h-8zM1227.76 343.8h8v8h-8zM699.76 359.8h8v8h-8zM1219.76 359.8h8v8h-8zM1211.76 367.8h8v8h-8zM707.76 375.8h8v8h-8zM1011.76 375.8h16v8h-16zM1107.76 375.8h16v8h-16zM1203.76 375.8h8v8h-8zM707.76 383.8h8v8h-8zM755.76 383.8h16v8h-16zM779.76 383.8h16v8h-16zM819.76 383.8h16v8h-16zM875.76 383.8h8v8h-8zM907.76 383.8h8v8h-8zM1003.76 383.8h8v8h-8zM1027.76 383.8h8v8h-8zM1099.76 383.8h32v8h-32zM1195.76 383.8h8v8h-8zM715.76 391.8h8v8h-8zM739.76 391.8h16v8h-16zM787.76 391.8h56v8h-56zM867.76 391.8h8v8h-8zM907.76 391.8h8v8h-8zM1035.76 391.8h8v8h-8zM1083.76 391.8h80v8h-80zM1195.76 391.8h8v8h-8zM723.76 399.8h8v8h-8zM787.76 399.8h32v8h-32zM835.76 399.8h8v8h-8zM859.76 399.8h16v8h-16zM907.76 399.8h8v8h-8zM1043.76 399.8h8v8h-8zM1075.76 399.8h8v8h-8zM1115.76 399.8h88v8h-88zM779.76 407.8h40v8h-40zM835.76 407.8h16v8h-16zM859.76 407.8h16v8h-16zM907.76 407.8h8v8h-8zM1067.76 407.8h8v8h-8zM1179.76 407.8h32v8h-32zM779.76 415.8h32v8h-32zM843.76 415.8h32v8h-32zM907.76 415.8h8v8h-8zM995.76 415.8h8v8h-8zM1051.76 415.8h24v8h-24zM1195.76 415.8h16v8h-16zM779.76 423.8h24v8h-24zM907.76 423.8h8v8h-8zM987.76 423.8h8v8h-8zM1059.76 423.8h8v8h-8zM915.76 431.8h8v8h-8zM979.76 431.8h8v8h-8z"/>
<path fill="rgb(8,8,8)" d="M915.76 71.8h8v8h-8zM1003.76 71.8h8v8h-8zM755.76 95.8h48v8h-48zM827.76 95.8h8v8h-8zM1051.76 95.8h8v8h-8zM1139.76 95.8h8v8h-8zM1195.76 95.8h16v8h-16zM699.76 103.8h8v8h-8zM1083.76 103.8h24v8h-24zM1115.76 103.8h16v8h-16zM1219.76 103.8h8v8h-8zM1219.76 135.8h8v8h-8zM1219.76 143.8h8v8h-8zM691.76 151.8h8v8h-8zM691.76 159.8h8v8h-8zM1227.76 159.8h8v8h-8zM691.76 167.8h8v8h-8zM1227.76 183.8h8v8h-8zM1227.76 191.8h8v8h-8zM1235.76 215.8h8v8h-8zM683.76 223.8h8v8h-8zM1235.76 223.8h8v8h-8zM1235.76 231.8h8v8h-8zM1235.76 239.8h8v8h-8zM683.76 255.8h8v8h-8zM1235.76 279.8h8v8h-8zM1235.76 303.8h8v8h-8zM1235.76 311.8h8v8h-8zM699.76 351.8h8v8h-8zM707.76 367.8h8v8h-8zM1067.76 367.8h16v8h-16zM1107.76 367.8h16v8h-16zM763.76 375.8h32v8h-32zM827.76 375.8h8v8h-8zM883.76 375.8h32v8h-32zM1003.76 375.8h8v8h-8zM1027.76 375.8h8v8h-8zM1059.76 375.8h48v8h-48zM1123.76 375.8h8v8h-8zM1195.76 375.8h8v8h-8zM715.76 383.8h16v8h-16zM739.76 383.8h16v8h-16zM795.76 383.8h24v8h-24zM835.76 383.8h16v8h-16zM859.76 383.8h16v8h-16zM915.76 383.8h8v8h-8zM1035.76 383.8h8v8h-8zM1059.76 383.8h40v8h-40zM1131.76 383.8h64v8h-64zM723.76 391.8h16v8h-16zM843.76 391.8h24v8h-24zM915.76 391.8h8v8h-8zM995.76 391.8h8v8h-8zM1043.76 391.8h8v8h-8zM1067.76 391.8h16v8h-16zM1163.76 391.8h32v8h-32zM843.76 399.8h16v8h-16zM915.76 399.8h8v8h-8zM995.76 399.8h8v8h-8zM1051.76 399.8h8v8h-8zM1067.76 399.8h8v8h-8zM851.76 407.8h8v8h-8zM915.76 407.8h8v8h-8zM995.76 407.8h8v8h-8zM1051.76 407.8h16v8h-16zM915.76 415.8h8v8h-8zM915.76 423.8h8v8h-8zM923.76 431.8h16v8h-16zM955.76 431.8h24v8h-24z"/>
<path fill="rgb(9,9,9)" d="M987.76 23.8h8v8h-8zM995.76 31.8h8v8h-8zM915.76 63.8h8v8h-8zM1003.76 63.8h8v8h-8zM915.76 79.8h8v8h-8zM1003.76 79.8h8v8h-8zM907.76 87.8h8v8h-8zM1011.76 87.8h8v8h-8zM835.76 95.8h8v8h-8zM1035.76 95.8h16v8h-16zM1147.76 95.8h8v8h-8zM1187.76 95.8h8v8h-8zM1075.76 103.8h8v8h-8zM1107.76 103.8h8v8h-8zM1131.76 103.8h8v8h-8zM1219.76 127.8h8v8h-8zM699.76 135.8h8v8h-8zM1123.76 135.8h16v8h-16zM1227.76 167.8h8v8h-8zM1227.76 175.8h8v8h-8zM699.76 191.8h8v8h-8zM1227.76 199.8h8v8h-8zM691.76 207.8h8v8h-8zM683.76 247.8h8v8h-8zM1235.76 287.8h8v8h-8zM1235.76 295.8h8v8h-8zM691.76 327.8h8v8h-8zM1227.76 335.8h8v8h-8zM699.76 343.8h8v8h-8zM1219.76 351.8h8v8h-8zM707.76 359.8h8v8h-8zM1107.76 359.8h8v8h-8zM1211.76 359.8h8v8h-8zM1059.76 367.8h8v8h-8zM1083.76 367.8h24v8h-24zM1123.76 367.8h8v8h-8zM1203.76 367.8h8v8h-8zM715.76 375.8h16v8h-16zM755.76 375.8h8v8h-8zM795.76 375.8h32v8h-32zM835.76 375.8h8v8h-8zM875.76 375.8h8v8h-8zM915.76 375.8h8v8h-8zM1035.76 375.8h8v8h-8zM1051.76 375.8h8v8h-8zM1131.76 375.8h64v8h-64zM731.76 383.8h8v8h-8zM851.76 383.8h8v8h-8zM995.76 383.8h8v8h-8zM1043.76 383.8h16v8h-16zM1051.76 391.8h16v8h-16zM1059.76 399.8h8v8h-8zM987.76 415.8h8v8h-8zM923.76 423.8h8v8h-8zM979.76 423.8h8v8h-8zM939.76 431.8h16v8h-16z"/>
<path fill="rgb(10,10,10)" d="M915.76 47.8h8v8h-8zM1003.76 47.8h8v8h-8zM915.76 55.8h8v8h-8zM1003.76 55.8h8v8h-8zM843.76 95.8h8v8h-8zM1027.76 95.8h8v8h-8zM1155.76 95.8h32v8h-32zM707.76 103.8h8v8h-8zM803.76 103.8h24v8h-24zM1067.76 103.8h8v8h-8zM1211.76 103.8h8v8h-8zM699.76 111.8h8v8h-8zM1115.76 111.8h16v8h-16zM1219.76 111.8h8v8h-8zM699.76 119.8h8v8h-8zM1123.76 119.8h8v8h-8zM1219.76 119.8h8v8h-8zM699.76 127.8h8v8h-8zM1115.76 127.8h32v8h-32zM803.76 135.8h24v8h-24zM1115.76 135.8h8v8h-8zM1139.76 135.8h24v8h-24zM699.76 143.8h8v8h-8zM811.76 143.8h8v8h-8zM1067.76 143.8h16v8h-16zM1147.76 143.8h16v8h-16zM1219.76 151.8h8v8h-8zM699.76 183.8h8v8h-8zM699.76 199.8h8v8h-8zM683.76 231.8h8v8h-8zM683.76 239.8h8v8h-8zM691.76 319.8h8v8h-8zM1227.76 327.8h8v8h-8zM1067.76 359.8h40v8h-40zM1115.76 359.8h8v8h-8zM715.76 367.8h16v8h-16zM899.76 367.8h8v8h-8zM1011.76 367.8h16v8h-16zM1051.76 367.8h8v8h-8zM1131.76 367.8h8v8h-8zM1147.76 367.8h56v8h-56zM731.76 375.8h24v8h-24zM843.76 375.8h32v8h-32zM995.76 375.8h8v8h-8zM1043.76 375.8h8v8h-8zM923.76 383.8h8v8h-8zM923.76 391.8h8v8h-8zM923.76 399.8h8v8h-8zM987.76 399.8h8v8h-8zM923.76 407.8h8v8h-8zM987.76 407.8h8v8h-8zM923.76 415.8h8v8h-8zM931.76 423.8h8v8h-8zM971.76 423.8h8v8h-8z"/>
<path fill="rgb(11,11,11)" d="M851.76 95.8h8v8h-8zM883.76 95.8h24v8h-24zM715.76 103.8h48v8h-48zM795.76 103.8h8v8h-8zM827.76 103.8h8v8h-8zM1059.76 103.8h8v8h-8zM1139.76 103.8h8v8h-8zM1203.76 103.8h8v8h-8zM1083.76 111.8h32v8h-32zM1131.76 111.8h8v8h-8zM1107.76 119.8h16v8h-16zM1131.76 119.8h8v8h-8zM803.76 127.8h24v8h-24zM1091.76 127.8h24v8h-24zM1147.76 127.8h8v8h-8zM795.76 135.8h8v8h-8zM827.76 135.8h8v8h-8zM1035.76 135.8h80v8h-80zM1163.76 135.8h8v8h-8zM1211.76 135.8h8v8h-8zM795.76 143.8h16v8h-16zM819.76 143.8h8v8h-8zM1059.76 143.8h8v8h-8zM1083.76 143.8h8v8h-8zM1123.76 143.8h24v8h-24zM1163.76 143.8h8v8h-8zM1211.76 143.8h8v8h-8zM699.76 151.8h8v8h-8zM699.76 175.8h8v8h-8zM1227.76 207.8h8v8h-8zM691.76 303.8h8v8h-8zM691.76 311.8h8v8h-8zM1227.76 319.8h8v8h-8zM699.76 335.8h8v8h-8zM1219.76 343.8h8v8h-8zM707.76 351.8h8v8h-8zM1083.76 351.8h32v8h-32zM1211.76 351.8h8v8h-8zM715.76 359.8h8v8h-8zM1059.76 359.8h8v8h-8zM1123.76 359.8h8v8h-8zM1155.76 359.8h24v8h-24zM1203.76 359.8h8v8h-8zM731.76 367.8h112v8h-112zM883.76 367.8h16v8h-16zM907.76 367.8h16v8h-16zM1003.76 367.8h8v8h-8zM1027.76 367.8h24v8h-24zM1139.76 367.8h8v8h-8zM923.76 375.8h8v8h-8zM987.76 375.8h8v8h-8zM987.76 383.8h8v8h-8zM987.76 391.8h8v8h-8zM931.76 415.8h8v8h-8zM979.76 415.8h8v8h-8zM939.76 423.8h32v8h-32z"/>
<path fill="rgb(12,12,12)" d="M939.76 23.8h8v8h-8zM923.76 39.8h8v8h-8zM859.76 95.8h8v8h-8zM875.76 95.8h8v8h-8zM1019.76 95.8h8v8h-8zM763.76 103.8h32v8h-32zM1043.76 103.8h16v8h-16zM1147.76 103.8h8v8h-8zM1195.76 103.8h8v8h-8zM707.76 111.8h8v8h-8zM803.76 111.8h24v8h-24zM1067.76 111.8h16v8h-16zM1139.76 111.8h8v8h-8zM1211.76 111.8h8v8h-8zM803.76 119.8h24v8h-24zM1083.76 119.8h24v8h-24zM1139.76 119.8h8v8h-8zM707.76 127.8h8v8h-8zM787.76 127.8h16v8h-16zM827.76 127.8h8v8h-8zM1035.76 127.8h56v8h-56zM1155.76 127.8h8v8h-8zM1211.76 127.8h8v8h-8zM707.76 135.8h24v8h-24zM787.76 135.8h8v8h-8zM835.76 135.8h8v8h-8zM707.76 143.8h8v8h-8zM787.76 143.8h8v8h-8zM827.76 143.8h16v8h-16zM1043.76 143.8h16v8h-16zM1091.76 143.8h8v8h-8zM1115.76 143.8h8v8h-8zM803.76 151.8h24v8h-24zM1067.76 151.8h16v8h-16zM699.76 159.8h8v8h-8zM1219.76 159.8h8v8h-8zM699.76 167.8h8v8h-8zM1219.76 191.8h8v8h-8zM691.76 215.8h8v8h-8zM1227.76 255.8h8v8h-8zM1227.76 263.8h8v8h-8zM691.76 271.8h8v8h-8zM691.76 279.8h8v8h-8zM691.76 287.8h8v8h-8zM691.76 295.8h8v8h-8zM1219.76 335.8h8v8h-8zM1075.76 351.8h8v8h-8zM1115.76 351.8h8v8h-8zM723.76 359.8h16v8h-16zM1019.76 359.8h8v8h-8zM1051.76 359.8h8v8h-8zM1131.76 359.8h24v8h-24zM1179.76 359.8h24v8h-24zM843.76 367.8h8v8h-8zM875.76 367.8h8v8h-8zM995.76 367.8h8v8h-8zM931.76 383.8h8v8h-8zM931.76 391.8h8v8h-8zM931.76 399.8h8v8h-8zM931.76 407.8h8v8h-8zM979.76 407.8h8v8h-8zM939.76 415.8h8v8h-8zM971.76 415.8h8v8h-8z"/>
<path fill="rgb(13,13,13)" d="M923.76 71.8h8v8h-8zM915.76 87.8h8v8h-8zM867.76 95.8h8v8h-8zM835.76 103.8h8v8h-8zM1035.76 103.8h8v8h-8zM1187.76 103.8h8v8h-8zM715.76 111.8h40v8h-40zM787.76 111.8h16v8h-16zM827.76 111.8h8v8h-8zM1059.76 111.8h8v8h-8zM707.76 119.8h8v8h-8zM731.76 119.8h16v8h-16zM787.76 119.8h16v8h-16zM827.76 119.8h8v8h-8zM1067.76 119.8h16v8h-16zM1147.76 119.8h8v8h-8zM1211.76 119.8h8v8h-8zM715.76 127.8h32v8h-32zM779.76 127.8h8v8h-8zM835.76 127.8h8v8h-8zM1027.76 127.8h8v8h-8zM1163.76 127.8h8v8h-8zM731.76 135.8h8v8h-8zM779.76 135.8h8v8h-8zM1027.76 135.8h8v8h-8zM1171.76 135.8h8v8h-8zM1203.76 135.8h8v8h-8zM715.76 143.8h16v8h-16zM1035.76 143.8h8v8h-8zM1099.76 143.8h16v8h-16zM1171.76 143.8h8v8h-8zM707.76 151.8h8v8h-8zM795.76 151.8h8v8h-8zM827.76 151.8h8v8h-8zM1059.76 151.8h8v8h-8zM1083.76 151.8h8v8h-8zM1155.76 151.8h8v8h-8zM1211.76 151.8h8v8h-8zM803.76 159.8h16v8h-16zM1219.76 167.8h8v8h-8zM1219.76 175.8h8v8h-8zM707.76 183.8h8v8h-8zM1219.76 183.8h8v8h-8zM707.76 191.8h8v8h-8zM1219.76 199.8h8v8h-8zM1227.76 215.8h8v8h-8zM1227.76 247.8h8v8h-8zM691.76 263.8h8v8h-8zM1227.76 271.8h8v8h-8zM1227.76 311.8h8v8h-8zM699.76 327.8h8v8h-8zM707.76 343.8h8v8h-8zM1099.76 343.8h8v8h-8zM1211.76 343.8h8v8h-8zM715.76 351.8h8v8h-8zM1059.76 351.8h16v8h-16zM1123.76 351.8h8v8h-8zM1155.76 351.8h16v8h-16zM1203.76 351.8h8v8h-8zM739.76 359.8h8v8h-8zM795.76 359.8h40v8h-40zM899.76 359.8h16v8h-16zM1011.76 359.8h8v8h-8zM1027.76 359.8h24v8h-24zM851.76 367.8h8v8h-8zM867.76 367.8h8v8h-8zM923.76 367.8h8v8h-8zM931.76 375.8h8v8h-8zM979.76 375.8h8v8h-8zM979.76 383.8h8v8h-8zM939.76 391.8h8v8h-8zM979.76 391.8h8v8h-8zM939.76 399.8h8v8h-8zM979.76 399.8h8v8h-8zM939.76 407.8h8v8h-8zM947.76 415.8h24v8h-24z"/>
<path fill="rgb(14,14,14)" d="M931.76 31.8h8v8h-8zM995.76 39.8h8v8h-8zM923.76 79.8h8v8h-8zM1003.76 87.8h8v8h-8zM907.76 95.8h8v8h-8zM1027.76 103.8h8v8h-8zM1155.76 103.8h32v8h-32zM755.76 111.8h16v8h-16zM779.76 111.8h8v8h-8zM1035.76 111.8h24v8h-24zM1147.76 111.8h8v8h-8zM1203.76 111.8h8v8h-8zM715.76 119.8h16v8h-16zM747.76 119.8h8v8h-8zM779.76 119.8h8v8h-8zM1035.76 119.8h32v8h-32zM1203.76 119.8h8v8h-8zM747.76 127.8h16v8h-16zM771.76 127.8h8v8h-8zM1171.76 127.8h8v8h-8zM1203.76 127.8h8v8h-8zM739.76 135.8h16v8h-16zM771.76 135.8h8v8h-8zM843.76 135.8h8v8h-8zM1179.76 135.8h8v8h-8zM731.76 143.8h8v8h-8zM779.76 143.8h8v8h-8zM843.76 143.8h8v8h-8zM1027.76 143.8h8v8h-8zM1203.76 143.8h8v8h-8zM715.76 151.8h8v8h-8zM787.76 151.8h8v8h-8zM835.76 151.8h8v8h-8zM1139.76 151.8h16v8h-16zM1163.76 151.8h8v8h-8zM819.76 159.8h8v8h-8zM1075.76 159.8h8v8h-8zM707.76 175.8h8v8h-8zM699.76 207.8h8v8h-8zM1227.76 239.8h8v8h-8zM691.76 255.8h8v8h-8zM1227.76 279.8h8v8h-8zM1227.76 287.8h8v8h-8zM1227.76 295.8h8v8h-8zM1227.76 303.8h8v8h-8zM699.76 319.8h8v8h-8zM891.76 327.8h8v8h-8zM1219.76 327.8h8v8h-8zM707.76 335.8h8v8h-8zM1083.76 343.8h16v8h-16zM1107.76 343.8h16v8h-16zM723.76 351.8h16v8h-16zM1051.76 351.8h8v8h-8zM1131.76 351.8h8v8h-8zM1147.76 351.8h8v8h-8zM1171.76 351.8h8v8h-8zM1195.76 351.8h8v8h-8zM747.76 359.8h16v8h-16zM787.76 359.8h8v8h-8zM835.76 359.8h8v8h-8zM891.76 359.8h8v8h-8zM915.76 359.8h8v8h-8zM1003.76 359.8h8v8h-8zM859.76 367.8h8v8h-8zM987.76 367.8h8v8h-8zM939.76 383.8h8v8h-8zM947.76 407.8h8v8h-8zM971.76 407.8h8v8h-8z"/>
<path fill="rgb(15,15,15)" d="M979.76 23.8h8v8h-8zM1011.76 95.8h8v8h-8zM843.76 103.8h8v8h-8zM891.76 103.8h8v8h-8zM771.76 111.8h8v8h-8zM835.76 111.8h8v8h-8zM1155.76 111.8h8v8h-8zM1195.76 111.8h8v8h-8zM755.76 119.8h24v8h-24zM835.76 119.8h8v8h-8zM1027.76 119.8h8v8h-8zM1155.76 119.8h8v8h-8zM763.76 127.8h8v8h-8zM1179.76 127.8h8v8h-8zM1195.76 127.8h8v8h-8zM755.76 135.8h16v8h-16zM891.76 135.8h8v8h-8zM1019.76 135.8h8v8h-8zM1187.76 135.8h16v8h-16zM739.76 143.8h8v8h-8zM771.76 143.8h8v8h-8zM851.76 143.8h8v8h-8zM1179.76 143.8h8v8h-8zM723.76 151.8h8v8h-8zM843.76 151.8h8v8h-8zM1051.76 151.8h8v8h-8zM1091.76 151.8h8v8h-8zM1123.76 151.8h16v8h-16zM707.76 159.8h8v8h-8zM795.76 159.8h8v8h-8zM1067.76 159.8h8v8h-8zM1083.76 159.8h8v8h-8zM1211.76 159.8h8v8h-8zM707.76 167.8h8v8h-8zM803.76 167.8h16v8h-16zM707.76 199.8h8v8h-8zM691.76 223.8h8v8h-8zM1227.76 223.8h8v8h-8zM1227.76 231.8h8v8h-8zM891.76 319.8h8v8h-8zM1219.76 319.8h8v8h-8zM883.76 327.8h8v8h-8zM899.76 327.8h8v8h-8zM891.76 335.8h16v8h-16zM1211.76 335.8h8v8h-8zM715.76 343.8h8v8h-8zM1075.76 343.8h8v8h-8zM1155.76 343.8h16v8h-16zM1203.76 343.8h8v8h-8zM739.76 351.8h16v8h-16zM803.76 351.8h24v8h-24zM899.76 351.8h16v8h-16zM1019.76 351.8h32v8h-32zM1139.76 351.8h8v8h-8zM1179.76 351.8h16v8h-16zM763.76 359.8h24v8h-24zM883.76 359.8h8v8h-8zM931.76 367.8h8v8h-8zM939.76 375.8h8v8h-8zM971.76 375.8h8v8h-8zM947.76 383.8h8v8h-8zM971.76 383.8h8v8h-8zM947.76 391.8h8v8h-8zM971.76 391.8h8v8h-8zM947.76 399.8h8v8h-8zM971.76 399.8h8v8h-8zM955.76 407.8h16v8h-16z"/>
<path fill="rgb(16,16,16)" d="M923.76 47.8h8v8h-8zM923.76 63.8h8v8h-8zM995.76 71.8h8v8h-8zM995.76 79.8h8v8h-8zM883.76 103.8h8v8h-8zM899.76 103.8h8v8h-8zM1019.76 103.8h8v8h-8zM1027.76 111.8h8v8h-8zM1163.76 111.8h8v8h-8zM1179.76 111.8h16v8h-16zM1163.76 119.8h16v8h-16zM1195.76 119.8h8v8h-8zM843.76 127.8h8v8h-8zM891.76 127.8h8v8h-8zM1019.76 127.8h8v8h-8zM1187.76 127.8h8v8h-8zM851.76 135.8h8v8h-8zM883.76 135.8h8v8h-8zM899.76 135.8h8v8h-8zM747.76 143.8h8v8h-8zM763.76 143.8h8v8h-8zM859.76 143.8h8v8h-8zM883.76 143.8h8v8h-8zM1187.76 143.8h16v8h-16zM731.76 151.8h8v8h-8zM779.76 151.8h8v8h-8zM851.76 151.8h8v8h-8zM1043.76 151.8h8v8h-8zM1099.76 151.8h24v8h-24zM1171.76 151.8h8v8h-8zM1203.76 151.8h8v8h-8zM715.76 159.8h16v8h-16zM827.76 159.8h16v8h-16zM715.76 167.8h8v8h-8zM795.76 167.8h8v8h-8zM819.76 167.8h8v8h-8zM1075.76 167.8h8v8h-8zM715.76 175.8h8v8h-8zM803.76 175.8h16v8h-16zM715.76 183.8h8v8h-8zM715.76 191.8h8v8h-8zM1219.76 207.8h8v8h-8zM691.76 247.8h8v8h-8zM699.76 311.8h8v8h-8zM803.76 311.8h16v8h-16zM803.76 319.8h16v8h-16zM883.76 319.8h8v8h-8zM707.76 327.8h8v8h-8zM803.76 327.8h16v8h-16zM1211.76 327.8h8v8h-8zM715.76 335.8h8v8h-8zM803.76 335.8h16v8h-16zM1099.76 335.8h8v8h-8zM723.76 343.8h24v8h-24zM803.76 343.8h16v8h-16zM891.76 343.8h24v8h-24zM1067.76 343.8h8v8h-8zM1123.76 343.8h8v8h-8zM1147.76 343.8h8v8h-8zM1171.76 343.8h8v8h-8zM755.76 351.8h8v8h-8zM795.76 351.8h8v8h-8zM827.76 351.8h8v8h-8zM891.76 351.8h8v8h-8zM1011.76 351.8h8v8h-8zM843.76 359.8h8v8h-8zM875.76 359.8h8v8h-8zM923.76 359.8h8v8h-8zM995.76 359.8h8v8h-8zM979.76 367.8h8v8h-8zM955.76 383.8h16v8h-16zM955.76 391.8h16v8h-16zM955.76 399.8h16v8h-16z"/>
<path fill="rgb(17,17,17)" d="M987.76 31.8h8v8h-8zM923.76 55.8h8v8h-8zM851.76 103.8h8v8h-8zM875.76 103.8h8v8h-8zM891.76 111.8h8v8h-8zM1171.76 111.8h8v8h-8zM891.76 119.8h8v8h-8zM1179.76 119.8h16v8h-16zM883.76 127.8h8v8h-8zM899.76 127.8h8v8h-8zM859.76 135.8h8v8h-8zM875.76 135.8h8v8h-8zM755.76 143.8h8v8h-8zM867.76 143.8h16v8h-16zM891.76 143.8h8v8h-8zM1019.76 143.8h8v8h-8zM859.76 151.8h16v8h-16zM1035.76 151.8h8v8h-8zM787.76 159.8h8v8h-8zM843.76 159.8h16v8h-16zM1059.76 159.8h8v8h-8zM1091.76 159.8h8v8h-8zM723.76 167.8h8v8h-8zM1067.76 167.8h8v8h-8zM1083.76 167.8h8v8h-8zM1211.76 167.8h8v8h-8zM819.76 175.8h8v8h-8zM723.76 183.8h8v8h-8zM803.76 183.8h16v8h-16zM1211.76 183.8h8v8h-8zM1211.76 191.8h8v8h-8zM691.76 231.8h8v8h-8zM1219.76 263.8h8v8h-8zM699.76 271.8h8v8h-8zM699.76 279.8h8v8h-8zM699.76 303.8h8v8h-8zM803.76 303.8h16v8h-16zM795.76 311.8h8v8h-8zM1219.76 311.8h8v8h-8zM795.76 319.8h8v8h-8zM875.76 319.8h8v8h-8zM899.76 319.8h8v8h-8zM795.76 327.8h8v8h-8zM875.76 327.8h8v8h-8zM723.76 335.8h16v8h-16zM883.76 335.8h8v8h-8zM907.76 335.8h8v8h-8zM1091.76 335.8h8v8h-8zM1107.76 335.8h16v8h-16zM1155.76 335.8h16v8h-16zM1203.76 335.8h8v8h-8zM747.76 343.8h8v8h-8zM795.76 343.8h8v8h-8zM819.76 343.8h8v8h-8zM1019.76 343.8h48v8h-48zM1131.76 343.8h16v8h-16zM1195.76 343.8h8v8h-8zM787.76 351.8h8v8h-8zM835.76 351.8h8v8h-8zM883.76 351.8h8v8h-8zM915.76 351.8h8v8h-8zM851.76 359.8h8v8h-8zM947.76 375.8h24v8h-24z"/>
<path fill="rgb(18,18,18)" d="M947.76 23.8h8v8h-8zM995.76 63.8h8v8h-8zM859.76 103.8h16v8h-16zM843.76 111.8h8v8h-8zM883.76 111.8h8v8h-8zM899.76 111.8h8v8h-8zM843.76 119.8h8v8h-8zM883.76 119.8h8v8h-8zM899.76 119.8h8v8h-8zM1019.76 119.8h8v8h-8zM851.76 127.8h8v8h-8zM875.76 127.8h8v8h-8zM867.76 135.8h8v8h-8zM899.76 143.8h8v8h-8zM739.76 151.8h8v8h-8zM771.76 151.8h8v8h-8zM875.76 151.8h8v8h-8zM731.76 159.8h8v8h-8zM859.76 159.8h8v8h-8zM1155.76 159.8h8v8h-8zM827.76 167.8h8v8h-8zM723.76 175.8h8v8h-8zM795.76 175.8h8v8h-8zM1075.76 175.8h16v8h-16zM1211.76 175.8h8v8h-8zM795.76 183.8h8v8h-8zM819.76 183.8h8v8h-8zM1075.76 183.8h16v8h-16zM723.76 191.8h8v8h-8zM803.76 191.8h16v8h-16zM1075.76 191.8h16v8h-16zM1211.76 199.8h8v8h-8zM691.76 239.8h8v8h-8zM1219.76 255.8h8v8h-8zM699.76 263.8h8v8h-8zM1219.76 271.8h8v8h-8zM699.76 287.8h8v8h-8zM699.76 295.8h8v8h-8zM1219.76 303.8h8v8h-8zM819.76 311.8h8v8h-8zM883.76 311.8h16v8h-16zM707.76 319.8h8v8h-8zM819.76 319.8h8v8h-8zM1211.76 319.8h8v8h-8zM715.76 327.8h24v8h-24zM819.76 327.8h8v8h-8zM907.76 327.8h8v8h-8zM1203.76 327.8h8v8h-8zM739.76 335.8h16v8h-16zM795.76 335.8h8v8h-8zM819.76 335.8h8v8h-8zM1027.76 335.8h8v8h-8zM1083.76 335.8h8v8h-8zM1123.76 335.8h8v8h-8zM1147.76 335.8h8v8h-8zM755.76 343.8h8v8h-8zM827.76 343.8h8v8h-8zM883.76 343.8h8v8h-8zM1179.76 343.8h16v8h-16zM763.76 351.8h8v8h-8zM1003.76 351.8h8v8h-8zM859.76 359.8h16v8h-16zM987.76 359.8h8v8h-8zM939.76 367.8h8v8h-8zM971.76 367.8h8v8h-8z"/>
<path fill="rgb(19,19,19)" d="M995.76 47.8h8v8h-8zM1019.76 111.8h8v8h-8zM907.76 135.8h8v8h-8zM1011.76 135.8h8v8h-8zM747.76 151.8h8v8h-8zM763.76 151.8h8v8h-8zM883.76 151.8h8v8h-8zM1027.76 151.8h8v8h-8zM1179.76 151.8h8v8h-8zM1195.76 151.8h8v8h-8zM779.76 159.8h8v8h-8zM867.76 159.8h8v8h-8zM1051.76 159.8h8v8h-8zM1099.76 159.8h8v8h-8zM1147.76 159.8h8v8h-8zM1163.76 159.8h8v8h-8zM1203.76 159.8h8v8h-8zM731.76 167.8h8v8h-8zM787.76 167.8h8v8h-8zM835.76 167.8h24v8h-24zM1059.76 167.8h8v8h-8zM1091.76 167.8h8v8h-8zM731.76 175.8h8v8h-8zM827.76 175.8h8v8h-8zM1067.76 175.8h8v8h-8zM1091.76 175.8h8v8h-8zM731.76 183.8h8v8h-8zM827.76 183.8h8v8h-8zM1067.76 183.8h8v8h-8zM1091.76 183.8h8v8h-8zM795.76 191.8h8v8h-8zM819.76 191.8h8v8h-8zM1067.76 191.8h8v8h-8zM1091.76 191.8h8v8h-8zM715.76 199.8h8v8h-8zM803.76 199.8h16v8h-16zM707.76 207.8h8v8h-8zM699.76 215.8h8v8h-8zM1219.76 247.8h8v8h-8zM1219.76 279.8h8v8h-8zM811.76 295.8h8v8h-8zM1219.76 295.8h8v8h-8zM795.76 303.8h8v8h-8zM819.76 303.8h8v8h-8zM707.76 311.8h8v8h-8zM787.76 311.8h8v8h-8zM875.76 311.8h8v8h-8zM1211.76 311.8h8v8h-8zM715.76 319.8h24v8h-24zM787.76 319.8h8v8h-8zM867.76 319.8h8v8h-8zM1203.76 319.8h8v8h-8zM739.76 327.8h16v8h-16zM787.76 327.8h8v8h-8zM867.76 327.8h8v8h-8zM1099.76 327.8h8v8h-8zM1147.76 327.8h24v8h-24zM755.76 335.8h8v8h-8zM875.76 335.8h8v8h-8zM1019.76 335.8h8v8h-8zM1035.76 335.8h16v8h-16zM1075.76 335.8h8v8h-8zM1131.76 335.8h16v8h-16zM1171.76 335.8h8v8h-8zM1195.76 335.8h8v8h-8zM787.76 343.8h8v8h-8zM915.76 343.8h8v8h-8zM1011.76 343.8h8v8h-8zM771.76 351.8h16v8h-16zM843.76 351.8h8v8h-8zM875.76 351.8h8v8h-8zM931.76 359.8h8v8h-8z"/>
<path fill="rgb(20,20,20)" d="M971.76 23.8h8v8h-8zM995.76 55.8h8v8h-8zM923.76 87.8h8v8h-8zM915.76 95.8h8v8h-8zM907.76 103.8h8v8h-8zM851.76 111.8h8v8h-8zM875.76 111.8h8v8h-8zM851.76 119.8h8v8h-8zM875.76 119.8h8v8h-8zM859.76 127.8h16v8h-16zM907.76 127.8h8v8h-8zM755.76 151.8h8v8h-8zM891.76 151.8h8v8h-8zM1187.76 151.8h8v8h-8zM739.76 159.8h8v8h-8zM1043.76 159.8h8v8h-8zM1107.76 159.8h40v8h-40zM859.76 167.8h8v8h-8zM787.76 175.8h8v8h-8zM835.76 175.8h24v8h-24zM787.76 183.8h8v8h-8zM835.76 183.8h8v8h-8zM1059.76 183.8h8v8h-8zM1099.76 183.8h8v8h-8zM731.76 191.8h8v8h-8zM827.76 191.8h8v8h-8zM1059.76 191.8h8v8h-8zM1099.76 191.8h8v8h-8zM819.76 199.8h8v8h-8zM1043.76 199.8h48v8h-48zM1219.76 215.8h8v8h-8zM699.76 255.8h8v8h-8zM1219.76 287.8h8v8h-8zM803.76 295.8h8v8h-8zM819.76 295.8h8v8h-8zM827.76 311.8h8v8h-8zM899.76 311.8h8v8h-8zM739.76 319.8h16v8h-16zM827.76 319.8h8v8h-8zM907.76 319.8h8v8h-8zM755.76 327.8h8v8h-8zM827.76 327.8h8v8h-8zM1027.76 327.8h16v8h-16zM1091.76 327.8h8v8h-8zM1107.76 327.8h40v8h-40zM1195.76 327.8h8v8h-8zM787.76 335.8h8v8h-8zM827.76 335.8h8v8h-8zM1051.76 335.8h24v8h-24zM1179.76 335.8h16v8h-16zM763.76 343.8h8v8h-8zM835.76 343.8h8v8h-8zM875.76 343.8h8v8h-8zM851.76 351.8h8v8h-8zM923.76 351.8h8v8h-8zM995.76 351.8h8v8h-8zM979.76 359.8h8v8h-8zM947.76 367.8h8v8h-8zM963.76 367.8h8v8h-8z"/>
<path fill="rgb(21,21,21)" d="M1011.76 103.8h8v8h-8zM859.76 111.8h8v8h-8zM1011.76 127.8h8v8h-8zM1011.76 143.8h8v8h-8zM1019.76 151.8h8v8h-8zM771.76 159.8h8v8h-8zM875.76 159.8h8v8h-8zM1171.76 159.8h8v8h-8zM739.76 167.8h8v8h-8zM779.76 167.8h8v8h-8zM867.76 167.8h8v8h-8zM1099.76 167.8h8v8h-8zM1203.76 167.8h8v8h-8zM739.76 175.8h8v8h-8zM859.76 175.8h8v8h-8zM1059.76 175.8h8v8h-8zM1099.76 175.8h8v8h-8zM739.76 183.8h8v8h-8zM843.76 183.8h24v8h-24zM1203.76 183.8h8v8h-8zM739.76 191.8h8v8h-8zM787.76 191.8h8v8h-8zM835.76 191.8h24v8h-24zM1051.76 191.8h8v8h-8zM1107.76 191.8h8v8h-8zM1203.76 191.8h8v8h-8zM723.76 199.8h8v8h-8zM795.76 199.8h8v8h-8zM827.76 199.8h8v8h-8zM1035.76 199.8h8v8h-8zM1091.76 199.8h8v8h-8zM1219.76 239.8h8v8h-8zM1211.76 263.8h8v8h-8zM795.76 295.8h8v8h-8zM707.76 303.8h8v8h-8zM787.76 303.8h8v8h-8zM827.76 303.8h8v8h-8zM1211.76 303.8h8v8h-8zM715.76 311.8h24v8h-24zM779.76 311.8h8v8h-8zM867.76 311.8h8v8h-8zM1203.76 311.8h8v8h-8zM755.76 319.8h32v8h-32zM859.76 319.8h8v8h-8zM1139.76 319.8h32v8h-32zM1195.76 319.8h8v8h-8zM763.76 327.8h8v8h-8zM779.76 327.8h8v8h-8zM859.76 327.8h8v8h-8zM1019.76 327.8h8v8h-8zM1043.76 327.8h8v8h-8zM1083.76 327.8h8v8h-8zM1171.76 327.8h8v8h-8zM1187.76 327.8h8v8h-8zM763.76 335.8h8v8h-8zM835.76 335.8h8v8h-8zM867.76 335.8h8v8h-8zM915.76 335.8h8v8h-8zM1011.76 335.8h8v8h-8zM771.76 343.8h16v8h-16zM843.76 343.8h8v8h-8zM1003.76 343.8h8v8h-8zM859.76 351.8h16v8h-16zM955.76 367.8h8v8h-8z"/>
<path fill="rgb(22,22,22)" d="M931.76 39.8h8v8h-8zM1003.76 95.8h8v8h-8zM867.76 111.8h8v8h-8zM859.76 119.8h16v8h-16zM907.76 143.8h8v8h-8zM747.76 159.8h24v8h-24zM883.76 159.8h8v8h-8zM1035.76 159.8h8v8h-8zM1195.76 159.8h8v8h-8zM771.76 167.8h8v8h-8zM1051.76 167.8h8v8h-8zM1107.76 167.8h8v8h-8zM779.76 175.8h8v8h-8zM867.76 175.8h8v8h-8zM1203.76 175.8h8v8h-8zM747.76 183.8h8v8h-8zM771.76 183.8h16v8h-16zM867.76 183.8h8v8h-8zM1051.76 183.8h8v8h-8zM1107.76 183.8h8v8h-8zM747.76 191.8h8v8h-8zM771.76 191.8h16v8h-16zM859.76 191.8h16v8h-16zM1043.76 191.8h8v8h-8zM787.76 199.8h8v8h-8zM835.76 199.8h8v8h-8zM1027.76 199.8h8v8h-8zM1099.76 199.8h8v8h-8zM1203.76 199.8h8v8h-8zM1035.76 207.8h24v8h-24zM1211.76 207.8h8v8h-8zM1211.76 255.8h8v8h-8zM707.76 263.8h8v8h-8zM707.76 271.8h8v8h-8zM1211.76 271.8h8v8h-8zM707.76 279.8h8v8h-8zM803.76 287.8h16v8h-16zM707.76 295.8h8v8h-8zM739.76 311.8h16v8h-16zM771.76 311.8h8v8h-8zM835.76 311.8h8v8h-8zM835.76 319.8h24v8h-24zM1027.76 319.8h24v8h-24zM1099.76 319.8h8v8h-8zM1115.76 319.8h24v8h-24zM1171.76 319.8h8v8h-8zM771.76 327.8h8v8h-8zM835.76 327.8h24v8h-24zM915.76 327.8h8v8h-8zM1051.76 327.8h8v8h-8zM1075.76 327.8h8v8h-8zM1179.76 327.8h8v8h-8zM771.76 335.8h16v8h-16zM843.76 335.8h24v8h-24zM851.76 343.8h24v8h-24z"/>
<path fill="rgb(23,23,23)" d="M955.76 23.8h8v8h-8zM939.76 31.8h8v8h-8zM931.76 71.8h8v8h-8zM907.76 111.8h8v8h-8zM907.76 119.8h8v8h-8zM899.76 151.8h8v8h-8zM1179.76 159.8h8v8h-8zM747.76 167.8h8v8h-8zM763.76 167.8h8v8h-8zM875.76 167.8h8v8h-8zM1115.76 167.8h8v8h-8zM747.76 175.8h32v8h-32zM1051.76 175.8h8v8h-8zM1107.76 175.8h8v8h-8zM755.76 183.8h16v8h-16zM755.76 191.8h16v8h-16zM1035.76 191.8h8v8h-8zM1115.76 191.8h8v8h-8zM1195.76 191.8h8v8h-8zM731.76 199.8h8v8h-8zM843.76 199.8h16v8h-16zM803.76 207.8h16v8h-16zM1027.76 207.8h8v8h-8zM1059.76 207.8h24v8h-24zM699.76 223.8h8v8h-8zM1219.76 223.8h8v8h-8zM1219.76 231.8h8v8h-8zM699.76 247.8h8v8h-8zM811.76 279.8h8v8h-8zM1211.76 279.8h8v8h-8zM707.76 287.8h8v8h-8zM819.76 287.8h8v8h-8zM827.76 295.8h8v8h-8zM1211.76 295.8h8v8h-8zM715.76 303.8h8v8h-8zM883.76 303.8h16v8h-16zM1203.76 303.8h8v8h-8zM755.76 311.8h16v8h-16zM859.76 311.8h8v8h-8zM1147.76 311.8h16v8h-16zM1195.76 311.8h8v8h-8zM1091.76 319.8h8v8h-8zM1107.76 319.8h8v8h-8zM1179.76 319.8h16v8h-16zM1059.76 327.8h16v8h-16zM923.76 343.8h8v8h-8zM987.76 351.8h8v8h-8zM939.76 359.8h8v8h-8zM971.76 359.8h8v8h-8z"/>
<path fill="rgb(24,24,24)" d="M963.76 23.8h8v8h-8zM931.76 79.8h8v8h-8zM995.76 87.8h8v8h-8zM1011.76 111.8h8v8h-8zM1011.76 119.8h8v8h-8zM1027.76 159.8h8v8h-8zM1187.76 159.8h8v8h-8zM755.76 167.8h8v8h-8zM1043.76 167.8h8v8h-8zM1123.76 167.8h8v8h-8zM1147.76 167.8h24v8h-24zM875.76 175.8h8v8h-8zM1115.76 175.8h8v8h-8zM875.76 183.8h8v8h-8zM1043.76 183.8h8v8h-8zM1115.76 183.8h8v8h-8zM1195.76 183.8h8v8h-8zM875.76 191.8h8v8h-8zM1027.76 191.8h8v8h-8zM739.76 199.8h8v8h-8zM771.76 199.8h16v8h-16zM859.76 199.8h16v8h-16zM1019.76 199.8h8v8h-8zM1107.76 199.8h8v8h-8zM1195.76 199.8h8v8h-8zM715.76 207.8h8v8h-8zM819.76 207.8h8v8h-8zM1083.76 207.8h8v8h-8zM707.76 255.8h8v8h-8zM715.76 263.8h8v8h-8zM1195.76 263.8h16v8h-16zM715.76 271.8h8v8h-8zM1203.76 271.8h8v8h-8zM803.76 279.8h8v8h-8zM819.76 279.8h8v8h-8zM795.76 287.8h8v8h-8zM1211.76 287.8h8v8h-8zM787.76 295.8h8v8h-8zM723.76 303.8h8v8h-8zM779.76 303.8h8v8h-8zM835.76 303.8h8v8h-8zM875.76 303.8h8v8h-8zM843.76 311.8h16v8h-16zM907.76 311.8h8v8h-8zM1131.76 311.8h16v8h-16zM1163.76 311.8h8v8h-8zM1187.76 311.8h8v8h-8zM1019.76 319.8h8v8h-8zM1051.76 319.8h8v8h-8zM1083.76 319.8h8v8h-8zM1011.76 327.8h8v8h-8zM931.76 351.8h8v8h-8z"/>
<path fill="rgb(25,25,25)" d="M891.76 159.8h8v8h-8zM1131.76 167.8h16v8h-16zM1195.76 167.8h8v8h-8zM1043.76 175.8h8v8h-8zM1195.76 175.8h8v8h-8zM883.76 191.8h8v8h-8zM1123.76 191.8h8v8h-8zM1187.76 191.8h8v8h-8zM747.76 199.8h24v8h-24zM875.76 199.8h16v8h-16zM1115.76 199.8h8v8h-8zM1155.76 199.8h40v8h-40zM795.76 207.8h8v8h-8zM827.76 207.8h8v8h-8zM1019.76 207.8h8v8h-8zM1091.76 207.8h8v8h-8zM707.76 215.8h8v8h-8zM699.76 239.8h8v8h-8zM1211.76 247.8h8v8h-8zM1115.76 255.8h8v8h-8zM1203.76 255.8h8v8h-8zM723.76 263.8h8v8h-8zM1115.76 263.8h8v8h-8zM1179.76 263.8h16v8h-16zM803.76 271.8h24v8h-24zM1195.76 271.8h8v8h-8zM795.76 279.8h8v8h-8zM827.76 287.8h8v8h-8zM715.76 295.8h8v8h-8zM1203.76 295.8h8v8h-8zM731.76 303.8h48v8h-48zM899.76 303.8h8v8h-8zM1195.76 303.8h8v8h-8zM1027.76 311.8h24v8h-24zM1091.76 311.8h16v8h-16zM1115.76 311.8h16v8h-16zM1171.76 311.8h16v8h-16zM915.76 319.8h8v8h-8zM1059.76 319.8h8v8h-8zM1003.76 335.8h8v8h-8zM995.76 343.8h8v8h-8zM947.76 359.8h8v8h-8zM963.76 359.8h8v8h-8z"/>
<path fill="rgb(26,26,26)" d="M1011.76 151.8h8v8h-8zM1019.76 159.8h8v8h-8zM883.76 167.8h8v8h-8zM1035.76 167.8h8v8h-8zM1171.76 167.8h8v8h-8zM1123.76 175.8h8v8h-8zM1035.76 183.8h8v8h-8zM1123.76 183.8h8v8h-8zM1019.76 191.8h8v8h-8zM1171.76 191.8h16v8h-16zM891.76 199.8h8v8h-8zM1123.76 199.8h8v8h-8zM1139.76 199.8h16v8h-16zM787.76 207.8h8v8h-8zM835.76 207.8h8v8h-8zM1147.76 207.8h24v8h-24zM1203.76 207.8h8v8h-8zM1035.76 215.8h8v8h-8zM699.76 231.8h8v8h-8zM715.76 255.8h8v8h-8zM1107.76 255.8h8v8h-8zM1187.76 255.8h16v8h-16zM731.76 263.8h8v8h-8zM811.76 263.8h8v8h-8zM1035.76 263.8h16v8h-16zM1107.76 263.8h8v8h-8zM1123.76 263.8h8v8h-8zM723.76 271.8h8v8h-8zM795.76 271.8h8v8h-8zM1187.76 271.8h8v8h-8zM715.76 279.8h8v8h-8zM827.76 279.8h8v8h-8zM1203.76 279.8h8v8h-8zM715.76 287.8h8v8h-8zM1203.76 287.8h8v8h-8zM835.76 295.8h8v8h-8zM843.76 303.8h8v8h-8zM867.76 303.8h8v8h-8zM1051.76 311.8h8v8h-8zM1107.76 311.8h8v8h-8zM1067.76 319.8h16v8h-16zM923.76 335.8h8v8h-8zM955.76 359.8h8v8h-8z"/>
<path fill="rgb(27,27,27)" d="M987.76 39.8h8v8h-8zM915.76 135.8h8v8h-8zM907.76 151.8h8v8h-8zM1179.76 167.8h16v8h-16zM883.76 175.8h8v8h-8zM1035.76 175.8h8v8h-8zM1163.76 175.8h8v8h-8zM883.76 183.8h8v8h-8zM1027.76 183.8h8v8h-8zM1187.76 183.8h8v8h-8zM891.76 191.8h8v8h-8zM1131.76 191.8h8v8h-8zM1147.76 191.8h24v8h-24zM1131.76 199.8h8v8h-8zM723.76 207.8h8v8h-8zM843.76 207.8h8v8h-8zM1099.76 207.8h8v8h-8zM1171.76 207.8h8v8h-8zM811.76 215.8h8v8h-8zM1027.76 215.8h8v8h-8zM1043.76 215.8h16v8h-16zM1211.76 215.8h8v8h-8zM707.76 247.8h8v8h-8zM723.76 255.8h16v8h-16zM1035.76 255.8h16v8h-16zM1123.76 255.8h8v8h-8zM1179.76 255.8h8v8h-8zM739.76 263.8h8v8h-8zM803.76 263.8h8v8h-8zM819.76 263.8h16v8h-16zM899.76 263.8h8v8h-8zM1051.76 263.8h8v8h-8zM1099.76 263.8h8v8h-8zM1171.76 263.8h8v8h-8zM731.76 271.8h8v8h-8zM827.76 271.8h8v8h-8zM1107.76 271.8h16v8h-16zM1179.76 271.8h8v8h-8zM1195.76 279.8h8v8h-8zM787.76 287.8h8v8h-8zM723.76 295.8h8v8h-8zM779.76 295.8h8v8h-8zM1195.76 295.8h8v8h-8zM851.76 303.8h16v8h-16zM1139.76 303.8h32v8h-32zM1187.76 303.8h8v8h-8zM1019.76 311.8h8v8h-8zM1083.76 311.8h8v8h-8zM1011.76 319.8h8v8h-8zM979.76 351.8h8v8h-8z"/>
<path fill="rgb(28,28,28)" d="M979.76 31.8h8v8h-8zM931.76 63.8h8v8h-8zM915.76 103.8h8v8h-8zM1003.76 135.8h8v8h-8zM899.76 159.8h8v8h-8zM1027.76 167.8h8v8h-8zM1131.76 175.8h8v8h-8zM1147.76 175.8h16v8h-16zM1171.76 175.8h8v8h-8zM1187.76 175.8h8v8h-8zM1131.76 183.8h8v8h-8zM1155.76 183.8h32v8h-32zM1139.76 191.8h8v8h-8zM899.76 199.8h8v8h-8zM731.76 207.8h8v8h-8zM779.76 207.8h8v8h-8zM851.76 207.8h16v8h-16zM883.76 207.8h8v8h-8zM1139.76 207.8h8v8h-8zM1179.76 207.8h24v8h-24zM803.76 215.8h8v8h-8zM819.76 215.8h8v8h-8zM1059.76 215.8h32v8h-32zM1211.76 239.8h8v8h-8zM1115.76 247.8h8v8h-8zM1203.76 247.8h8v8h-8zM739.76 255.8h8v8h-8zM819.76 255.8h24v8h-24zM1027.76 255.8h8v8h-8zM1099.76 255.8h8v8h-8zM747.76 263.8h16v8h-16zM795.76 263.8h8v8h-8zM835.76 263.8h8v8h-8zM891.76 263.8h8v8h-8zM1027.76 263.8h8v8h-8zM1059.76 263.8h8v8h-8zM1091.76 263.8h8v8h-8zM1131.76 263.8h8v8h-8zM739.76 271.8h16v8h-16zM787.76 271.8h8v8h-8zM899.76 271.8h8v8h-8zM1035.76 271.8h24v8h-24zM1099.76 271.8h8v8h-8zM1123.76 271.8h8v8h-8zM1171.76 271.8h8v8h-8zM723.76 279.8h8v8h-8zM787.76 279.8h8v8h-8zM1187.76 279.8h8v8h-8zM723.76 287.8h8v8h-8zM835.76 287.8h8v8h-8zM1195.76 287.8h8v8h-8zM731.76 295.8h48v8h-48zM883.76 295.8h16v8h-16zM1035.76 303.8h24v8h-24zM1091.76 303.8h16v8h-16zM1123.76 303.8h16v8h-16zM1171.76 303.8h16v8h-16zM1059.76 311.8h8v8h-8zM1075.76 311.8h8v8h-8zM1003.76 327.8h8v8h-8z"/>
<path fill="rgb(29,29,29)" d="M931.76 47.8h8v8h-8zM987.76 71.8h8v8h-8zM987.76 79.8h8v8h-8zM915.76 127.8h8v8h-8zM915.76 143.8h8v8h-8zM1003.76 143.8h8v8h-8zM891.76 167.8h8v8h-8zM1027.76 175.8h8v8h-8zM1139.76 175.8h8v8h-8zM1179.76 175.8h8v8h-8zM1019.76 183.8h8v8h-8zM1139.76 183.8h16v8h-16zM1011.76 199.8h8v8h-8zM739.76 207.8h8v8h-8zM771.76 207.8h8v8h-8zM867.76 207.8h16v8h-16zM891.76 207.8h8v8h-8zM1107.76 207.8h8v8h-8zM1131.76 207.8h8v8h-8zM827.76 215.8h8v8h-8zM1019.76 215.8h8v8h-8zM715.76 247.8h8v8h-8zM1107.76 247.8h8v8h-8zM747.76 255.8h8v8h-8zM803.76 255.8h16v8h-16zM843.76 255.8h8v8h-8zM1051.76 255.8h8v8h-8zM1091.76 255.8h8v8h-8zM1171.76 255.8h8v8h-8zM763.76 263.8h8v8h-8zM787.76 263.8h8v8h-8zM843.76 263.8h8v8h-8zM1067.76 263.8h24v8h-24zM1163.76 263.8h8v8h-8zM755.76 271.8h16v8h-16zM835.76 271.8h8v8h-8zM891.76 271.8h8v8h-8zM1059.76 271.8h8v8h-8zM1091.76 271.8h8v8h-8zM1131.76 271.8h8v8h-8zM1163.76 271.8h8v8h-8zM731.76 279.8h8v8h-8zM835.76 279.8h8v8h-8zM1179.76 279.8h8v8h-8zM779.76 287.8h8v8h-8zM843.76 295.8h8v8h-8zM1155.76 295.8h8v8h-8zM1187.76 295.8h8v8h-8zM907.76 303.8h8v8h-8zM1027.76 303.8h8v8h-8zM1083.76 303.8h8v8h-8zM1107.76 303.8h16v8h-16zM1067.76 311.8h8v8h-8zM923.76 327.8h8v8h-8zM931.76 343.8h8v8h-8zM987.76 343.8h8v8h-8zM939.76 351.8h8v8h-8z"/>
<path fill="rgb(30,30,30)" d="M1019.76 167.8h8v8h-8zM891.76 175.8h8v8h-8zM891.76 183.8h8v8h-8zM899.76 191.8h8v8h-8zM1011.76 191.8h8v8h-8zM747.76 207.8h24v8h-24zM899.76 207.8h8v8h-8zM1115.76 207.8h16v8h-16zM715.76 215.8h8v8h-8zM795.76 215.8h8v8h-8zM1091.76 215.8h8v8h-8zM1147.76 215.8h24v8h-24zM707.76 223.8h8v8h-8zM1211.76 223.8h8v8h-8zM1211.76 231.8h8v8h-8zM707.76 239.8h8v8h-8zM723.76 247.8h8v8h-8zM819.76 247.8h24v8h-24zM1027.76 247.8h16v8h-16zM1099.76 247.8h8v8h-8zM1123.76 247.8h8v8h-8zM1187.76 247.8h16v8h-16zM755.76 255.8h8v8h-8zM899.76 255.8h8v8h-8zM1059.76 255.8h32v8h-32zM1131.76 255.8h8v8h-8zM771.76 263.8h16v8h-16zM771.76 271.8h16v8h-16zM1027.76 271.8h8v8h-8zM1067.76 271.8h24v8h-24zM1139.76 271.8h8v8h-8zM1155.76 271.8h8v8h-8zM739.76 279.8h48v8h-48zM891.76 279.8h8v8h-8zM1043.76 279.8h16v8h-16zM1091.76 279.8h40v8h-40zM1155.76 279.8h24v8h-24zM731.76 287.8h48v8h-48zM1091.76 287.8h8v8h-8zM1187.76 287.8h8v8h-8zM875.76 295.8h8v8h-8zM899.76 295.8h8v8h-8zM1043.76 295.8h8v8h-8zM1091.76 295.8h16v8h-16zM1139.76 295.8h16v8h-16zM1163.76 295.8h8v8h-8zM1179.76 295.8h8v8h-8zM1059.76 303.8h8v8h-8zM915.76 311.8h8v8h-8zM995.76 335.8h8v8h-8z"/>
<path fill="rgb(31,31,31)" d="M931.76 55.8h8v8h-8zM1003.76 103.8h8v8h-8zM1003.76 127.8h8v8h-8zM1019.76 175.8h8v8h-8zM1011.76 207.8h8v8h-8zM835.76 215.8h8v8h-8zM1171.76 215.8h8v8h-8zM1203.76 215.8h8v8h-8zM811.76 223.8h16v8h-16zM1027.76 223.8h16v8h-16zM731.76 247.8h16v8h-16zM811.76 247.8h8v8h-8zM843.76 247.8h8v8h-8zM1043.76 247.8h8v8h-8zM1091.76 247.8h8v8h-8zM1179.76 247.8h8v8h-8zM795.76 255.8h8v8h-8zM851.76 255.8h8v8h-8zM891.76 255.8h8v8h-8zM1019.76 255.8h8v8h-8zM1163.76 255.8h8v8h-8zM851.76 263.8h8v8h-8zM883.76 263.8h8v8h-8zM907.76 263.8h8v8h-8zM1019.76 263.8h8v8h-8zM1139.76 263.8h8v8h-8zM1155.76 263.8h8v8h-8zM843.76 271.8h8v8h-8zM883.76 271.8h8v8h-8zM1147.76 271.8h8v8h-8zM899.76 279.8h8v8h-8zM1035.76 279.8h8v8h-8zM1059.76 279.8h8v8h-8zM1075.76 279.8h16v8h-16zM1131.76 279.8h24v8h-24zM843.76 287.8h8v8h-8zM891.76 287.8h8v8h-8zM1043.76 287.8h16v8h-16zM1083.76 287.8h8v8h-8zM1099.76 287.8h24v8h-24zM1147.76 287.8h40v8h-40zM851.76 295.8h8v8h-8zM867.76 295.8h8v8h-8zM1035.76 295.8h8v8h-8zM1051.76 295.8h8v8h-8zM1083.76 295.8h8v8h-8zM1107.76 295.8h32v8h-32zM1171.76 295.8h8v8h-8zM1067.76 303.8h16v8h-16zM1011.76 311.8h8v8h-8zM971.76 351.8h8v8h-8z"/>
<path fill="rgb(32,32,32)" d="M923.76 95.8h8v8h-8zM1011.76 159.8h8v8h-8zM907.76 199.8h8v8h-8zM723.76 215.8h8v8h-8zM787.76 215.8h8v8h-8zM843.76 215.8h8v8h-8zM1139.76 215.8h8v8h-8zM1179.76 215.8h8v8h-8zM803.76 223.8h8v8h-8zM827.76 223.8h8v8h-8zM1043.76 223.8h16v8h-16zM1067.76 223.8h24v8h-24zM707.76 231.8h8v8h-8zM819.76 239.8h24v8h-24zM1027.76 239.8h16v8h-16zM1019.76 247.8h8v8h-8zM1051.76 247.8h8v8h-8zM1075.76 247.8h16v8h-16zM1171.76 247.8h8v8h-8zM763.76 255.8h8v8h-8zM787.76 255.8h8v8h-8zM1147.76 263.8h8v8h-8zM907.76 271.8h8v8h-8zM843.76 279.8h8v8h-8zM883.76 279.8h8v8h-8zM1067.76 279.8h8v8h-8zM883.76 287.8h8v8h-8zM899.76 287.8h8v8h-8zM1035.76 287.8h8v8h-8zM1059.76 287.8h8v8h-8zM1123.76 287.8h24v8h-24zM859.76 295.8h8v8h-8zM1059.76 295.8h8v8h-8zM1075.76 295.8h8v8h-8zM1019.76 303.8h8v8h-8zM923.76 319.8h8v8h-8zM1003.76 319.8h8v8h-8z"/>
<path fill="rgb(33,33,33)" d="M915.76 111.8h8v8h-8zM915.76 119.8h8v8h-8zM899.76 167.8h8v8h-8zM899.76 183.8h8v8h-8zM1099.76 215.8h8v8h-8zM1187.76 215.8h8v8h-8zM1019.76 223.8h8v8h-8zM1059.76 223.8h8v8h-8zM811.76 231.8h24v8h-24zM1027.76 231.8h16v8h-16zM715.76 239.8h8v8h-8zM811.76 239.8h8v8h-8zM843.76 239.8h8v8h-8zM1083.76 239.8h8v8h-8zM1107.76 239.8h16v8h-16zM1203.76 239.8h8v8h-8zM747.76 247.8h8v8h-8zM803.76 247.8h8v8h-8zM851.76 247.8h8v8h-8zM1059.76 247.8h16v8h-16zM771.76 255.8h16v8h-16zM859.76 255.8h8v8h-8zM883.76 255.8h8v8h-8zM907.76 255.8h8v8h-8zM1139.76 255.8h8v8h-8zM1155.76 255.8h8v8h-8zM859.76 263.8h8v8h-8zM851.76 271.8h8v8h-8zM1019.76 271.8h8v8h-8zM1027.76 279.8h8v8h-8zM875.76 287.8h8v8h-8zM1067.76 287.8h16v8h-16zM1027.76 295.8h8v8h-8zM1067.76 295.8h8v8h-8zM931.76 335.8h8v8h-8zM947.76 351.8h8v8h-8zM963.76 351.8h8v8h-8z"/>
<path fill="rgb(34,34,34)" d="M931.76 87.8h8v8h-8zM907.76 159.8h8v8h-8zM1011.76 183.8h8v8h-8zM907.76 207.8h8v8h-8zM731.76 215.8h8v8h-8zM779.76 215.8h8v8h-8zM851.76 215.8h16v8h-16zM875.76 215.8h24v8h-24zM1107.76 215.8h8v8h-8zM1131.76 215.8h8v8h-8zM1195.76 215.8h8v8h-8zM715.76 223.8h8v8h-8zM835.76 223.8h8v8h-8zM1091.76 223.8h8v8h-8zM1163.76 223.8h8v8h-8zM835.76 231.8h8v8h-8zM1075.76 231.8h16v8h-16zM723.76 239.8h16v8h-16zM1019.76 239.8h8v8h-8zM1043.76 239.8h8v8h-8zM1075.76 239.8h8v8h-8zM1091.76 239.8h16v8h-16zM1123.76 239.8h8v8h-8zM755.76 247.8h8v8h-8zM795.76 247.8h8v8h-8zM1131.76 247.8h8v8h-8zM875.76 263.8h8v8h-8zM875.76 271.8h8v8h-8zM851.76 279.8h8v8h-8zM875.76 279.8h8v8h-8zM851.76 287.8h8v8h-8zM1027.76 287.8h8v8h-8zM907.76 295.8h8v8h-8zM995.76 327.8h8v8h-8zM955.76 351.8h8v8h-8z"/>
<path fill="rgb(35,35,35)" d="M947.76 31.8h8v8h-8zM987.76 63.8h8v8h-8zM1003.76 119.8h8v8h-8zM1003.76 151.8h8v8h-8zM899.76 175.8h8v8h-8zM907.76 191.8h8v8h-8zM739.76 215.8h16v8h-16zM763.76 215.8h16v8h-16zM867.76 215.8h8v8h-8zM899.76 215.8h8v8h-8zM1115.76 215.8h16v8h-16zM795.76 223.8h8v8h-8zM1155.76 223.8h8v8h-8zM1171.76 223.8h8v8h-8zM1203.76 223.8h8v8h-8zM715.76 231.8h8v8h-8zM803.76 231.8h8v8h-8zM1019.76 231.8h8v8h-8zM1043.76 231.8h16v8h-16zM1067.76 231.8h8v8h-8zM1091.76 231.8h8v8h-8zM739.76 239.8h8v8h-8zM803.76 239.8h8v8h-8zM1051.76 239.8h24v8h-24zM1179.76 239.8h24v8h-24zM763.76 247.8h8v8h-8zM891.76 247.8h16v8h-16zM1163.76 247.8h8v8h-8zM1147.76 255.8h8v8h-8zM867.76 263.8h8v8h-8zM859.76 271.8h16v8h-16zM907.76 279.8h8v8h-8zM859.76 287.8h16v8h-16zM915.76 303.8h8v8h-8zM939.76 343.8h8v8h-8zM979.76 343.8h8v8h-8z"/>
<path fill="rgb(36,36,36)" d="M987.76 47.8h8v8h-8zM1003.76 111.8h8v8h-8zM915.76 151.8h8v8h-8zM1011.76 167.8h8v8h-8zM1011.76 175.8h8v8h-8zM755.76 215.8h8v8h-8zM1011.76 215.8h8v8h-8zM723.76 223.8h8v8h-8zM843.76 223.8h8v8h-8zM1099.76 223.8h8v8h-8zM1147.76 223.8h8v8h-8zM1179.76 223.8h8v8h-8zM723.76 231.8h8v8h-8zM843.76 231.8h8v8h-8zM1059.76 231.8h8v8h-8zM1099.76 231.8h16v8h-16zM1203.76 231.8h8v8h-8zM851.76 239.8h8v8h-8zM1171.76 239.8h8v8h-8zM787.76 247.8h8v8h-8zM859.76 247.8h8v8h-8zM867.76 255.8h16v8h-16zM859.76 279.8h16v8h-16zM1019.76 279.8h8v8h-8zM907.76 287.8h8v8h-8zM1019.76 295.8h8v8h-8zM1011.76 303.8h8v8h-8zM987.76 335.8h8v8h-8z"/>
<path fill="rgb(37,37,37)" d="M731.76 223.8h8v8h-8zM787.76 223.8h8v8h-8zM1107.76 223.8h8v8h-8zM1139.76 223.8h8v8h-8zM1187.76 223.8h8v8h-8zM731.76 231.8h8v8h-8zM795.76 231.8h8v8h-8zM1115.76 231.8h8v8h-8zM1163.76 231.8h24v8h-24zM747.76 239.8h8v8h-8zM795.76 239.8h8v8h-8zM1131.76 239.8h8v8h-8zM1163.76 239.8h8v8h-8zM771.76 247.8h16v8h-16zM883.76 247.8h8v8h-8zM1139.76 247.8h8v8h-8zM1155.76 247.8h8v8h-8zM1011.76 255.8h8v8h-8zM1019.76 287.8h8v8h-8zM923.76 311.8h8v8h-8zM1003.76 311.8h8v8h-8zM931.76 327.8h8v8h-8z"/>
<path fill="rgb(38,38,38)" d="M939.76 39.8h8v8h-8zM987.76 55.8h8v8h-8zM995.76 95.8h8v8h-8zM739.76 223.8h8v8h-8zM851.76 223.8h8v8h-8zM1115.76 223.8h24v8h-24zM1195.76 223.8h8v8h-8zM739.76 231.8h8v8h-8zM851.76 231.8h8v8h-8zM1123.76 231.8h8v8h-8zM1187.76 231.8h16v8h-16zM755.76 239.8h8v8h-8zM867.76 247.8h8v8h-8zM1147.76 247.8h8v8h-8zM1011.76 263.8h8v8h-8z"/>
<path fill="rgb(39,39,39)" d="M907.76 167.8h8v8h-8zM907.76 183.8h8v8h-8zM1003.76 199.8h8v8h-8zM747.76 223.8h8v8h-8zM779.76 223.8h8v8h-8zM859.76 223.8h8v8h-8zM883.76 223.8h16v8h-16zM747.76 231.8h8v8h-8zM1131.76 231.8h8v8h-8zM1155.76 231.8h8v8h-8zM763.76 239.8h8v8h-8zM787.76 239.8h8v8h-8zM859.76 239.8h8v8h-8zM875.76 247.8h8v8h-8zM907.76 247.8h8v8h-8zM1011.76 247.8h8v8h-8zM995.76 319.8h8v8h-8z"/>
<path fill="rgb(40,40,40)" d="M971.76 31.8h8v8h-8zM939.76 71.8h8v8h-8zM939.76 79.8h8v8h-8zM1003.76 191.8h8v8h-8zM907.76 215.8h8v8h-8zM755.76 223.8h24v8h-24zM867.76 223.8h16v8h-16zM899.76 223.8h8v8h-8zM1011.76 223.8h8v8h-8zM787.76 231.8h8v8h-8zM859.76 231.8h8v8h-8zM1139.76 231.8h16v8h-16zM771.76 239.8h16v8h-16zM891.76 239.8h16v8h-16zM1139.76 239.8h8v8h-8zM1155.76 239.8h8v8h-8zM915.76 263.8h8v8h-8zM915.76 271.8h8v8h-8zM1011.76 271.8h8v8h-8zM1011.76 295.8h8v8h-8zM947.76 343.8h8v8h-8zM971.76 343.8h8v8h-8z"/>
<path fill="rgb(41,41,41)" d="M923.76 135.8h8v8h-8zM907.76 175.8h8v8h-8zM915.76 199.8h8v8h-8zM755.76 231.8h16v8h-16zM779.76 231.8h8v8h-8zM891.76 231.8h8v8h-8zM867.76 239.8h8v8h-8zM883.76 239.8h8v8h-8zM1011.76 239.8h8v8h-8zM1147.76 239.8h8v8h-8zM915.76 295.8h8v8h-8zM931.76 319.8h8v8h-8zM939.76 335.8h8v8h-8z"/>
<path fill="rgb(42,42,42)" d="M987.76 87.8h8v8h-8zM1003.76 159.8h8v8h-8zM1003.76 207.8h8v8h-8zM771.76 231.8h8v8h-8zM867.76 231.8h24v8h-24zM899.76 231.8h8v8h-8zM1011.76 231.8h8v8h-8zM875.76 239.8h8v8h-8zM915.76 279.8h8v8h-8zM1011.76 279.8h8v8h-8zM987.76 327.8h8v8h-8z"/>
<path fill="rgb(43,43,43)" d="M923.76 143.8h8v8h-8zM915.76 207.8h8v8h-8zM915.76 255.8h8v8h-8zM915.76 287.8h8v8h-8zM1011.76 287.8h8v8h-8zM1003.76 303.8h8v8h-8zM979.76 335.8h8v8h-8zM955.76 343.8h16v8h-16z"/>
<path fill="rgb(44,44,44)" d="M955.76 31.8h8v8h-8zM915.76 159.8h8v8h-8zM915.76 191.8h8v8h-8zM923.76 303.8h8v8h-8z"/>
<path fill="rgb(45,45,45)" d="M979.76 39.8h8v8h-8zM923.76 103.8h8v8h-8zM1003.76 183.8h8v8h-8zM907.76 223.8h8v8h-8zM907.76 239.8h8v8h-8zM995.76 311.8h8v8h-8z"/>
<path fill="rgb(46,46,46)" d="M963.76 31.8h8v8h-8zM923.76 127.8h8v8h-8zM939.76 327.8h8v8h-8z"/>
<path fill="rgb(47,47,47)" d="M995.76 135.8h8v8h-8zM995.76 143.8h8v8h-8zM1003.76 167.8h8v8h-8zM907.76 231.8h8v8h-8zM931.76 311.8h8v8h-8z"/>
<path fill="rgb(48,48,48)" d="M939.76 63.8h8v8h-8zM979.76 71.8h8v8h-8zM979.76 79.8h8v8h-8zM1003.76 175.8h8v8h-8zM1003.76 295.8h8v8h-8zM947.76 335.8h8v8h-8z"/>
<path fill="rgb(49,49,49)" d="M939.76 47.8h8v8h-8zM915.76 183.8h8v8h-8zM915.76 215.8h8v8h-8zM1003.76 215.8h8v8h-8zM915.76 247.8h8v8h-8zM1003.76 263.8h8v8h-8zM987.76 319.8h8v8h-8zM971.76 335.8h8v8h-8z"/>
<path fill="rgb(50,50,50)" d="M1003.76 255.8h8v8h-8zM923.76 295.8h8v8h-8z"/>
<path fill="rgb(51,51,51)" d="M923.76 151.8h8v8h-8zM915.76 167.8h8v8h-8zM1003.76 271.8h8v8h-8zM939.76 319.8h8v8h-8zM979.76 327.8h8v8h-8z"/>
<path fill="rgb(52,52,52)" d="M995.76 103.8h8v8h-8zM923.76 111.8h8v8h-8zM923.76 119.8h8v8h-8zM995.76 127.8h8v8h-8zM1003.76 279.8h8v8h-8zM1003.76 287.8h8v8h-8zM955.76 335.8h16v8h-16z"/>
<path fill="rgb(53,53,53)" d="M939.76 55.8h8v8h-8zM915.76 175.8h8v8h-8zM1003.76 247.8h8v8h-8zM995.76 303.8h8v8h-8z"/>
<path fill="rgb(54,54,54)" d="M931.76 95.8h8v8h-8zM923.76 271.8h8v8h-8zM923.76 287.8h8v8h-8zM947.76 327.8h8v8h-8z"/>
<path fill="rgb(55,55,55)" d="M995.76 151.8h8v8h-8zM915.76 223.8h8v8h-8zM1003.76 223.8h8v8h-8zM915.76 239.8h8v8h-8zM923.76 263.8h8v8h-8zM923.76 279.8h8v8h-8zM931.76 303.8h8v8h-8z"/>
<path fill="rgb(56,56,56)" d="M947.76 39.8h8v8h-8zM939.76 87.8h8v8h-8zM923.76 199.8h8v8h-8zM1003.76 239.8h8v8h-8zM987.76 311.8h8v8h-8z"/>
<path fill="rgb(57,57,57)" d="M995.76 199.8h8v8h-8zM971.76 327.8h8v8h-8z"/>
<path fill="rgb(58,58,58)" d="M979.76 63.8h8v8h-8zM923.76 207.8h8v8h-8zM915.76 231.8h8v8h-8zM1003.76 231.8h8v8h-8zM939.76 311.8h8v8h-8zM979.76 319.8h8v8h-8z"/>
<path fill="rgb(59,59,59)" d="M979.76 47.8h8v8h-8zM947.76 71.8h8v8h-8zM947.76 79.8h8v8h-8zM995.76 191.8h8v8h-8zM923.76 255.8h8v8h-8z"/>
<path fill="rgb(60,60,60)" d="M995.76 119.8h8v8h-8zM923.76 191.8h8v8h-8zM995.76 295.8h8v8h-8zM955.76 327.8h8v8h-8z"/>
<path fill="rgb(61,61,61)" d="M995.76 111.8h8v8h-8zM947.76 319.8h8v8h-8zM963.76 327.8h8v8h-8z"/>
<path fill="rgb(63,63,63)" d="M923.76 159.8h8v8h-8zM995.76 207.8h8v8h-8zM931.76 295.8h8v8h-8z"/>
<path fill="rgb(64,64,64)" d="M971.76 39.8h8v8h-8zM979.76 55.8h8v8h-8z"/>
<path fill="rgb(65,65,65)" d="M987.76 95.8h8v8h-8zM995.76 159.8h8v8h-8zM995.76 287.8h8v8h-8z"/>
<path fill="rgb(66,66,66)" d="M931.76 135.8h8v8h-8zM995.76 183.8h8v8h-8zM923.76 215.8h8v8h-8zM995.76 263.8h8v8h-8zM995.76 271.8h8v8h-8zM987.76 303.8h8v8h-8zM971.76 319.8h8v8h-8z"/>
<path fill="rgb(67,67,67)" d="M971.76 71.8h8v8h-8zM971.76 79.8h8v8h-8zM979.76 87.8h8v8h-8zM923.76 247.8h8v8h-8zM995.76 279.8h8v8h-8zM979.76 311.8h8v8h-8zM955.76 319.8h8v8h-8z"/>
<path fill="rgb(68,68,68)" d="M931.76 143.8h8v8h-8zM923.76 183.8h8v8h-8zM939.76 303.8h8v8h-8z"/>
<path fill="rgb(69,69,69)" d="M995.76 255.8h8v8h-8zM931.76 287.8h8v8h-8zM963.76 319.8h8v8h-8z"/>
<path fill="rgb(70,70,70)" d="M947.76 311.8h8v8h-8z"/>
<path fill="rgb(71,71,71)" d="M955.76 39.8h8v8h-8zM923.76 167.8h8v8h-8z"/>
<path fill="rgb(72,72,72)" d="M947.76 63.8h8v8h-8zM995.76 167.8h8v8h-8zM995.76 175.8h8v8h-8zM931.76 279.8h8v8h-8z"/>
<path fill="rgb(73,73,73)" d="M923.76 175.8h8v8h-8zM995.76 215.8h8v8h-8zM931.76 271.8h8v8h-8z"/>
<path fill="rgb(74,74,74)" d="M963.76 39.8h8v8h-8zM947.76 47.8h8v8h-8zM955.76 79.8h8v8h-8zM923.76 223.8h8v8h-8zM923.76 239.8h8v8h-8z"/>
<path fill="rgb(75,75,75)" d="M955.76 71.8h8v8h-8zM931.76 103.8h8v8h-8zM931.76 127.8h8v8h-8zM995.76 247.8h8v8h-8zM987.76 295.8h8v8h-8z"/>
<path fill="rgb(76,76,76)" d="M931.76 263.8h8v8h-8zM971.76 311.8h8v8h-8z"/>
<path fill="rgb(77,77,77)" d="M963.76 79.8h8v8h-8zM923.76 231.8h8v8h-8z"/>
<path fill="rgb(78,78,78)" d="M963.76 71.8h8v8h-8zM955.76 311.8h8v8h-8z"/>
<path fill="rgb(79,79,79)" d="M987.76 135.8h8v8h-8zM987.76 143.8h8v8h-8zM931.76 151.8h8v8h-8zM939.76 295.8h8v8h-8zM979.76 303.8h8v8h-8z"/>
<path fill="rgb(80,80,80)" d="M947.76 55.8h8v8h-8zM963.76 311.8h8v8h-8z"/>
<path fill="rgb(81,81,81)" d="M971.76 63.8h8v8h-8zM931.76 199.8h8v8h-8z"/>
<path fill="rgb(82,82,82)" d="M947.76 87.8h8v8h-8zM995.76 223.8h8v8h-8zM995.76 239.8h8v8h-8zM987.76 287.8h8v8h-8zM947.76 303.8h8v8h-8z"/>
<path fill="rgb(83,83,83)" d="M971.76 47.8h8v8h-8zM931.76 255.8h8v8h-8z"/>
<path fill="rgb(84,84,84)" d="M931.76 207.8h8v8h-8z"/>
<path fill="rgb(85,85,85)" d="M931.76 119.8h8v8h-8zM995.76 231.8h8v8h-8zM987.76 279.8h8v8h-8z"/>
<path fill="rgb(86,86,86)" d="M987.76 199.8h8v8h-8zM987.76 271.8h8v8h-8z"/>
<path fill="rgb(87,87,87)" d="M939.76 95.8h8v8h-8zM931.76 111.8h8v8h-8zM931.76 191.8h8v8h-8zM939.76 287.8h8v8h-8z"/>
<path fill="rgb(88,88,88)" d="M987.76 263.8h8v8h-8z"/>
<path fill="rgb(89,89,89)" d="M971.76 303.8h8v8h-8z"/>
<path fill="rgb(90,90,90)" d="M971.76 55.8h8v8h-8zM955.76 63.8h8v8h-8zM987.76 103.8h8v8h-8zM987.76 127.8h8v8h-8zM987.76 151.8h8v8h-8zM979.76 295.8h8v8h-8z"/>
<path fill="rgb(91,91,91)" d="M987.76 191.8h8v8h-8zM955.76 303.8h8v8h-8z"/>
<path fill="rgb(92,92,92)" d="M939.76 279.8h8v8h-8z"/>
<path fill="rgb(93,93,93)" d="M955.76 47.8h8v8h-8zM971.76 87.8h8v8h-8zM987.76 207.8h8v8h-8zM931.76 247.8h8v8h-8zM963.76 303.8h8v8h-8z"/>
<path fill="rgb(94,94,94)" d="M963.76 63.8h8v8h-8zM931.76 159.8h8v8h-8zM931.76 215.8h8v8h-8zM947.76 295.8h8v8h-8z"/>
<path fill="rgb(95,95,95)" d="M987.76 255.8h8v8h-8zM939.76 271.8h8v8h-8z"/>
<path fill="rgb(97,97,97)" d="M963.76 47.8h8v8h-8z"/>
<path fill="rgb(99,99,99)" d="M931.76 183.8h8v8h-8zM979.76 287.8h8v8h-8z"/>
<path fill="rgb(100,100,100)" d="M955.76 55.8h8v8h-8z"/>
<path fill="rgb(101,101,101)" d="M939.76 263.8h8v8h-8z"/>
<path fill="rgb(102,102,102)" d="M987.76 183.8h8v8h-8zM971.76 295.8h8v8h-8z"/>
<path fill="rgb(103,103,103)" d="M955.76 87.8h8v8h-8zM987.76 119.8h8v8h-8zM931.76 239.8h8v8h-8z"/>
<path fill="rgb(104,104,104)" d="M963.76 55.8h8v8h-8zM979.76 95.8h8v8h-8zM987.76 159.8h8v8h-8zM979.76 279.8h8v8h-8z"/>
<path fill="rgb(105,105,105)" d="M987.76 111.8h8v8h-8zM939.76 135.8h8v8h-8zM939.76 143.8h8v8h-8zM931.76 167.8h8v8h-8zM931.76 223.8h8v8h-8zM947.76 287.8h8v8h-8zM955.76 295.8h8v8h-8z"/>
<path fill="rgb(106,106,106)" d="M987.76 247.8h8v8h-8z"/>
<path fill="rgb(107,107,107)" d="M963.76 87.8h8v8h-8zM931.76 175.8h8v8h-8zM979.76 271.8h8v8h-8z"/>
<path fill="rgb(108,108,108)" d="M987.76 215.8h8v8h-8zM931.76 231.8h8v8h-8zM963.76 295.8h8v8h-8z"/>
<path fill="rgb(111,111,111)" d="M947.76 279.8h8v8h-8z"/>
<path fill="rgb(112,112,112)" d="M987.76 175.8h8v8h-8zM939.76 255.8h8v8h-8z"/>
<path fill="rgb(113,113,113)" d="M987.76 167.8h8v8h-8zM979.76 263.8h8v8h-8zM971.76 287.8h8v8h-8z"/>
<path fill="rgb(114,114,114)" d="M939.76 199.8h8v8h-8z"/>
<path fill="rgb(117,117,117)" d="M987.76 239.8h8v8h-8zM947.76 271.8h8v8h-8zM955.76 287.8h8v8h-8z"/>
<path fill="rgb(118,118,118)" d="M939.76 207.8h8v8h-8z"/>
<path fill="rgb(120,120,120)" d="M939.76 127.8h8v8h-8zM939.76 151.8h8v8h-8zM987.76 223.8h8v8h-8zM971.76 279.8h8v8h-8zM963.76 287.8h8v8h-8z"/>
<path fill="rgb(121,121,121)" d="M939.76 103.8h8v8h-8z"/>
<path fill="rgb(123,123,123)" d="M979.76 143.8h8v8h-8zM979.76 199.8h8v8h-8z"/>
<path fill="rgb(124,124,124)" d="M979.76 135.8h8v8h-8zM939.76 191.8h8v8h-8zM987.76 231.8h8v8h-8zM979.76 255.8h8v8h-8z"/>
<path fill="rgb(125,125,125)" d="M947.76 263.8h8v8h-8zM971.76 271.8h8v8h-8zM955.76 279.8h8v8h-8z"/>
<path fill="rgb(127,127,127)" d="M947.76 95.8h8v8h-8zM939.76 247.8h8v8h-8z"/>
<path fill="rgb(128,128,128)" d="M963.76 279.8h8v8h-8z"/>
<path fill="rgb(130,130,130)" d="M979.76 207.8h8v8h-8z"/>
<path fill="rgb(131,131,131)" d="M955.76 271.8h8v8h-8z"/>
<path fill="rgb(132,132,132)" d="M979.76 191.8h8v8h-8zM939.76 215.8h8v8h-8z"/>
<path fill="rgb(133,133,133)" d="M971.76 263.8h8v8h-8z"/>
<path fill="rgb(134,134,134)" d="M963.76 271.8h8v8h-8z"/>
<path fill="rgb(138,138,138)" d="M939.76 119.8h8v8h-8zM979.76 151.8h8v8h-8z"/>
<path fill="rgb(140,140,140)" d="M939.76 111.8h8v8h-8zM939.76 159.8h8v8h-8zM947.76 255.8h8v8h-8z"/>
<path fill="rgb(141,141,141)" d="M979.76 247.8h8v8h-8zM955.76 263.8h8v8h-8z"/>
<path fill="rgb(142,142,142)" d="M939.76 183.8h8v8h-8zM939.76 239.8h8v8h-8z"/>
<path fill="rgb(143,143,143)" d="M971.76 95.8h8v8h-8zM979.76 127.8h8v8h-8z"/>
<path fill="rgb(144,144,144)" d="M979.76 103.8h8v8h-8zM963.76 263.8h8v8h-8z"/>
<path fill="rgb(146,146,146)" d="M939.76 223.8h8v8h-8z"/>
<path fill="rgb(148,148,148)" d="M979.76 215.8h8v8h-8z"/>
<path fill="rgb(149,149,149)" d="M947.76 143.8h8v8h-8zM947.76 199.8h8v8h-8zM939.76 231.8h8v8h-8zM971.76 255.8h8v8h-8z"/>
<path fill="rgb(151,151,151)" d="M947.76 135.8h8v8h-8zM979.76 183.8h8v8h-8z"/>
<path fill="rgb(153,153,153)" d="M947.76 207.8h8v8h-8z"/>
<path fill="rgb(154,154,154)" d="M939.76 167.8h8v8h-8z"/>
<path fill="rgb(155,155,155)" d="M939.76 175.8h8v8h-8z"/>
<path fill="rgb(158,158,158)" d="M979.76 159.8h8v8h-8zM971.76 199.8h8v8h-8zM979.76 239.8h8v8h-8z"/>
<path fill="rgb(159,159,159)" d="M955.76 95.8h8v8h-8zM955.76 255.8h8v8h-8z"/>
<path fill="rgb(161,161,161)" d="M947.76 247.8h8v8h-8z"/>
<path fill="rgb(163,163,163)" d="M979.76 119.8h8v8h-8zM963.76 255.8h8v8h-8z"/>
<path fill="rgb(164,164,164)" d="M947.76 191.8h8v8h-8zM971.76 207.8h8v8h-8z"/>
<path fill="rgb(165,165,165)" d="M979.76 223.8h8v8h-8z"/>
<path fill="rgb(166,166,166)" d="M963.76 95.8h8v8h-8zM971.76 143.8h8v8h-8z"/>
<path fill="rgb(167,167,167)" d="M979.76 111.8h8v8h-8zM979.76 175.8h8v8h-8z"/>
<path fill="rgb(168,168,168)" d="M947.76 151.8h8v8h-8zM979.76 231.8h8v8h-8z"/>
<path fill="rgb(170,170,170)" d="M971.76 135.8h8v8h-8zM979.76 167.8h8v8h-8z"/>
<path fill="rgb(171,171,171)" d="M947.76 215.8h8v8h-8z"/>
<path fill="rgb(172,172,172)" d="M971.76 247.8h8v8h-8z"/>
<path fill="rgb(173,173,173)" d="M971.76 191.8h8v8h-8z"/>
<path fill="rgb(174,174,174)" d="M947.76 127.8h8v8h-8zM955.76 199.8h8v8h-8z"/>
<path fill="rgb(176,176,176)" d="M947.76 103.8h8v8h-8z"/>
<path fill="rgb(178,178,178)" d="M963.76 199.8h8v8h-8zM955.76 207.8h8v8h-8z"/>
<path fill="rgb(181,181,181)" d="M947.76 239.8h8v8h-8z"/>
<path fill="rgb(183,183,183)" d="M963.76 207.8h8v8h-8z"/>
<path fill="rgb(184,184,184)" d="M955.76 143.8h8v8h-8zM955.76 247.8h8v8h-8z"/>
<path fill="rgb(185,185,185)" d="M971.76 151.8h8v8h-8zM971.76 215.8h8v8h-8z"/>
<path fill="rgb(187,187,187)" d="M955.76 135.8h8v8h-8z"/>
<path fill="rgb(188,188,188)" d="M947.76 223.8h8v8h-8zM963.76 247.8h8v8h-8z"/>
<path fill="rgb(189,189,189)" d="M947.76 183.8h8v8h-8z"/>
<path fill="rgb(191,191,191)" d="M963.76 143.8h8v8h-8z"/>
<path fill="rgb(192,192,192)" d="M955.76 191.8h8v8h-8zM947.76 231.8h8v8h-8z"/>
<path fill="rgb(193,193,193)" d="M947.76 159.8h8v8h-8z"/>
<path fill="rgb(195,195,195)" d="M963.76 135.8h8v8h-8zM971.76 239.8h8v8h-8z"/>
<path fill="rgb(196,196,196)" d="M971.76 127.8h8v8h-8zM963.76 191.8h8v8h-8z"/>
<path fill="rgb(198,198,198)" d="M971.76 103.8h8v8h-8z"/>
<path fill="rgb(199,199,199)" d="M971.76 183.8h8v8h-8zM955.76 215.8h8v8h-8z"/>
<path fill="rgb(200,200,200)" d="M947.76 119.8h8v8h-8z"/>
<path fill="rgb(204,204,204)" d="M947.76 111.8h8v8h-8zM963.76 215.8h8v8h-8zM971.76 223.8h8v8h-8z"/>
<path fill="rgb(205,205,205)" d="M955.76 151.8h8v8h-8z"/>
<path fill="rgb(208,208,208)" d="M947.76 175.8h8v8h-8zM971.76 231.8h8v8h-8z"/>
<path fill="rgb(209,209,209)" d="M955.76 239.8h8v8h-8z"/>
<path fill="rgb(210,210,210)" d="M947.76 167.8h8v8h-8z"/>
<path fill="rgb(211,211,211)" d="M971.76 159.8h8v8h-8z"/>
<path fill="rgb(212,212,212)" d="M963.76 151.8h8v8h-8z"/>
<path fill="rgb(214,214,214)" d="M963.76 239.8h8v8h-8z"/>
<path fill="rgb(216,216,216)" d="M955.76 127.8h8v8h-8z"/>
<path fill="rgb(218,218,218)" d="M955.76 223.8h8v8h-8z"/>
<path fill="rgb(220,220,220)" d="M955.76 103.8h8v8h-8z"/>
<path fill="rgb(222,222,222)" d="M971.76 175.8h8v8h-8z"/>
<path fill="rgb(223,223,223)" d="M955.76 183.8h8v8h-8zM955.76 231.8h8v8h-8z"/>
<path fill="rgb(225,225,225)" d="M971.76 119.8h8v8h-8zM963.76 127.8h8v8h-8zM963.76 223.8h8v8h-8z"/>
<path fill="rgb(226,226,226)" d="M971.76 167.8h8v8h-8z"/>
<path fill="rgb(228,228,228)" d="M963.76 183.8h8v8h-8z"/>
<path fill="rgb(229,229,229)" d="M963.76 103.8h8v8h-8zM963.76 231.8h8v8h-8z"/>
<path fill="rgb(230,230,230)" d="M971.76 111.8h8v8h-8z"/>
<path fill="rgb(234,234,234)" d="M955.76 159.8h8v8h-8z"/>
<path fill="rgb(242,242,242)" d="M963.76 159.8h8v8h-8z"/>
<path fill="rgb(248,248,248)" d="M955.76 175.8h8v8h-8z"/>
<path fill="rgb(249,249,249)" d="M955.76 119.8h8v8h-8z"/>
<path fill="rgb(252,252,252)" d="M955.76 167.8h8v8h-8z"/>
<path fill="rgb(254,254,254)" d="M955.76 111.8h8v8h-8zM963.76 175.8h8v8h-8z"/>
<path fill="rgb(255,255,255)" d="M963.76 111.8h8v8h-8zM963.76 119.8h8v8h-8zM963.76 167.8h8v8h-8z"/>
</g></g>
<path d="M851.5 47.8V580.24M1048.5 47.8V580.24" stroke="#fff" stroke-width="1"/>
<rect x="699.76" y="47.8" width="532.48" height="532.44" fill="none" stroke="#000" stroke-width="0.75"/>
<path d="M750.49 580.24H1180.41M750.49 580.24v6M857.97 580.24v6M965.45 580.24v6M1072.93 580.24v6M1180.41 580.24v6" stroke="#000" stroke-width="0.75" fill="none"/>
<text x="750.49" y="601.94" text-anchor="middle" font-size="10.4">-400</text>
<text x="857.97" y="601.94" text-anchor="middle" font-size="10.4">-200</text>
<text x="965.45" y="601.94" text-anchor="middle" font-size="10.4">0</text>
<text x="1072.93" y="601.94" text-anchor="middle" font-size="10.4">200</text>
<text x="1180.41" y="601.94" text-anchor="middle" font-size="10.4">400</text>
<path d="M699.76 511.75V47.8M699.76 511.75h-6M699.76 357.1h-6M699.76 202.45h-6M699.76 47.8h-6" stroke="#000" stroke-width="0.75" fill="none"/>
<text transform="translate(685.36 511.75) rotate(-90)" text-anchor="middle" font-size="10.4">85</text>
<text transform="translate(685.36 357.1) rotate(-90)" text-anchor="middle" font-size="10.4">90</text>
<text transform="translate(685.36 202.45) rotate(-90)" text-anchor="middle" font-size="10.4">95</text>
<text transform="translate(685.36 47.8) rotate(-90)" text-anchor="middle" font-size="10.4">100</text>
<text x="966" y="31.7" text-anchor="middle" font-size="21.5" font-weight="bold">Density heat map for the top hits</text>
<text x="966" y="625.9" text-anchor="middle" font-size="15.94">Distance to peak summit</text>
<text transform="translate(661.9 314.02) rotate(-90)" text-anchor="middle" font-size="15.94">Motif score</text>
<path d="M923.8 47.8V580.24" stroke="#006400" stroke-width="1.5" stroke-dasharray="6 6" stroke-dashoffset="0.95" stroke-linecap="round"/>
<path d="M1007.1 47.8V580.24" stroke="#006400" stroke-width="1.5" stroke-dasharray="6 6" stroke-dashoffset="0.95" stroke-linecap="round"/>
<path d="M699.76 366.38H1232.24" stroke="#CC1F1F" stroke-width="1.5" stroke-dasharray="6 6" stroke-linecap="round"/>
<path d="M79 1200.4C84.98 1200.27 105.05 1200.2 114.9 1199.6C124.75 1199 131.43 1197.18 138.1 1196.8C144.77 1196.42 148.93 1197.47 154.9 1197.3C160.87 1197.13 167.92 1196.17 173.9 1195.8C179.88 1195.43 185.87 1195.98 190.8 1195.1C195.73 1194.22 199.28 1193.38 203.5 1190.5C207.72 1187.62 211.88 1182.02 216.1 1177.8C220.32 1173.58 224.58 1169.23 228.8 1165.2C233.02 1161.17 237.18 1157.65 241.4 1153.6C245.62 1149.55 250.93 1143.37 254.1 1140.9C257.27 1138.43 257.93 1139.5 260.4 1138.8C262.87 1138.1 266.43 1138.28 268.9 1136.7C271.37 1135.12 272.75 1135.1 275.2 1129.3C277.65 1123.5 280.78 1111.73 283.6 1101.9C286.42 1092.07 289.28 1080.15 292.1 1070.3C294.92 1060.45 297.7 1050.55 300.5 1042.8C303.3 1035.05 305.86 1029.27 308.9 1023.8C311.94 1018.33 316.07 1015.22 318.75 1010C321.43 1004.78 322.71 1002.5 325 992.5C327.29 982.5 330.21 964.58 332.5 950C334.79 935.42 336.67 915.54 338.75 905C340.83 894.46 342.92 888.42 345 886.75C347.08 885.08 348.83 891.04 351.25 895C353.67 898.96 357 911.33 359.5 910.5C362 909.67 364.08 901.75 366.25 890C368.42 878.25 370.21 861.67 372.5 840C374.79 818.33 377.71 780.75 380 760C382.29 739.25 384.55 724.2 386.25 715.5C387.95 706.8 388.74 706.63 390.2 707.8C391.66 708.97 393.16 711.72 395 722.5C396.84 733.28 399.17 748.75 401.25 772.5C403.33 796.25 405.21 839.17 407.5 865C409.79 890.83 412.5 925.42 415 927.5C417.5 929.58 420 897.5 422.5 877.5C425 857.5 427.67 823 430 807.5C432.33 792 433.63 776.43 436.5 784.5C439.37 792.57 443.98 826.8 447.2 855.9C450.42 885 452.93 933.42 455.8 959.1C458.67 984.78 461.53 1010.58 464.4 1010C467.27 1009.42 470.02 972.85 473 955.6C475.98 938.35 479.15 905.92 482.3 906.5C485.45 907.08 489.02 930.18 491.9 959.1C494.78 988.02 497.72 1053.08 499.6 1080C501.48 1106.92 502 1109.43 503.2 1120.6C504.4 1131.77 505.37 1140.32 506.8 1147C508.23 1153.68 510.12 1160.02 511.8 1160.7C513.48 1161.38 515.12 1157.27 516.9 1151.1C518.68 1144.93 520.72 1131.48 522.5 1123.7C524.28 1115.92 526 1108.8 527.6 1104.4C529.2 1100 530.58 1097.47 532.1 1097.3C533.62 1097.13 535.08 1099.17 536.7 1103.4C538.32 1107.63 540.1 1115.6 541.8 1122.7C543.5 1129.8 545.2 1138.22 546.9 1146C548.6 1153.78 550.15 1162.45 552 1169.4C553.85 1176.35 555.8 1182.97 558 1187.7C560.2 1192.43 562.73 1195.7 565.2 1197.8C567.67 1199.9 571.53 1199.88 572.8 1200.3Z" fill="#F5DEB3" stroke="#000" stroke-width="1.2"/>
<path d="M283.34 687.8V1220.24" stroke="#CC1F1F" stroke-width="1.5" stroke-dasharray="6 6" stroke-dashoffset="1.45" stroke-linecap="round"/>
<rect x="59.76" y="687.8" width="532.48" height="532.44" fill="none" stroke="#000" stroke-width="0.75"/>
<path d="M166.4 1220.24H539.6M166.4 1220.24v6M290.8 1220.24v6M415.2 1220.24v6M539.6 1220.24v6" stroke="#000" stroke-width="0.75" fill="none"/>
<text x="166.4" y="1241.94" text-anchor="middle" font-size="10.4">85</text>
<text x="290.8" y="1241.94" text-anchor="middle" font-size="10.4">90</text>
<text x="415.2" y="1241.94" text-anchor="middle" font-size="10.4">95</text>
<text x="539.6" y="1241.94" text-anchor="middle" font-size="10.4">100</text>
<path d="M59.76 1200.4V779.2M59.76 1200.4h-6M59.76 1060h-6M59.76 919.6h-6M59.76 779.2h-6" stroke="#000" stroke-width="0.75" fill="none"/>
<text transform="translate(45.36 1200.4) rotate(-90)" text-anchor="middle" font-size="10.4">0.00</text>
<text transform="translate(45.36 1060) rotate(-90)" text-anchor="middle" font-size="10.4">0.05</text>
<text transform="translate(45.36 919.6) rotate(-90)" text-anchor="middle" font-size="10.4">0.10</text>
<text transform="translate(45.36 779.2) rotate(-90)" text-anchor="middle" font-size="10.4">0.15</text>
<text x="326" y="671.7" text-anchor="middle" font-size="21.5" font-weight="bold">Motif score threshold: 89.700</text>
<text x="326" y="1265.9" text-anchor="middle" font-size="15.94">Motif score</text>
<text transform="translate(21.9 954.02) rotate(-90)" text-anchor="middle" font-size="15.94">Density</text>
<path d="M719.3 1200.3C720.82 1200.05 725.52 1200.07 728.4 1198.8C731.28 1197.53 733.88 1196.25 736.6 1192.7C739.32 1189.15 742 1182.73 744.7 1177.5C747.4 1172.27 750.1 1165.7 752.8 1161.3C755.5 1156.9 757.52 1154.08 760.9 1151.1C764.28 1148.12 768.7 1145.43 773.1 1143.4C777.5 1141.37 783.23 1139.13 787.3 1138.9C791.37 1138.67 793.77 1140.92 797.5 1142C801.23 1143.08 804.28 1144.7 809.7 1145.4C815.12 1146.1 824.25 1146.2 830 1146.2C835.75 1146.2 838.78 1145.2 844.2 1145.4C849.62 1145.6 856.4 1147.4 862.5 1147.4C868.6 1147.4 875.72 1145.53 880.8 1145.4C885.88 1145.27 889.28 1147 893 1146.6C896.72 1146.2 899.38 1144.97 903.1 1143C906.82 1141.03 911.92 1138.18 915.3 1134.8C918.68 1131.42 921.03 1127.43 923.4 1122.7C925.77 1117.97 927.63 1115.63 929.5 1106.4C931.37 1097.17 932.65 1082.02 934.6 1067.3C936.55 1052.58 939.02 1037.23 941.2 1018.1C943.38 998.97 945.68 977.12 947.7 952.5C949.72 927.88 951.48 897.75 953.3 870.4C955.12 843.05 957.18 811.9 958.6 788.4C960.02 764.9 960.6 742.95 961.8 729.4C963 715.85 964.32 707.1 965.8 707.1C967.28 707.1 969.33 715.85 970.7 729.4C972.07 742.95 972.63 764.9 974 788.4C975.37 811.9 977.1 843.05 978.9 870.4C980.7 897.75 982.88 927.88 984.8 952.5C986.72 977.12 988.38 998.97 990.4 1018.1C992.42 1037.23 994.97 1052.65 996.9 1067.3C998.83 1081.95 1000.37 1097.45 1002 1106C1003.63 1114.55 1004.22 1113.97 1006.7 1118.6C1009.18 1123.23 1013.17 1129.9 1016.9 1133.8C1020.63 1137.7 1025.03 1140.07 1029.1 1142C1033.17 1143.93 1035.88 1144.97 1041.3 1145.4C1046.72 1145.83 1055.18 1144.27 1061.6 1144.6C1068.02 1144.93 1075.07 1147.5 1079.8 1147.4C1084.53 1147.3 1085.93 1145.15 1090 1144C1094.07 1142.85 1099.47 1140.83 1104.2 1140.5C1108.93 1140.17 1113.32 1141.32 1118.4 1142C1123.48 1142.68 1128.93 1144.53 1134.7 1144.6C1140.47 1144.67 1147.58 1142.17 1153 1142.4C1158.42 1142.63 1163.15 1143.53 1167.2 1146C1171.25 1148.47 1173.92 1151.95 1177.3 1157.2C1180.68 1162.45 1184.1 1171.23 1187.5 1177.5C1190.9 1183.77 1194.32 1191.08 1197.7 1194.8C1201.08 1198.52 1205.27 1198.88 1207.8 1199.8C1210.33 1200.72 1212.05 1200.22 1212.9 1200.3Z" fill="#F5DEB3" stroke="#000" stroke-width="1.2"/>
<path d="M931.08 687.8V1220.24" stroke="#006400" stroke-width="1.5" stroke-dasharray="6 6" stroke-dashoffset="1.55" stroke-linecap="round"/>
<path d="M999.62 687.8V1220.24" stroke="#006400" stroke-width="1.5" stroke-dasharray="6 6" stroke-dashoffset="1.55" stroke-linecap="round"/>
<rect x="699.76" y="687.8" width="532.48" height="532.44" fill="none" stroke="#000" stroke-width="0.75"/>
<path d="M700 1220.24H1230.7M700 1220.24v6M788.45 1220.24v6M876.9 1220.24v6M965.35 1220.24v6M1053.8 1220.24v6M1142.25 1220.24v6M1230.7 1220.24v6" stroke="#000" stroke-width="0.75" fill="none"/>
<text x="700" y="1241.94" text-anchor="middle" font-size="10.4">-600</text>
<text x="788.45" y="1241.94" text-anchor="middle" font-size="10.4">-400</text>
<text x="876.9" y="1241.94" text-anchor="middle" font-size="10.4">-200</text>
<text x="965.35" y="1241.94" text-anchor="middle" font-size="10.4">0</text>
<text x="1053.8" y="1241.94" text-anchor="middle" font-size="10.4">200</text>
<text x="1142.25" y="1241.94" text-anchor="middle" font-size="10.4">400</text>
<text x="1230.7" y="1241.94" text-anchor="middle" font-size="10.4">600</text>
<path d="M699.76 1200.3V740.5M699.76 1200.3h-6M699.76 1108.34h-6M699.76 1016.38h-6M699.76 924.42h-6M699.76 832.46h-6M699.76 740.5h-6" stroke="#000" stroke-width="0.75" fill="none"/>
<text transform="translate(685.36 1200.3) rotate(-90)" text-anchor="middle" font-size="10.4">0.000</text>
<text transform="translate(685.36 1108.34) rotate(-90)" text-anchor="middle" font-size="10.4">0.001</text>
<text transform="translate(685.36 1016.38) rotate(-90)" text-anchor="middle" font-size="10.4">0.002</text>
<text transform="translate(685.36 924.42) rotate(-90)" text-anchor="middle" font-size="10.4">0.003</text>
<text transform="translate(685.36 832.46) rotate(-90)" text-anchor="middle" font-size="10.4">0.004</text>
<text transform="translate(685.36 740.5) rotate(-90)" text-anchor="middle" font-size="10.4">0.005</text>
<text x="966" y="671.7" text-anchor="middle" font-size="21.5" font-weight="bold">Enrichment zone: 77.50</text>
<text x="966" y="1265.9" text-anchor="middle" font-size="15.94">Distance to peak summit</text>
<text transform="translate(661.9 954.02) rotate(-90)" text-anchor="middle" font-size="15.94">Density</text>
<path d="M1018 703.4H1041.3" stroke="#006400" stroke-width="1.125" stroke-dasharray="1.125 3.35" stroke-linecap="round"/>
<path d="M1018 718.8H1041.3" stroke="#FF0000" stroke-width="1.125" stroke-dasharray="1.125 3.35" stroke-linecap="round" stroke-opacity="0.75"/>
<circle cx="1028.9" cy="734.4" r="3" fill="#0000FF"/>
<text x="1052.5" y="707.6" font-size="12.95">enrichment zone = 77.5</text>
<text x="1052.5" y="723.15" font-size="12.95">motif score threshold = 89.700</text>
<text x="1052.5" y="738.7" font-size="12.95">centrality p-val = -22.2847</text>
</svg>
</body></html>
